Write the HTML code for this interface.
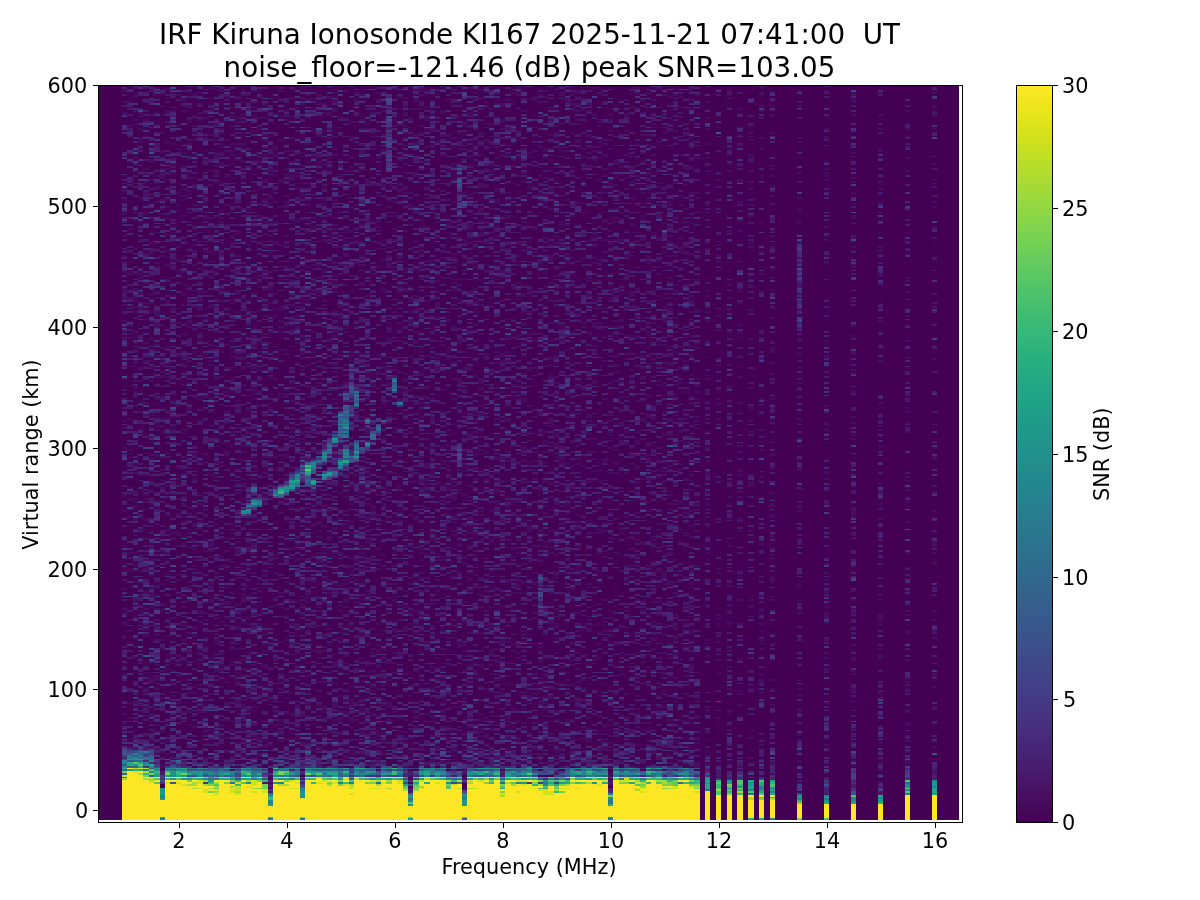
<!DOCTYPE html>
<html lang="en"><head><meta charset="utf-8"><title>IRF Kiruna Ionosonde KI167</title>
<style>
html,body{margin:0;padding:0;background:#fff}
svg{display:block}
text{font-family:"DejaVu Sans","Liberation Sans",sans-serif;fill:#000}
.t{font-size:20.8333px}
.T{font-size:27.7778px;text-anchor:middle;white-space:pre}
#hm{fill:none;shape-rendering:crispEdges}
</style></head><body>
<svg width="1200" height="900" viewBox="0 0 1200 900">
<defs><linearGradient id="vg" x1="0" y1="0" x2="0" y2="1"><stop offset="0.0000" stop-color="#fde725"/><stop offset="0.0312" stop-color="#ece51b"/><stop offset="0.0625" stop-color="#d8e219"/><stop offset="0.0938" stop-color="#c2df23"/><stop offset="0.1250" stop-color="#addc30"/><stop offset="0.1562" stop-color="#98d83e"/><stop offset="0.1875" stop-color="#84d44b"/><stop offset="0.2188" stop-color="#70cf57"/><stop offset="0.2500" stop-color="#5ec962"/><stop offset="0.2812" stop-color="#4ec36b"/><stop offset="0.3125" stop-color="#3fbc73"/><stop offset="0.3438" stop-color="#32b67a"/><stop offset="0.3750" stop-color="#28ae80"/><stop offset="0.4062" stop-color="#22a785"/><stop offset="0.4375" stop-color="#1fa088"/><stop offset="0.4688" stop-color="#1f988b"/><stop offset="0.5000" stop-color="#21918c"/><stop offset="0.5312" stop-color="#23898e"/><stop offset="0.5625" stop-color="#26828e"/><stop offset="0.5938" stop-color="#297a8e"/><stop offset="0.6250" stop-color="#2c728e"/><stop offset="0.6562" stop-color="#2f6b8e"/><stop offset="0.6875" stop-color="#33638d"/><stop offset="0.7188" stop-color="#375b8d"/><stop offset="0.7500" stop-color="#3b528b"/><stop offset="0.7812" stop-color="#3e4989"/><stop offset="0.8125" stop-color="#424086"/><stop offset="0.8438" stop-color="#453781"/><stop offset="0.8750" stop-color="#472d7b"/><stop offset="0.9062" stop-color="#482374"/><stop offset="0.9375" stop-color="#48186a"/><stop offset="0.9688" stop-color="#470d60"/><stop offset="1.0000" stop-color="#440154"/></linearGradient></defs>
<rect width="1200" height="900" fill="#fff"/>
<rect x="99" y="86" width="860" height="734" fill="#440154"/>
<g id="hm">
<g transform="translate(124.5)" stroke-width="5"><path d="M0 820V86" stroke="#470d60" stroke-dasharray="0 81 2 2 2 9 2 7 2 20 1 8 1 19 1 19 1 4 4 10 4 7 2 2 2 18 2 20 1 20 2 15 1 17 2 14 2 45 2 18 2 5 2 15 1 17 1 6 2 31 1 6 2 5 2 3 2 4 2 5 2 7 2 4 3 4 5 15 2 14 2 18 2 20 2 21 4 74 2 9 2 9 2 900"/><path d="M0 820V86" stroke="#481a6c" stroke-dasharray="0 78 2 18 1 13 2 25 2 11 2 11 3 4 2 45 2 18 2 25 2 11 2 1 2 9 2 20 2 9 2 5 2 5 4 4 1 62 2 7 2 3 2 2 2 54 2 20 2 14 4 11 2 16 2 9 2 1 2 7 2 16 2 2 2 9 2 2 1 4 2 13 1 2 2 63 2 7 2 9 2 900"/><path d="M0 820V86" stroke="#482475" stroke-dasharray="0 61 2 24 2 1 4 22 3 11 4 9 2 5 2 5 2 9 2 34 2 38 2 7 2 6 1 2 2 51 2 27 2 16 2 29 1 8 2 1 2 69 2 2 1 6 2 41 2 9 2 4 7 5 2 25 2 4 2 12 2 56 2 18 2 43 2 900"/><path d="M0 820V86" stroke="#472f7d" stroke-dasharray="0 72 2 2 2 2 1 60 2 20 2 61 2 34 2 36 2 60 2 23 2 27 2 33 2 1 2 7 2 9 2 42 2 94 2 29 1 15 2 1 2 24 5 900"/><path d="M0 820V86" stroke="#443983" stroke-dasharray="0 128 2 73 1 19 1 22 2 22 2 9 1 85 2 17 1 69 2 2 2 3 2 9 2 16 2 103 2 9 2 900"/><path d="M0 820V86" stroke="#414487" stroke-dasharray="0 63 2 4 3 288 2 44 1 11 2 71 1 140 2 69 1 900"/><path d="M0 820V86" stroke="#39568c" stroke-dasharray="0 54 2 4 1 4 4 14 2 357 2 900"/><path d="M0 820V86" stroke="#31688e" stroke-dasharray="0 45 2 2 2 900"/><path d="M0 820V86" stroke="#2a788e" stroke-dasharray="0 42 1 900"/><path d="M0 820V86" stroke="#23888e" stroke-dasharray="0 52 2 2 4 900"/><path d="M0 820V86" stroke="#22a884" stroke-dasharray="0 51 1 900"/><path d="M0 820V86" stroke="#7ad151" stroke-dasharray="0 47 2 900"/><path d="M0 820V86" stroke="#a5db36" stroke-dasharray="0 40 2 900"/><path d="M0 820V86" stroke="#d2e21b" stroke-dasharray="0 43 2 900"/><path d="M0 820V86" stroke="#fde725" stroke-dasharray="40 900"/></g>
<g transform="translate(130)" stroke-width="6"><path d="M0 820V86" stroke="#470d60" stroke-dasharray="0 72 2 6 1 17 1 2 2 13 2 70 2 9 2 31 1 15 2 16 2 34 2 15 3 9 2 33 1 2 2 29 2 13 1 17 1 19 1 9 2 17 1 2 2 34 2 22 4 18 2 21 2 65 2 34 2 17 1 4 2 900"/><path d="M0 820V86" stroke="#481a6c" stroke-dasharray="0 87 2 39 4 29 2 5 2 38 2 45 2 4 1 35 2 11 1 15 2 18 2 5 4 36 2 16 2 47 2 27 2 3 2 11 2 9 3 6 3 4 2 36 2 27 2 22 1 8 2 1 4 25 2 15 1 4 4 12 2 4 2 1 2 900"/><path d="M0 820V86" stroke="#482475" stroke-dasharray="0 70 2 20 2 100 1 42 2 31 2 5 2 70 2 24 2 1 2 7 2 2 2 20 2 3 2 47 2 42 1 2 2 53 1 15 2 7 2 30 4 11 2 9 2 14 2 14 2 29 2 11 3 900"/><path d="M0 820V86" stroke="#472f7d" stroke-dasharray="0 76 2 67 2 27 2 181 1 138 2 52 2 107 2 25 2 900"/><path d="M0 820V86" stroke="#443983" stroke-dasharray="0 69 1 153 1 87 2 16 2 11 2 900"/><path d="M0 820V86" stroke="#414487" stroke-dasharray="0 67 2 900"/><path d="M0 820V86" stroke="#39568c" stroke-dasharray="0 58 2 5 2 900"/><path d="M0 820V86" stroke="#31688e" stroke-dasharray="0 52 2 900"/><path d="M0 820V86" stroke="#2a788e" stroke-dasharray="0 61 4 900"/><path d="M0 820V86" stroke="#1f988b" stroke-dasharray="0 49 2 9 1 900"/><path d="M0 820V86" stroke="#22a884" stroke-dasharray="0 54 4 900"/><path d="M0 820V86" stroke="#fde725" stroke-dasharray="49 2 1 900"/></g>
<g transform="translate(135.5)" stroke-width="5"><path d="M0 820V86" stroke="#470d60" stroke-dasharray="0 70 2 8 1 8 1 9 2 15 2 9 1 19 1 24 2 43 4 16 2 14 2 29 2 13 3 8 1 2 2 2 2 1 2 4 2 18 2 5 2 58 2 7 2 3 2 2 2 5 2 13 1 2 4 9 2 5 2 4 1 4 2 18 2 3 2 4 2 1 2 7 2 13 2 23 2 27 2 60 3 4 2 25 2 2 2 7 2 12 4 5 2 900"/><path d="M0 820V86" stroke="#481a6c" stroke-dasharray="0 76 2 3 4 16 2 11 2 2 1 6 2 7 5 42 2 18 2 18 2 38 1 28 1 33 2 2 1 20 2 11 2 13 3 7 2 18 2 16 2 40 2 32 2 20 2 9 2 11 2 3 2 11 2 40 1 15 2 7 2 2 1 6 2 3 2 5 2 900"/><path d="M0 820V86" stroke="#482475" stroke-dasharray="0 72 2 31 2 2 3 40 2 9 2 45 4 18 1 26 2 14 6 16 2 52 2 22 2 9 1 9 4 24 1 9 2 8 3 26 1 62 2 2 1 71 2 63 2 2 2 27 2 21 1 900"/><path d="M0 820V86" stroke="#472f7d" stroke-dasharray="0 78 2 18 1 51 2 31 2 14 2 14 2 16 2 8 1 6 2 36 2 16 2 49 1 84 2 16 2 1 2 13 2 45 4 81 2 38 2 63 2 900"/><path d="M0 820V86" stroke="#443983" stroke-dasharray="0 121 2 5 2 93 3 132 2 22 4 175 2 38 2 54 2 11 2 900"/><path d="M0 820V86" stroke="#414487" stroke-dasharray="0 67 2 193 2 38 2 900"/><path d="M0 820V86" stroke="#3d4d8a" stroke-dasharray="0 69 1 4 2 590 2 900"/><path d="M0 820V86" stroke="#39568c" stroke-dasharray="0 63 2 900"/><path d="M0 820V86" stroke="#355f8d" stroke-dasharray="0 58 2 900"/><path d="M0 820V86" stroke="#31688e" stroke-dasharray="0 52 2 900"/><path d="M0 820V86" stroke="#23888e" stroke-dasharray="0 61 2 2 2 900"/><path d="M0 820V86" stroke="#1f988b" stroke-dasharray="0 54 2 4 1 900"/><path d="M0 820V86" stroke="#35b779" stroke-dasharray="0 49 2 900"/><path d="M0 820V86" stroke="#54c568" stroke-dasharray="0 56 2 900"/><path d="M0 820V86" stroke="#a5db36" stroke-dasharray="0 51 1 900"/><path d="M0 820V86" stroke="#d2e21b" stroke-dasharray="0 47 2 900"/><path d="M0 820V86" stroke="#fde725" stroke-dasharray="47 900"/></g>
<g transform="translate(140.5)" stroke-width="5"><path d="M0 820V86" stroke="#470d60" stroke-dasharray="0 85 2 27 2 11 1 22 2 5 2 2 2 34 2 9 2 4 1 15 2 16 2 2 1 11 2 78 2 61 2 7 2 20 2 9 4 20 1 51 4 5 2 5 2 2 2 32 2 9 2 5 2 22 2 47 2 5 6 7 2 14 2 900"/><path d="M0 820V86" stroke="#481a6c" stroke-dasharray="0 78 3 35 2 14 2 11 2 1 2 6 1 11 2 20 2 20 2 5 4 1 2 11 2 18 2 3 2 24 2 12 4 33 1 8 1 6 2 32 2 5 4 60 2 9 2 7 5 18 2 4 2 1 2 2 2 85 5 24 4 32 2 33 1 6 2 12 2 900"/><path d="M0 820V86" stroke="#482475" stroke-dasharray="0 76 2 18 2 11 1 49 2 33 1 6 2 1 2 22 2 13 1 9 4 2 2 7 2 21 2 38 2 13 2 3 2 11 2 7 2 9 2 1 2 102 1 8 1 6 2 29 2 10 2 13 4 9 1 4 2 3 2 2 2 36 2 4 1 9 2 6 1 17 2 21 2 29 2 900"/><path d="M0 820V86" stroke="#472f7d" stroke-dasharray="0 83 2 18 2 14 2 18 4 118 1 19 1 143 2 18 2 67 2 7 2 24 1 89 2 18 2 70 2 900"/><path d="M0 820V86" stroke="#443983" stroke-dasharray="0 69 3 20 2 71 1 13 2 5 2 91 2 27 2 7 2 159 2 83 2 34 2 900"/><path d="M0 820V86" stroke="#414487" stroke-dasharray="0 72 2 165 2 174 1 900"/><path d="M0 820V86" stroke="#3d4d8a" stroke-dasharray="0 172 2 355 1 178 2 900"/><path d="M0 820V86" stroke="#39568c" stroke-dasharray="0 65 2 900"/><path d="M0 820V86" stroke="#31688e" stroke-dasharray="0 58 2 1 2 4 2 900"/><path d="M0 820V86" stroke="#2a788e" stroke-dasharray="0 63 2 900"/><path d="M0 820V86" stroke="#22a884" stroke-dasharray="0 49 2 1 2 2 2 2 1 900"/><path d="M0 820V86" stroke="#54c568" stroke-dasharray="0 54 2 900"/><path d="M0 820V86" stroke="#a5db36" stroke-dasharray="0 45 2 900"/><path d="M0 820V86" stroke="#d2e21b" stroke-dasharray="0 51 1 900"/><path d="M0 820V86" stroke="#fde725" stroke-dasharray="45 2 2 900"/></g>
<g transform="translate(146)" stroke-width="6"><path d="M0 820V86" stroke="#470d60" stroke-dasharray="0 80 1 2 2 18 2 4 1 2 2 16 2 5 2 8 1 35 2 5 2 12 2 4 2 14 4 20 2 7 2 3 2 24 1 8 3 8 1 6 2 1 2 2 2 18 2 20 1 37 2 10 2 6 1 28 1 4 2 2 1 13 2 22 1 4 2 2 2 5 2 18 2 27 2 11 1 26 2 16 2 1 2 9 2 11 2 31 1 15 2 30 2 900"/><path d="M0 820V86" stroke="#481a6c" stroke-dasharray="0 70 4 11 2 12 2 6 2 1 2 13 2 1 2 22 2 41 2 26 1 13 4 7 2 3 2 13 2 3 2 6 1 11 2 31 2 1 2 20 2 9 2 18 2 18 2 16 2 11 1 6 2 9 2 3 2 5 2 26 1 29 2 17 1 2 2 18 2 14 2 15 1 28 1 2 2 16 2 11 2 36 2 5 2 2 2 7 2 7 2 900"/><path d="M0 820V86" stroke="#482475" stroke-dasharray="0 76 4 34 2 3 2 20 2 7 2 34 2 4 2 5 2 23 2 9 2 18 2 76 4 9 2 48 2 44 2 21 2 4 2 12 2 5 2 13 2 3 2 33 2 21 2 2 2 43 4 9 2 47 2 10 2 24 2 3 2 900"/><path d="M0 820V86" stroke="#472f7d" stroke-dasharray="0 58 2 9 1 48 1 82 2 3 2 13 2 38 1 98 2 45 2 123 2 22 2 3 2 29 4 16 2 25 2 2 2 43 2 5 2 36 1 900"/><path d="M0 820V86" stroke="#443983" stroke-dasharray="0 52 2 9 2 9 2 121 2 34 2 22 2 78 2 32 2 33 1 6 2 123 2 900"/><path d="M0 820V86" stroke="#414487" stroke-dasharray="0 65 2 69 1 78 2 217 2 165 2 900"/><path d="M0 820V86" stroke="#39568c" stroke-dasharray="0 163 2 900"/><path d="M0 820V86" stroke="#31688e" stroke-dasharray="0 60 1 900"/><path d="M0 820V86" stroke="#2a788e" stroke-dasharray="0 49 2 10 2 4 2 900"/><path d="M0 820V86" stroke="#23888e" stroke-dasharray="0 54 4 900"/><path d="M0 820V86" stroke="#35b779" stroke-dasharray="0 45 2 900"/><path d="M0 820V86" stroke="#7ad151" stroke-dasharray="0 43 2 900"/><path d="M0 820V86" stroke="#a5db36" stroke-dasharray="0 40 2 5 2 2 1 900"/><path d="M0 820V86" stroke="#fde725" stroke-dasharray="40 2 1 900"/></g>
<g transform="translate(151.5)" stroke-width="5"><path d="M0 820V86" stroke="#470d60" stroke-dasharray="0 72 2 2 2 12 2 6 1 4 4 2 1 17 1 9 4 2 2 2 1 64 2 10 4 15 3 2 2 9 2 32 2 20 2 2 1 28 1 4 2 5 2 2 2 11 1 4 2 20 2 32 2 11 2 5 2 20 3 24 2 7 2 7 2 16 2 20 4 7 2 58 1 2 2 4 1 11 4 13 1 29 2 900"/><path d="M0 820V86" stroke="#481a6c" stroke-dasharray="0 80 3 2 2 2 1 4 2 16 2 9 2 32 2 6 1 28 1 8 1 26 2 41 2 11 2 12 2 18 2 13 4 5 2 11 1 33 2 7 2 67 2 27 2 20 1 24 4 20 3 29 2 18 2 2 1 4 2 36 2 9 2 11 1 4 2 18 4 7 2 900"/><path d="M0 820V86" stroke="#482475" stroke-dasharray="0 56 2 12 2 11 2 81 2 29 2 22 2 5 2 3 2 17 1 17 2 5 2 20 1 11 2 4 2 9 1 20 2 29 2 7 2 16 2 45 2 7 2 2 2 4 1 20 2 34 2 2 2 2 2 10 2 33 2 25 2 32 2 33 2 32 2 4 1 9 2 900"/><path d="M0 820V86" stroke="#472f7d" stroke-dasharray="0 74 2 49 2 77 2 13 2 29 2 5 2 5 2 31 2 56 2 38 3 11 2 31 2 56 3 15 2 12 2 18 2 60 2 47 1 6 2 900"/><path d="M0 820V86" stroke="#443983" stroke-dasharray="0 101 2 29 2 29 2 5 2 74 2 7 2 9 2 11 2 70 2 5 2 11 2 11 2 38 1 40 2 228 2 900"/><path d="M0 820V86" stroke="#414487" stroke-dasharray="0 65 4 146 2 344 2 44 1 900"/><path d="M0 820V86" stroke="#3d4d8a" stroke-dasharray="0 159 2 107 2 396 2 7 2 900"/><path d="M0 820V86" stroke="#39568c" stroke-dasharray="0 51 1 17 1 900"/><path d="M0 820V86" stroke="#355f8d" stroke-dasharray="0 43 2 18 2 900"/><path d="M0 820V86" stroke="#31688e" stroke-dasharray="0 60 3 900"/><path d="M0 820V86" stroke="#23888e" stroke-dasharray="0 47 2 3 2 4 2 900"/><path d="M0 820V86" stroke="#22a884" stroke-dasharray="0 54 2 900"/><path d="M0 820V86" stroke="#54c568" stroke-dasharray="0 49 2 900"/><path d="M0 820V86" stroke="#7ad151" stroke-dasharray="0 45 2 900"/><path d="M0 820V86" stroke="#a5db36" stroke-dasharray="0 38 4 900"/><path d="M0 820V86" stroke="#fde725" stroke-dasharray="38 4 1 900"/></g>
<g transform="translate(157)" stroke-width="6"><path d="M0 820V86" stroke="#470d60" stroke-dasharray="0 65 2 3 2 22 2 5 2 13 2 12 2 7 6 9 2 23 2 18 2 9 2 21 2 2 2 56 2 65 4 23 2 2 2 1 2 17 1 4 2 20 2 1 2 16 2 9 2 16 6 5 6 12 2 2 4 23 2 2 2 12 2 4 2 9 1 29 2 11 4 2 1 6 2 29 1 31 2 23 2 900"/><path d="M0 820V86" stroke="#481a6c" stroke-dasharray="0 67 2 9 3 6 2 21 2 6 1 4 2 11 1 10 1 2 2 7 2 4 1 11 2 6 1 4 4 21 2 15 1 6 4 10 2 4 2 3 2 2 2 29 1 8 3 6 2 7 2 5 4 63 2 5 2 13 2 1 2 6 3 73 2 1 2 20 2 9 4 12 2 62 1 11 2 9 2 11 2 7 4 1 2 9 2 40 2 900"/><path d="M0 820V86" stroke="#482475" stroke-dasharray="0 56 2 11 1 2 2 24 1 22 2 2 3 35 2 1 2 2 2 76 2 54 2 7 2 9 2 18 2 2 1 49 2 49 2 16 2 9 2 11 1 6 2 49 3 17 1 22 2 2 1 26 2 1 2 31 2 7 2 23 2 24 2 900"/><path d="M0 820V86" stroke="#472f7d" stroke-dasharray="0 63 2 20 2 12 2 2 2 14 2 36 2 2 2 32 2 17 1 2 2 62 1 18 4 2 2 45 2 20 2 5 2 25 2 33 1 8 1 19 1 11 4 11 1 10 1 20 2 2 2 61 4 36 2 22 1 15 2 3 2 6 1 11 2 20 2 900"/><path d="M0 820V86" stroke="#443983" stroke-dasharray="0 54 2 2 2 54 2 52 2 18 2 16 4 13 1 53 2 36 2 50 2 8 1 82 2 27 2 87 1 151 1 900"/><path d="M0 820V86" stroke="#414487" stroke-dasharray="0 52 2 6 1 223 2 72 2 20 2 226 2 105 2 900"/><path d="M0 820V86" stroke="#23888e" stroke-dasharray="0 49 2 900"/><path d="M0 820V86" stroke="#1f988b" stroke-dasharray="0 43 2 6 1 900"/><path d="M0 820V86" stroke="#22a884" stroke-dasharray="0 45 2 900"/><path d="M0 820V86" stroke="#35b779" stroke-dasharray="0 47 2 900"/><path d="M0 820V86" stroke="#54c568" stroke-dasharray="0 36 2 2 2 900"/><path d="M0 820V86" stroke="#fde725" stroke-dasharray="36 2 2 2 1 900"/></g>
<g transform="translate(162.5)" stroke-width="5"><path d="M0 820V86" stroke="#470d60" stroke-dasharray="0 52 4 11 2 18 2 32 2 20 2 3 2 20 2 4 1 2 2 27 2 5 2 18 2 31 2 2 1 4 2 47 2 3 2 6 1 6 2 1 2 6 1 29 2 4 2 5 2 20 2 18 3 2 2 5 2 15 2 21 2 62 1 4 2 40 2 3 2 7 2 20 4 1 2 2 2 3 2 9 4 16 2 16 2 7 2 900"/><path d="M0 820V86" stroke="#481a6c" stroke-dasharray="0 45 4 12 2 7 2 4 2 2 1 28 5 11 2 12 2 31 4 38 1 40 2 27 6 3 2 13 2 7 2 10 2 13 2 16 2 56 2 11 1 22 2 2 2 1 2 15 2 19 2 11 2 5 2 17 1 26 2 3 2 4 1 17 1 28 1 19 1 15 2 63 2 900"/><path d="M0 820V86" stroke="#482475" stroke-dasharray="0 60 1 29 4 4 1 17 2 16 2 52 2 38 2 40 2 7 2 54 2 61 2 9 2 54 2 53 1 11 2 54 2 22 2 23 2 89 2 900"/><path d="M0 820V86" stroke="#472f7d" stroke-dasharray="0 36 2 2 2 27 1 44 2 25 2 2 2 117 2 56 2 4 1 89 2 80 1 82 2 2 1 29 2 29 2 9 2 900"/><path d="M0 820V86" stroke="#443983" stroke-dasharray="0 42 3 36 2 447 2 6 2 59 2 53 1 900"/><path d="M0 820V86" stroke="#414487" stroke-dasharray="0 252 1 250 2 900"/><path d="M0 820V86" stroke="#3d4d8a" stroke-dasharray="0 38 2 112 2 210 2 900"/><path d="M0 820V86" stroke="#2a788e" stroke-dasharray="2 20 1 900"/><path d="M0 820V86" stroke="#23888e" stroke-dasharray="0 23 2 6 1 900"/><path d="M0 820V86" stroke="#1f988b" stroke-dasharray="0 20 2 3 6 900"/><path d="M0 820V86" stroke="#22a884" stroke-dasharray="0 2 1 900"/><path d="M0 820V86" stroke="#fde725" stroke-dasharray="0 3 17 900"/></g>
<g transform="translate(167.5)" stroke-width="5"><path d="M0 820V86" stroke="#470d60" stroke-dasharray="0 54 2 2 2 5 2 11 2 29 1 40 2 2 2 27 2 54 2 3 2 9 2 9 2 20 3 13 2 9 2 16 2 40 2 23 2 32 2 6 2 27 2 43 4 9 1 10 1 13 2 5 2 22 2 14 2 9 2 25 2 4 1 4 2 11 1 13 2 27 4 11 1 900"/><path d="M0 820V86" stroke="#481a6c" stroke-dasharray="0 69 1 28 1 58 2 6 1 31 4 5 2 16 2 31 2 5 2 18 2 20 2 14 2 2 2 21 6 7 2 2 1 10 1 4 2 2 1 20 2 29 2 5 2 9 2 11 2 18 2 32 2 13 2 29 1 9 2 24 2 39 2 20 2 23 2 2 2 18 2 5 2 4 1 900"/><path d="M0 820V86" stroke="#482475" stroke-dasharray="0 74 2 5 2 11 2 3 2 58 2 31 2 74 2 5 2 69 2 39 4 5 2 22 2 3 2 6 1 51 2 14 2 11 2 62 1 9 2 4 2 25 2 2 1 4 2 27 2 3 2 38 2 900"/><path d="M0 820V86" stroke="#472f7d" stroke-dasharray="0 70 4 33 2 9 1 2 2 22 2 23 2 71 1 69 2 22 2 59 2 22 2 29 1 4 2 194 1 2 2 33 1 900"/><path d="M0 820V86" stroke="#443983" stroke-dasharray="0 52 2 2 2 76 2 94 2 38 2 7 2 168 2 9 2 900"/><path d="M0 820V86" stroke="#3d4d8a" stroke-dasharray="0 116 2 92 2 900"/><path d="M0 820V86" stroke="#39568c" stroke-dasharray="0 60 1 900"/><path d="M0 820V86" stroke="#2a788e" stroke-dasharray="0 49 2 900"/><path d="M0 820V86" stroke="#23888e" stroke-dasharray="0 51 1 900"/><path d="M0 820V86" stroke="#1f988b" stroke-dasharray="0 43 2 900"/><path d="M0 820V86" stroke="#35b779" stroke-dasharray="0 40 2 900"/><path d="M0 820V86" stroke="#54c568" stroke-dasharray="0 47 2 900"/><path d="M0 820V86" stroke="#7ad151" stroke-dasharray="0 45 2 900"/><path d="M0 820V86" stroke="#d2e21b" stroke-dasharray="0 36 2 900"/><path d="M0 820V86" stroke="#fde725" stroke-dasharray="36 2 2 2 1 900"/></g>
<g transform="translate(173)" stroke-width="6"><path d="M0 820V86" stroke="#470d60" stroke-dasharray="0 60 1 8 1 6 2 45 2 9 2 12 2 6 1 2 2 27 4 9 2 76 2 5 2 31 1 57 1 8 1 2 2 2 2 7 2 3 2 9 2 5 2 13 2 9 2 43 2 5 2 4 2 12 2 7 2 2 2 3 2 7 2 2 2 3 2 26 1 4 2 3 2 17 1 13 2 4 1 9 2 7 2 4 2 12 2 31 2 16 2 900"/><path d="M0 820V86" stroke="#481a6c" stroke-dasharray="0 56 2 3 2 36 2 4 2 7 2 3 2 15 1 31 2 7 2 33 2 16 2 5 2 2 3 37 1 18 2 11 2 11 2 7 4 48 2 6 1 20 2 9 2 13 3 20 6 9 2 25 2 2 1 40 2 7 6 14 2 16 2 16 2 6 1 26 2 5 2 5 2 13 2 5 2 13 1 8 1 9 4 900"/><path d="M0 820V86" stroke="#482475" stroke-dasharray="0 80 5 5 2 35 1 33 2 3 2 4 2 21 2 17 1 2 4 90 2 15 1 4 2 34 2 4 2 5 2 20 2 30 2 15 1 4 2 3 2 8 1 13 2 2 5 18 2 40 2 11 1 9 2 15 1 11 2 16 2 4 2 3 4 52 2 4 2 3 4 900"/><path d="M0 820V86" stroke="#472f7d" stroke-dasharray="0 67 2 9 2 9 1 11 2 36 2 45 2 60 2 20 2 48 2 9 2 7 2 67 2 36 2 36 2 11 2 34 2 71 1 20 2 18 2 14 2 24 2 36 2 900"/><path d="M0 820V86" stroke="#443983" stroke-dasharray="0 54 2 16 4 20 2 9 2 7 2 29 1 22 2 13 1 8 1 13 2 81 2 65 2 13 2 31 1 114 2 60 2 5 2 27 2 76 2 2 2 900"/><path d="M0 820V86" stroke="#414487" stroke-dasharray="0 58 2 52 2 139 2 6 1 31 2 27 2 20 2 11 1 120 2 20 1 69 2 85 2 900"/><path d="M0 820V86" stroke="#3d4d8a" stroke-dasharray="0 94 2 96 2 217 2 116 1 201 2 900"/><path d="M0 820V86" stroke="#39568c" stroke-dasharray="0 36 2 14 2 326 2 900"/><path d="M0 820V86" stroke="#31688e" stroke-dasharray="0 49 2 900"/><path d="M0 820V86" stroke="#23888e" stroke-dasharray="0 43 2 6 1 900"/><path d="M0 820V86" stroke="#1f988b" stroke-dasharray="0 40 2 3 4 900"/><path d="M0 820V86" stroke="#fde725" stroke-dasharray="36 2 2 2 1 900"/></g>
<g transform="translate(178.5)" stroke-width="5"><path d="M0 820V86" stroke="#470d60" stroke-dasharray="0 60 1 8 1 31 2 13 2 9 1 15 4 10 2 4 3 19 1 53 2 3 2 27 2 9 4 16 2 4 1 9 2 18 2 9 2 13 1 28 1 6 2 9 2 48 2 31 2 13 1 33 2 12 2 8 1 2 2 7 2 25 2 4 2 10 2 42 2 21 2 29 2 900"/><path d="M0 820V86" stroke="#481a6c" stroke-dasharray="0 70 2 13 2 9 2 9 2 3 2 23 2 15 2 3 2 34 2 7 4 18 2 74 2 29 2 18 2 20 2 19 2 6 2 9 1 24 2 23 2 16 2 7 2 11 2 29 2 11 1 37 1 78 2 51 2 900"/><path d="M0 820V86" stroke="#482475" stroke-dasharray="0 54 2 5 2 9 2 7 2 6 1 19 3 7 2 53 2 7 2 5 2 70 2 62 2 36 2 21 2 29 2 34 2 71 2 59 2 74 2 13 4 900"/><path d="M0 820V86" stroke="#472f7d" stroke-dasharray="0 65 2 20 2 14 2 42 1 73 2 175 2 16 2 53 2 70 2 145 2 36 2 900"/><path d="M0 820V86" stroke="#443983" stroke-dasharray="0 52 2 9 2 514 2 900"/><path d="M0 820V86" stroke="#3d4d8a" stroke-dasharray="0 56 2 900"/><path d="M0 820V86" stroke="#31688e" stroke-dasharray="0 58 2 900"/><path d="M0 820V86" stroke="#23888e" stroke-dasharray="0 49 2 900"/><path d="M0 820V86" stroke="#1f988b" stroke-dasharray="0 51 1 900"/><path d="M0 820V86" stroke="#22a884" stroke-dasharray="0 43 2 900"/><path d="M0 820V86" stroke="#35b779" stroke-dasharray="0 45 4 900"/><path d="M0 820V86" stroke="#54c568" stroke-dasharray="0 40 2 900"/><path d="M0 820V86" stroke="#d2e21b" stroke-dasharray="0 36 2 900"/><path d="M0 820V86" stroke="#fde725" stroke-dasharray="36 2 2 2 1 900"/></g>
<g transform="translate(184)" stroke-width="6"><path d="M0 820V86" stroke="#470d60" stroke-dasharray="0 99 2 6 2 50 2 18 2 31 2 10 2 15 2 32 2 20 2 3 2 9 4 5 2 9 2 27 2 22 1 2 2 15 1 27 2 8 1 9 2 18 2 9 2 27 2 9 2 7 2 11 2 5 2 22 1 24 2 14 2 2 2 5 2 20 2 12 2 40 2 3 2 4 2 900"/><path d="M0 820V86" stroke="#481a6c" stroke-dasharray="0 54 2 2 2 21 2 15 1 6 2 16 4 3 2 29 2 5 2 20 2 2 1 22 2 11 2 12 2 27 2 33 2 10 2 4 2 9 2 5 2 5 4 23 2 24 2 14 2 31 1 6 2 1 2 2 2 9 2 14 2 85 2 58 2 2 1 69 2 11 2 900"/><path d="M0 820V86" stroke="#482475" stroke-dasharray="0 52 2 2 2 5 2 2 2 14 2 16 2 9 2 7 2 74 2 4 1 2 2 24 1 15 2 3 2 40 2 9 2 27 2 79 2 9 2 13 2 1 2 18 2 9 2 29 2 40 3 24 2 19 2 35 2 7 2 5 2 29 3 900"/><path d="M0 820V86" stroke="#472f7d" stroke-dasharray="0 69 1 64 2 34 2 4 1 66 1 20 2 25 2 46 1 18 2 55 1 85 2 145 2 24 1 20 2 25 2 900"/><path d="M0 820V86" stroke="#443983" stroke-dasharray="0 145 2 81 2 89 1 102 2 900"/><path d="M0 820V86" stroke="#414487" stroke-dasharray="0 60 1 4 2 275 2 214 1 104 1 900"/><path d="M0 820V86" stroke="#3d4d8a" stroke-dasharray="0 281 1 900"/><path d="M0 820V86" stroke="#23888e" stroke-dasharray="0 49 2 900"/><path d="M0 820V86" stroke="#1f988b" stroke-dasharray="0 40 2 1 2 900"/><path d="M0 820V86" stroke="#22a884" stroke-dasharray="0 47 2 2 1 900"/><path d="M0 820V86" stroke="#7ad151" stroke-dasharray="0 45 2 900"/><path d="M0 820V86" stroke="#d2e21b" stroke-dasharray="0 34 2 900"/><path d="M0 820V86" stroke="#fde725" stroke-dasharray="34 2 4 2 1 900"/></g>
<g transform="translate(189.5)" stroke-width="5"><path d="M0 820V86" stroke="#470d60" stroke-dasharray="0 67 2 14 2 9 2 11 2 47 1 9 2 2 2 14 2 18 2 25 2 2 2 47 2 2 1 8 1 4 4 3 2 20 2 16 2 5 2 22 2 7 2 16 4 2 1 15 2 3 2 15 1 4 2 32 2 2 4 16 2 2 1 11 2 7 2 27 2 25 2 26 1 2 2 11 2 3 2 27 2 2 2 16 4 12 2 900"/><path d="M0 820V86" stroke="#481a6c" stroke-dasharray="0 72 4 51 1 4 2 2 1 2 2 16 2 6 1 2 2 49 2 9 2 18 2 20 1 9 2 45 2 15 2 76 1 15 2 32 8 19 2 11 2 14 2 62 2 11 1 2 2 49 3 10 1 26 2 9 1 9 2 4 2 3 1 900"/><path d="M0 820V86" stroke="#482475" stroke-dasharray="0 61 2 6 1 10 1 29 2 9 2 7 2 13 2 7 2 36 2 83 2 18 2 3 2 44 1 6 2 3 2 5 2 24 2 1 2 9 2 4 2 30 2 18 2 40 4 7 2 1 2 17 1 15 2 5 2 4 1 18 2 31 2 25 2 2 2 16 2 43 2 13 1 900"/><path d="M0 820V86" stroke="#472f7d" stroke-dasharray="0 52 2 6 1 102 2 16 2 18 2 25 2 127 1 89 2 13 1 40 2 40 2 11 1 24 2 47 2 900"/><path d="M0 820V86" stroke="#443983" stroke-dasharray="0 65 2 18 2 170 2 72 2 31 2 5 2 2 2 134 1 35 2 10 2 111 2 900"/><path d="M0 820V86" stroke="#414487" stroke-dasharray="0 56 2 5 2 11 2 94 2 88 2 113 1 56 2 900"/><path d="M0 820V86" stroke="#3d4d8a" stroke-dasharray="0 49 2 170 2 900"/><path d="M0 820V86" stroke="#39568c" stroke-dasharray="0 43 2 900"/><path d="M0 820V86" stroke="#31688e" stroke-dasharray="0 51 1 900"/><path d="M0 820V86" stroke="#23888e" stroke-dasharray="0 47 2 900"/><path d="M0 820V86" stroke="#1f988b" stroke-dasharray="0 40 2 900"/><path d="M0 820V86" stroke="#22a884" stroke-dasharray="0 45 2 900"/><path d="M0 820V86" stroke="#7ad151" stroke-dasharray="0 38 2 2 1 900"/><path d="M0 820V86" stroke="#a5db36" stroke-dasharray="0 34 2 900"/><path d="M0 820V86" stroke="#fde725" stroke-dasharray="34 2 2 900"/></g>
<g transform="translate(194.5)" stroke-width="5"><path d="M0 820V86" stroke="#470d60" stroke-dasharray="0 92 2 9 2 22 1 4 2 5 2 16 2 15 2 7 2 5 4 29 1 2 2 7 2 13 2 1 2 4 2 9 2 7 2 12 4 14 2 15 1 10 3 22 2 7 2 47 2 43 2 20 2 12 2 7 2 26 1 13 2 5 2 4 2 5 2 7 2 5 2 22 2 18 2 5 2 20 1 15 2 12 2 6 2 21 2 7 1 900"/><path d="M0 820V86" stroke="#481a6c" stroke-dasharray="0 63 2 7 2 9 2 14 2 49 2 56 2 23 2 8 1 2 2 14 2 13 2 45 2 3 2 6 2 5 2 16 2 3 2 2 2 9 2 11 1 28 1 4 2 7 4 49 1 22 2 13 1 4 2 11 2 14 2 4 1 9 2 4 2 5 2 7 2 5 2 22 2 12 2 4 3 2 2 25 2 2 2 13 1 18 2 900"/><path d="M0 820V86" stroke="#482475" stroke-dasharray="0 56 4 9 1 35 2 2 1 89 2 5 2 16 2 15 2 30 2 27 2 22 2 20 1 9 2 20 2 22 2 30 2 127 2 43 2 54 2 22 2 900"/><path d="M0 820V86" stroke="#472f7d" stroke-dasharray="0 74 2 36 2 4 1 2 2 63 2 33 2 16 2 72 2 2 2 87 1 64 2 21 2 22 2 1 2 18 2 900"/><path d="M0 820V86" stroke="#443983" stroke-dasharray="0 54 2 4 1 17 2 96 1 42 2 65 2 172 2 199 2 900"/><path d="M0 820V86" stroke="#414487" stroke-dasharray="0 141 2 310 1 900"/><path d="M0 820V86" stroke="#39568c" stroke-dasharray="0 43 2 4 2 900"/><path d="M0 820V86" stroke="#31688e" stroke-dasharray="0 51 1 900"/><path d="M0 820V86" stroke="#23888e" stroke-dasharray="0 45 2 900"/><path d="M0 820V86" stroke="#1f988b" stroke-dasharray="0 47 2 900"/><path d="M0 820V86" stroke="#35b779" stroke-dasharray="0 40 2 900"/><path d="M0 820V86" stroke="#a5db36" stroke-dasharray="0 31 1 2 4 4 1 900"/><path d="M0 820V86" stroke="#fde725" stroke-dasharray="31 1 2 4 2 900"/></g>
<g transform="translate(200)" stroke-width="6"><path d="M0 820V86" stroke="#470d60" stroke-dasharray="0 78 2 27 2 1 2 4 2 16 2 3 2 15 1 9 2 29 2 7 4 4 1 17 1 40 2 9 2 4 3 4 2 16 2 7 2 32 2 38 2 20 2 22 1 33 2 5 2 4 3 15 5 4 2 1 2 4 2 11 1 9 2 62 2 83 2 5 2 7 2 9 2 900"/><path d="M0 820V86" stroke="#481a6c" stroke-dasharray="0 52 2 2 2 7 2 2 1 39 1 8 1 2 2 7 2 27 2 4 1 4 2 4 1 26 1 11 2 11 2 9 2 5 2 11 2 39 2 4 2 47 2 38 3 11 2 34 2 7 4 5 2 17 3 18 2 15 1 13 4 5 4 9 2 20 1 8 1 20 2 29 2 40 2 3 2 4 3 6 2 10 2 18 1 900"/><path d="M0 820V86" stroke="#482475" stroke-dasharray="0 60 1 35 3 15 2 56 4 36 2 3 2 14 2 27 2 31 2 127 1 15 2 5 2 27 2 16 4 25 2 16 2 31 2 27 2 74 2 3 2 4 2 30 2 7 2 900"/><path d="M0 820V86" stroke="#472f7d" stroke-dasharray="0 61 2 4 2 23 2 54 2 91 2 34 2 81 2 63 2 24 2 7 2 52 2 14 2 78 2 11 2 5 2 2 2 85 1 900"/><path d="M0 820V86" stroke="#443983" stroke-dasharray="0 179 2 112 2 297 2 23 2 13 2 30 2 900"/><path d="M0 820V86" stroke="#414487" stroke-dasharray="0 54 2 63 2 102 1 95 1 900"/><path d="M0 820V86" stroke="#39568c" stroke-dasharray="0 49 2 900"/><path d="M0 820V86" stroke="#23888e" stroke-dasharray="0 43 2 6 1 900"/><path d="M0 820V86" stroke="#1f988b" stroke-dasharray="0 45 4 900"/><path d="M0 820V86" stroke="#22a884" stroke-dasharray="0 40 2 900"/><path d="M0 820V86" stroke="#d2e21b" stroke-dasharray="0 31 1 4 4 2 1 900"/><path d="M0 820V86" stroke="#fde725" stroke-dasharray="31 1 4 900"/></g>
<g transform="translate(205.5)" stroke-width="5"><path d="M0 820V86" stroke="#470d60" stroke-dasharray="0 61 2 24 2 12 2 4 2 10 2 6 1 6 2 5 2 22 1 6 2 3 2 2 2 16 2 5 2 29 2 29 2 9 2 12 2 7 2 29 2 29 2 9 2 21 2 15 1 6 3 9 2 29 2 33 1 4 2 4 1 15 2 14 2 11 2 9 2 5 2 25 4 12 2 4 2 34 2 13 1 6 2 18 2 3 2 900"/><path d="M0 820V86" stroke="#481a6c" stroke-dasharray="0 58 3 13 2 7 2 4 1 40 2 11 2 18 2 3 4 16 2 27 2 7 2 16 2 7 2 4 2 11 1 15 2 14 2 11 5 4 2 16 2 11 1 8 1 11 6 16 2 60 1 13 2 13 1 2 2 27 2 22 3 20 2 6 1 18 2 8 1 11 4 9 2 12 2 7 4 20 2 3 2 6 1 15 2 20 1 900"/><path d="M0 820V86" stroke="#482475" stroke-dasharray="0 54 4 11 3 20 2 15 5 9 2 14 2 4 2 14 2 16 2 9 2 3 2 31 4 29 1 15 2 16 2 13 1 11 2 11 2 3 2 35 1 11 2 20 2 31 1 22 2 4 1 24 2 3 2 40 2 14 2 18 4 7 2 32 2 13 4 16 2 30 2 31 2 900"/><path d="M0 820V86" stroke="#472f7d" stroke-dasharray="0 96 2 30 2 6 1 98 2 18 2 16 4 36 2 71 3 36 2 13 2 7 2 103 2 72 2 45 4 42 1 900"/><path d="M0 820V86" stroke="#443983" stroke-dasharray="0 36 2 61 2 36 2 210 2 67 2 25 2 116 2 900"/><path d="M0 820V86" stroke="#414487" stroke-dasharray="0 80 1 13 2 58 3 455 2 16 2 900"/><path d="M0 820V86" stroke="#3d4d8a" stroke-dasharray="0 43 2 4 2 168 2 900"/><path d="M0 820V86" stroke="#31688e" stroke-dasharray="0 45 2 900"/><path d="M0 820V86" stroke="#2a788e" stroke-dasharray="0 51 1 900"/><path d="M0 820V86" stroke="#23888e" stroke-dasharray="0 40 2 5 2 900"/><path d="M0 820V86" stroke="#a5db36" stroke-dasharray="0 34 2 2 2 2 1 900"/><path d="M0 820V86" stroke="#d2e21b" stroke-dasharray="0 27 4 900"/><path d="M0 820V86" stroke="#fde725" stroke-dasharray="27 4 3 900"/></g>
<g transform="translate(211)" stroke-width="6"><path d="M0 820V86" stroke="#470d60" stroke-dasharray="0 54 2 24 1 4 2 2 1 35 2 5 2 13 1 6 2 3 4 54 4 2 1 6 2 1 6 23 2 4 2 3 6 65 2 25 2 20 2 12 2 7 2 2 2 32 2 2 2 9 2 3 2 36 4 25 4 4 1 17 2 9 1 22 2 31 2 12 2 34 2 35 1 8 3 900"/><path d="M0 820V86" stroke="#481a6c" stroke-dasharray="0 56 2 3 2 11 2 5 2 27 2 7 2 13 2 5 2 45 2 14 2 4 2 20 1 37 2 21 2 2 2 25 4 21 2 27 4 27 2 20 3 55 2 32 2 5 2 15 2 9 1 20 6 7 2 2 1 42 2 16 4 18 2 12 2 13 2 3 2 900"/><path d="M0 820V86" stroke="#482475" stroke-dasharray="0 114 2 27 2 7 2 49 1 24 2 18 2 7 2 20 2 52 2 20 2 32 2 36 2 63 2 11 2 87 2 70 2 29 2 4 1 8 1 900"/><path d="M0 820V86" stroke="#472f7d" stroke-dasharray="0 52 2 58 2 25 2 71 2 25 2 112 2 18 2 92 2 25 2 22 2 34 2 136 1 900"/><path d="M0 820V86" stroke="#443983" stroke-dasharray="0 83 2 72 2 303 1 144 1 98 2 900"/><path d="M0 820V86" stroke="#414487" stroke-dasharray="0 92 2 15 1 265 2 36 2 900"/><path d="M0 820V86" stroke="#3d4d8a" stroke-dasharray="0 49 2 14 2 351 2 900"/><path d="M0 820V86" stroke="#39568c" stroke-dasharray="0 51 1 900"/><path d="M0 820V86" stroke="#355f8d" stroke-dasharray="0 43 2 900"/><path d="M0 820V86" stroke="#2a788e" stroke-dasharray="0 40 2 900"/><path d="M0 820V86" stroke="#23888e" stroke-dasharray="0 45 4 900"/><path d="M0 820V86" stroke="#1f988b" stroke-dasharray="0 38 2 900"/><path d="M0 820V86" stroke="#22a884" stroke-dasharray="0 42 1 900"/><path d="M0 820V86" stroke="#35b779" stroke-dasharray="0 36 2 900"/><path d="M0 820V86" stroke="#7ad151" stroke-dasharray="0 27 2 5 2 900"/><path d="M0 820V86" stroke="#a5db36" stroke-dasharray="0 31 1 900"/><path d="M0 820V86" stroke="#fde725" stroke-dasharray="27 2 2 1 2 900"/></g>
<g transform="translate(216.5)" stroke-width="5"><path d="M0 820V86" stroke="#470d60" stroke-dasharray="0 67 2 23 2 54 4 4 1 22 2 9 2 9 2 40 1 2 2 4 1 9 2 6 2 23 2 3 2 4 2 5 2 13 1 4 2 7 2 18 2 9 2 31 1 20 2 11 4 3 2 11 2 18 2 5 2 23 2 15 1 17 2 16 2 12 2 6 1 6 2 41 2 7 2 13 7 11 2 14 2 25 2 6 1 900"/><path d="M0 820V86" stroke="#481a6c" stroke-dasharray="0 74 4 2 1 2 4 52 2 2 2 9 2 20 1 4 2 5 2 14 2 35 2 16 2 21 2 26 3 9 4 3 2 24 2 1 2 17 1 2 2 7 2 7 2 18 2 11 2 16 5 15 2 2 1 15 2 18 2 7 3 9 2 2 2 33 1 18 2 13 2 34 2 2 2 3 2 4 1 28 5 2 2 1 2 4 2 900"/><path d="M0 820V86" stroke="#482475" stroke-dasharray="0 52 2 7 2 2 2 23 2 2 4 12 4 11 2 34 2 2 1 19 1 8 1 13 2 11 2 1 2 35 1 2 2 6 1 11 2 45 2 6 1 6 2 3 2 11 2 12 2 15 3 24 2 9 1 29 4 24 1 2 2 5 2 4 2 2 1 2 2 20 2 7 2 45 2 18 2 9 2 34 2 14 2 20 2 14 2 900"/><path d="M0 820V86" stroke="#472f7d" stroke-dasharray="0 81 2 18 4 52 2 55 1 75 1 13 2 43 2 9 2 4 1 58 2 40 2 69 2 12 4 101 2 29 2 16 2 2 2 3 2 900"/><path d="M0 820V86" stroke="#443983" stroke-dasharray="0 60 1 2 2 4 1 17 2 20 1 18 2 2 2 81 2 64 1 6 2 18 2 119 2 27 2 36 2 5 2 65 2 6 1 142 1 11 1 900"/><path d="M0 820V86" stroke="#414487" stroke-dasharray="0 54 2 96 2 233 2 56 2 31 2 92 2 9 2 900"/><path d="M0 820V86" stroke="#3d4d8a" stroke-dasharray="0 532 2 900"/><path d="M0 820V86" stroke="#39568c" stroke-dasharray="0 43 2 4 3 900"/><path d="M0 820V86" stroke="#31688e" stroke-dasharray="0 47 2 900"/><path d="M0 820V86" stroke="#2a788e" stroke-dasharray="0 40 2 3 2 900"/><path d="M0 820V86" stroke="#54c568" stroke-dasharray="0 34 2 6 1 900"/><path d="M0 820V86" stroke="#7ad151" stroke-dasharray="0 31 1 900"/><path d="M0 820V86" stroke="#a5db36" stroke-dasharray="0 27 2 3 2 2 2 900"/><path d="M0 820V86" stroke="#d2e21b" stroke-dasharray="0 25 2 2 2 900"/><path d="M0 820V86" stroke="#fde725" stroke-dasharray="25 13 2 900"/></g>
<g transform="translate(221.5)" stroke-width="5"><path d="M0 820V86" stroke="#470d60" stroke-dasharray="0 56 2 2 1 2 2 16 4 9 2 3 2 31 2 14 4 2 2 9 3 29 2 13 2 10 2 27 2 7 2 17 1 44 2 25 2 22 1 6 2 45 2 9 2 23 2 34 2 13 2 5 2 3 2 2 2 29 2 9 2 5 2 11 3 2 2 5 2 6 1 19 1 18 2 9 2 4 2 1 2 9 2 2 2 5 2 29 2 3 1 900"/><path d="M0 820V86" stroke="#481a6c" stroke-dasharray="0 52 2 22 5 4 2 16 2 36 2 13 5 7 2 4 2 39 2 65 2 2 2 16 4 14 2 18 2 47 4 20 1 9 2 49 2 9 2 18 2 18 2 21 2 11 2 2 3 9 2 45 2 6 2 28 2 15 2 38 1 2 2 5 2 900"/><path d="M0 820V86" stroke="#482475" stroke-dasharray="0 69 1 20 2 55 1 13 2 14 2 11 2 16 2 9 2 7 2 2 1 6 2 9 2 7 2 30 2 9 2 6 1 46 1 6 2 32 2 80 2 10 2 38 2 6 1 15 2 1 2 33 2 23 2 40 2 16 2 7 2 3 2 27 2 900"/><path d="M0 820V86" stroke="#472f7d" stroke-dasharray="0 121 2 60 2 58 1 71 2 2 3 9 2 53 1 46 1 20 2 17 3 85 2 29 2 11 2 10 2 33 2 50 2 900"/><path d="M0 820V86" stroke="#443983" stroke-dasharray="0 67 2 41 2 123 2 183 2 83 2 78 2 41 2 65 2 900"/><path d="M0 820V86" stroke="#414487" stroke-dasharray="0 434 2 118 2 900"/><path d="M0 820V86" stroke="#355f8d" stroke-dasharray="0 49 3 900"/><path d="M0 820V86" stroke="#2a788e" stroke-dasharray="0 43 2 900"/><path d="M0 820V86" stroke="#23888e" stroke-dasharray="0 47 2 900"/><path d="M0 820V86" stroke="#1f988b" stroke-dasharray="0 45 2 900"/><path d="M0 820V86" stroke="#22a884" stroke-dasharray="0 40 2 900"/><path d="M0 820V86" stroke="#a5db36" stroke-dasharray="0 42 1 900"/><path d="M0 820V86" stroke="#fde725" stroke-dasharray="40 900"/></g>
<g transform="translate(227)" stroke-width="6"><path d="M0 820V86" stroke="#470d60" stroke-dasharray="0 60 1 6 2 12 2 16 2 13 4 19 2 62 2 12 4 2 2 9 1 20 2 13 2 11 1 8 1 73 5 27 2 4 2 2 3 4 2 7 2 3 2 2 2 18 2 21 2 6 1 11 2 13 2 41 2 40 2 18 2 18 2 7 2 23 2 9 2 41 2 4 2 900"/><path d="M0 820V86" stroke="#481a6c" stroke-dasharray="0 56 2 11 1 31 2 6 1 15 3 24 2 27 2 20 1 48 1 6 2 16 2 16 2 27 2 23 2 47 2 38 2 51 3 11 2 4 1 6 2 7 2 14 2 45 2 13 2 25 2 11 1 66 1 6 2 3 2 900"/><path d="M0 820V86" stroke="#482475" stroke-dasharray="0 58 2 27 2 39 2 17 1 2 2 42 1 17 2 21 2 67 2 72 2 20 2 47 2 47 2 23 2 45 2 15 1 4 2 27 2 13 1 17 1 6 2 9 2 25 2 9 2 900"/><path d="M0 820V86" stroke="#472f7d" stroke-dasharray="0 54 2 56 2 109 1 107 2 54 2 15 2 18 1 129 2 74 2 69 2 12 2 9 2 900"/><path d="M0 820V86" stroke="#443983" stroke-dasharray="0 52 2 257 2 105 2 105 2 7 2 90 2 102 1 900"/><path d="M0 820V86" stroke="#3d4d8a" stroke-dasharray="0 49 2 900"/><path d="M0 820V86" stroke="#39568c" stroke-dasharray="0 43 2 900"/><path d="M0 820V86" stroke="#23888e" stroke-dasharray="0 47 2 2 1 900"/><path d="M0 820V86" stroke="#22a884" stroke-dasharray="0 40 2 3 2 900"/><path d="M0 820V86" stroke="#7ad151" stroke-dasharray="0 36 2 900"/><path d="M0 820V86" stroke="#a5db36" stroke-dasharray="0 42 1 900"/><path d="M0 820V86" stroke="#fde725" stroke-dasharray="36 2 2 900"/></g>
<g transform="translate(232.5)" stroke-width="5"><path d="M0 820V86" stroke="#470d60" stroke-dasharray="0 49 2 5 2 11 1 10 1 28 1 2 2 40 2 1 2 11 4 3 2 47 2 29 2 2 1 10 1 13 2 7 2 42 1 6 2 25 2 12 2 15 2 32 4 9 2 10 2 2 2 2 2 28 2 13 2 2 1 26 2 10 2 13 4 3 4 31 1 13 2 13 1 9 2 7 2 2 2 5 2 16 2 17 1 900"/><path d="M0 820V86" stroke="#481a6c" stroke-dasharray="0 60 3 35 1 17 2 3 2 4 1 48 1 13 4 3 4 11 2 88 2 16 2 91 2 14 2 47 2 14 2 2 2 41 2 6 1 8 1 6 2 5 2 14 2 4 2 5 2 4 1 2 4 7 2 5 2 6 1 11 2 34 2 17 1 2 2 900"/><path d="M0 820V86" stroke="#482475" stroke-dasharray="0 58 2 16 2 3 2 6 1 17 2 34 2 36 2 20 3 33 2 40 1 8 1 17 2 14 2 58 2 5 2 9 2 32 2 35 1 13 2 36 2 9 2 25 2 157 2 7 2 900"/><path d="M0 820V86" stroke="#472f7d" stroke-dasharray="0 85 2 41 2 78 2 11 2 12 2 38 2 33 1 33 2 11 1 2 2 36 2 31 2 70 2 38 2 11 2 74 2 900"/><path d="M0 820V86" stroke="#443983" stroke-dasharray="0 54 2 11 2 137 2 38 2 65 2 40 2 900"/><path d="M0 820V86" stroke="#414487" stroke-dasharray="0 422 2 275 2 900"/><path d="M0 820V86" stroke="#31688e" stroke-dasharray="0 36 2 5 2 6 1 900"/><path d="M0 820V86" stroke="#2a788e" stroke-dasharray="0 45 2 900"/><path d="M0 820V86" stroke="#23888e" stroke-dasharray="0 47 2 900"/><path d="M0 820V86" stroke="#1f988b" stroke-dasharray="0 40 2 900"/><path d="M0 820V86" stroke="#35b779" stroke-dasharray="0 42 1 900"/><path d="M0 820V86" stroke="#7ad151" stroke-dasharray="0 38 2 900"/><path d="M0 820V86" stroke="#a5db36" stroke-dasharray="0 32 2 900"/><path d="M0 820V86" stroke="#d2e21b" stroke-dasharray="0 27 4 900"/><path d="M0 820V86" stroke="#fde725" stroke-dasharray="27 4 1 2 2 900"/></g>
<g transform="translate(238)" stroke-width="6"><path d="M0 820V86" stroke="#470d60" stroke-dasharray="0 76 2 27 2 2 1 6 5 4 2 7 2 1 2 8 1 22 2 4 1 8 1 4 4 14 2 4 3 24 2 23 6 5 2 2 1 6 2 10 2 2 2 20 2 7 2 23 2 7 2 7 2 11 2 18 2 5 2 40 2 3 2 40 2 16 4 34 2 20 2 1 2 69 2 11 2 1 2 6 1 13 2 2 2 19 2 9 1 900"/><path d="M0 820V86" stroke="#481a6c" stroke-dasharray="0 65 2 2 3 11 2 11 5 11 4 20 1 19 1 44 2 3 2 36 2 18 2 18 2 7 2 13 2 19 2 8 1 2 2 5 2 36 2 18 4 2 3 11 4 11 2 23 2 9 2 7 2 40 1 10 1 4 4 3 2 22 2 16 2 16 2 3 4 65 2 2 2 1 2 26 1 900"/><path d="M0 820V86" stroke="#482475" stroke-dasharray="0 54 2 4 1 13 2 5 2 4 2 32 2 18 2 9 2 3 2 93 1 19 1 13 2 11 1 6 2 25 2 13 1 18 2 8 1 17 1 35 3 20 2 6 1 17 2 36 2 14 4 12 2 4 2 14 2 47 4 23 2 11 2 50 2 900"/><path d="M0 820V86" stroke="#472f7d" stroke-dasharray="0 63 2 7 2 18 4 54 2 27 4 27 2 34 2 49 2 3 2 13 2 36 2 77 2 20 2 11 2 30 2 17 1 17 2 85 3 17 3 4 2 16 2 43 2 900"/><path d="M0 820V86" stroke="#443983" stroke-dasharray="0 49 2 50 2 272 2 3 2 54 2 35 1 67 2 16 2 120 2 29 1 900"/><path d="M0 820V86" stroke="#414487" stroke-dasharray="0 43 4 456 2 74 2 26 1 900"/><path d="M0 820V86" stroke="#3d4d8a" stroke-dasharray="0 40 2 9 1 900"/><path d="M0 820V86" stroke="#31688e" stroke-dasharray="0 47 2 900"/><path d="M0 820V86" stroke="#1f988b" stroke-dasharray="0 42 1 900"/><path d="M0 820V86" stroke="#35b779" stroke-dasharray="0 34 2 2 2 900"/><path d="M0 820V86" stroke="#a5db36" stroke-dasharray="0 27 2 2 1 900"/><path d="M0 820V86" stroke="#d2e21b" stroke-dasharray="0 25 2 2 2 1 2 2 2 900"/><path d="M0 820V86" stroke="#fde725" stroke-dasharray="25 900"/></g>
<g transform="translate(243.5)" stroke-width="5"><path d="M0 820V86" stroke="#470d60" stroke-dasharray="0 56 2 23 2 7 2 7 2 2 2 7 4 3 2 11 2 16 2 4 1 2 2 9 2 25 2 4 1 4 2 7 6 1 2 7 2 6 2 9 1 28 1 38 2 7 2 4 2 3 2 6 1 9 2 7 2 4 2 9 2 47 3 15 3 6 2 20 1 20 2 6 1 9 2 13 2 40 1 51 2 5 2 18 2 7 2 2 2 3 2 9 2 16 2 11 2 5 2 2 2 3 1 900"/><path d="M0 820V86" stroke="#481a6c" stroke-dasharray="0 52 2 15 1 6 2 9 2 5 2 5 2 4 2 1 2 31 2 85 2 3 2 35 1 18 2 9 2 29 2 16 2 29 2 7 2 7 2 60 1 4 4 3 2 33 2 3 4 5 2 20 2 5 2 2 2 45 2 5 2 29 4 5 2 45 2 2 2 900"/><path d="M0 820V86" stroke="#482475" stroke-dasharray="0 60 3 4 2 36 2 56 2 34 2 9 2 32 2 2 2 5 2 9 2 22 1 24 2 61 4 16 2 15 1 28 1 55 1 11 2 80 2 30 2 8 1 9 2 78 2 900"/><path d="M0 820V86" stroke="#472f7d" stroke-dasharray="0 54 2 14 2 62 2 5 2 45 4 197 2 33 1 60 2 42 1 46 2 30 2 100 2 900"/><path d="M0 820V86" stroke="#443983" stroke-dasharray="0 80 1 28 1 13 2 143 4 39 2 227 1 91 2 34 2 42 1 900"/><path d="M0 820V86" stroke="#414487" stroke-dasharray="0 304 2 235 2 147 2 900"/><path d="M0 820V86" stroke="#2a788e" stroke-dasharray="0 49 2 900"/><path d="M0 820V86" stroke="#23888e" stroke-dasharray="0 43 2 261 4 900"/><path d="M0 820V86" stroke="#1f988b" stroke-dasharray="0 40 2 9 1 900"/><path d="M0 820V86" stroke="#22a884" stroke-dasharray="0 45 2 900"/><path d="M0 820V86" stroke="#35b779" stroke-dasharray="0 47 2 900"/><path d="M0 820V86" stroke="#54c568" stroke-dasharray="0 36 2 900"/><path d="M0 820V86" stroke="#fde725" stroke-dasharray="36 2 2 2 1 900"/></g>
<g transform="translate(248.5)" stroke-width="5"><path d="M0 820V86" stroke="#470d60" stroke-dasharray="0 63 2 4 1 6 2 7 2 20 2 12 4 5 2 27 2 5 2 18 4 5 2 4 2 7 2 2 1 18 2 11 2 5 2 15 2 18 1 26 2 7 2 45 2 12 2 9 2 9 4 11 1 40 2 27 2 15 1 29 2 15 1 15 2 12 2 20 2 4 1 86 1 6 2 12 2 900"/><path d="M0 820V86" stroke="#481a6c" stroke-dasharray="0 87 2 16 2 3 4 13 3 13 2 18 2 14 2 38 2 2 1 15 2 9 2 16 2 2 1 4 4 5 2 9 2 3 2 40 2 2 1 4 2 23 2 6 1 4 2 7 2 14 2 11 2 9 2 14 2 4 1 17 3 13 2 9 2 9 2 12 2 4 2 7 3 53 2 23 2 22 2 9 1 6 2 14 2 25 4 9 2 900"/><path d="M0 820V86" stroke="#482475" stroke-dasharray="0 72 4 7 2 7 2 43 2 37 3 33 2 7 2 32 2 24 1 13 2 34 2 111 1 8 1 9 2 9 2 22 2 1 2 2 2 9 2 22 1 9 2 17 3 35 1 4 2 107 1 900"/><path d="M0 820V86" stroke="#472f7d" stroke-dasharray="0 60 1 19 1 8 1 8 1 33 2 5 2 7 2 11 2 27 2 67 2 23 2 18 2 16 4 2 3 18 4 5 2 22 2 12 2 44 2 56 1 29 2 4 2 7 2 36 2 2 1 2 2 2 2 5 2 47 2 5 2 45 2 2 2 2 1 900"/><path d="M0 820V86" stroke="#443983" stroke-dasharray="0 52 2 11 2 27 4 36 2 36 2 137 2 62 2 94 2 79 2 112 2 15 1 15 2 900"/><path d="M0 820V86" stroke="#414487" stroke-dasharray="0 56 2 257 2 2 1 35 2 20 1 95 1 87 2 33 1 35 2 30 2 40 2 900"/><path d="M0 820V86" stroke="#3d4d8a" stroke-dasharray="0 78 2 77 2 332 1 107 2 900"/><path d="M0 820V86" stroke="#39568c" stroke-dasharray="0 99 2 900"/><path d="M0 820V86" stroke="#31688e" stroke-dasharray="0 49 2 900"/><path d="M0 820V86" stroke="#2a788e" stroke-dasharray="0 306 2 5 2 900"/><path d="M0 820V86" stroke="#23888e" stroke-dasharray="0 36 2 13 1 256 3 900"/><path d="M0 820V86" stroke="#1f988b" stroke-dasharray="0 43 2 900"/><path d="M0 820V86" stroke="#22a884" stroke-dasharray="0 40 2 5 2 900"/><path d="M0 820V86" stroke="#54c568" stroke-dasharray="0 45 2 900"/><path d="M0 820V86" stroke="#a5db36" stroke-dasharray="0 38 2 900"/><path d="M0 820V86" stroke="#d2e21b" stroke-dasharray="0 32 2 900"/><path d="M0 820V86" stroke="#fde725" stroke-dasharray="32 2 2 6 1 900"/></g>
<g transform="translate(254)" stroke-width="6"><path d="M0 820V86" stroke="#470d60" stroke-dasharray="0 56 2 3 2 20 2 9 2 13 1 2 2 5 2 7 2 2 2 14 2 4 2 36 3 9 2 9 2 9 2 18 2 18 2 7 2 7 2 22 2 30 2 9 2 5 2 2 2 2 1 4 2 27 2 18 2 3 2 2 2 7 2 11 2 7 2 12 2 7 2 22 2 16 2 14 2 6 1 19 1 13 2 31 1 11 2 58 2 11 2 1 2 22 2 900"/><path d="M0 820V86" stroke="#481a6c" stroke-dasharray="0 76 2 9 2 7 2 32 2 15 1 26 2 14 2 3 2 9 2 2 2 18 2 41 2 22 2 3 4 18 2 9 2 11 1 4 2 29 2 5 4 38 3 26 1 8 2 3 4 21 2 44 2 36 2 9 1 6 2 2 1 17 1 11 2 6 1 11 2 49 2 2 1 4 2 14 1 900"/><path d="M0 820V86" stroke="#482475" stroke-dasharray="0 54 2 16 2 11 2 34 2 11 2 9 2 10 2 7 2 18 2 15 1 51 2 5 2 6 2 18 1 42 2 34 2 4 2 9 1 8 1 8 2 1 2 2 4 32 2 5 2 24 2 7 2 90 2 11 2 3 2 16 2 4 2 30 2 27 2 11 2 32 2 900"/><path d="M0 820V86" stroke="#472f7d" stroke-dasharray="0 60 1 4 5 10 1 17 1 26 3 22 2 65 2 2 2 20 1 66 1 15 2 36 2 7 2 27 2 174 1 42 2 41 2 11 2 20 2 18 2 9 1 900"/><path d="M0 820V86" stroke="#443983" stroke-dasharray="0 52 2 85 2 47 2 18 2 69 2 30 2 31 2 90 2 25 4 20 2 14 2 18 2 11 2 16 2 58 2 76 1 900"/><path d="M0 820V86" stroke="#414487" stroke-dasharray="0 58 2 260 2 900"/><path d="M0 820V86" stroke="#3d4d8a" stroke-dasharray="0 268 2 900"/><path d="M0 820V86" stroke="#39568c" stroke-dasharray="0 49 2 277 1 900"/><path d="M0 820V86" stroke="#355f8d" stroke-dasharray="0 51 1 261 2 900"/><path d="M0 820V86" stroke="#31688e" stroke-dasharray="0 329 4 900"/><path d="M0 820V86" stroke="#2a788e" stroke-dasharray="0 43 6 270 1 900"/><path d="M0 820V86" stroke="#23888e" stroke-dasharray="0 40 2 275 2 900"/><path d="M0 820V86" stroke="#1f988b" stroke-dasharray="0 315 2 900"/><path d="M0 820V86" stroke="#35b779" stroke-dasharray="0 42 1 900"/><path d="M0 820V86" stroke="#a5db36" stroke-dasharray="0 31 1 900"/><path d="M0 820V86" stroke="#d2e21b" stroke-dasharray="0 27 2 5 6 900"/><path d="M0 820V86" stroke="#fde725" stroke-dasharray="27 2 2 1 2 900"/></g>
<g transform="translate(259.5)" stroke-width="5"><path d="M0 820V86" stroke="#470d60" stroke-dasharray="0 52 2 6 1 2 4 5 2 2 2 3 2 53 1 28 1 29 2 4 2 11 1 2 2 2 2 5 2 2 1 2 2 2 2 31 1 27 2 27 2 13 2 27 2 16 2 20 3 11 2 20 2 16 2 40 2 10 2 9 2 9 2 56 4 9 2 14 2 18 2 2 1 2 2 31 2 9 2 27 1 900"/><path d="M0 820V86" stroke="#481a6c" stroke-dasharray="0 78 2 5 2 31 1 2 4 18 2 2 1 51 2 3 2 35 2 39 2 6 1 40 2 9 2 38 2 41 2 13 4 34 4 7 2 7 2 38 2 12 2 11 2 9 2 5 2 2 1 28 1 46 1 29 2 27 2 7 2 900"/><path d="M0 820V86" stroke="#482475" stroke-dasharray="0 116 2 14 2 54 2 2 2 105 1 22 4 51 3 4 2 48 2 27 2 75 1 8 1 20 2 22 2 38 2 1 2 2 2 9 2 54 4 12 2 900"/><path d="M0 820V86" stroke="#472f7d" stroke-dasharray="0 54 2 13 1 4 2 72 2 6 1 24 4 72 2 18 2 2 1 138 2 31 1 33 2 29 2 36 2 30 2 46 1 29 2 900"/><path d="M0 820V86" stroke="#443983" stroke-dasharray="0 306 2 12 2 71 2 63 2 90 2 47 2 900"/><path d="M0 820V86" stroke="#414487" stroke-dasharray="0 89 1 100 2 197 2 205 1 87 2 900"/><path d="M0 820V86" stroke="#3d4d8a" stroke-dasharray="0 313 2 900"/><path d="M0 820V86" stroke="#39568c" stroke-dasharray="0 49 2 112 2 900"/><path d="M0 820V86" stroke="#2a788e" stroke-dasharray="0 43 2 2 2 2 1 263 5 900"/><path d="M0 820V86" stroke="#22a884" stroke-dasharray="0 40 2 3 2 900"/><path d="M0 820V86" stroke="#7ad151" stroke-dasharray="0 31 1 6 2 900"/><path d="M0 820V86" stroke="#a5db36" stroke-dasharray="0 42 1 900"/><path d="M0 820V86" stroke="#fde725" stroke-dasharray="31 1 6 900"/></g>
<g transform="translate(265)" stroke-width="6"><path d="M0 820V86" stroke="#470d60" stroke-dasharray="0 72 4 2 2 9 1 28 1 9 2 2 2 18 4 12 2 4 2 56 1 4 2 4 3 33 2 9 1 26 2 3 2 18 2 2 2 14 2 42 1 42 2 14 2 18 2 16 2 7 2 15 3 11 2 2 2 23 2 4 1 6 2 3 2 5 2 20 2 16 4 4 1 18 2 13 2 3 2 15 2 12 2 900"/><path d="M0 820V86" stroke="#481a6c" stroke-dasharray="0 36 2 45 2 7 2 4 1 6 4 10 2 24 2 38 1 53 2 7 2 5 4 18 2 36 2 2 1 6 2 25 4 1 2 13 2 12 2 15 2 7 3 4 2 2 1 29 2 15 2 3 2 14 2 20 2 2 2 21 2 6 1 2 2 20 2 41 2 40 2 11 2 34 2 21 2 900"/><path d="M0 820V86" stroke="#482475" stroke-dasharray="0 81 2 2 4 34 2 16 2 47 2 14 2 27 2 60 2 21 2 35 1 6 2 32 2 7 2 22 2 67 1 19 1 11 2 11 2 47 2 5 2 11 2 16 2 27 2 23 2 29 2 900"/><path d="M0 820V86" stroke="#472f7d" stroke-dasharray="0 45 2 18 2 58 2 12 2 24 1 96 2 4 2 11 1 2 2 14 4 27 2 33 1 8 2 45 2 38 1 4 2 13 1 28 1 51 2 27 2 56 2 16 2 20 2 3 2 900"/><path d="M0 820V86" stroke="#443983" stroke-dasharray="0 49 2 5 4 70 2 45 2 31 2 157 2 7 2 49 2 16 2 25 2 33 2 114 1 20 2 9 2 22 2 38 1 900"/><path d="M0 820V86" stroke="#414487" stroke-dasharray="0 43 2 49 2 473 1 140 2 900"/><path d="M0 820V86" stroke="#3d4d8a" stroke-dasharray="0 40 2 21 2 4 1 604 1 900"/><path d="M0 820V86" stroke="#39568c" stroke-dasharray="0 51 1 900"/><path d="M0 820V86" stroke="#31688e" stroke-dasharray="0 47 2 900"/><path d="M0 820V86" stroke="#22a884" stroke-dasharray="0 42 1 900"/><path d="M0 820V86" stroke="#35b779" stroke-dasharray="0 38 2 900"/><path d="M0 820V86" stroke="#7ad151" stroke-dasharray="0 31 5 900"/><path d="M0 820V86" stroke="#d2e21b" stroke-dasharray="0 27 4 900"/><path d="M0 820V86" stroke="#fde725" stroke-dasharray="27 900"/></g>
<g transform="translate(270.5)" stroke-width="5"><path d="M0 820V86" stroke="#470d60" stroke-dasharray="0 36 2 5 2 13 2 14 2 13 1 24 2 20 1 31 2 42 2 25 2 20 3 13 2 2 1 60 2 18 2 43 2 2 2 3 2 7 2 15 2 3 2 27 2 4 1 4 2 27 2 12 4 33 2 14 2 16 2 18 4 23 4 18 2 11 1 13 2 900"/><path d="M0 820V86" stroke="#481a6c" stroke-dasharray="0 27 2 3 4 33 1 6 2 18 2 23 2 5 2 20 2 38 2 14 2 44 1 2 2 2 2 3 2 16 2 36 2 4 3 4 2 16 2 56 2 9 2 22 1 15 3 46 2 14 2 7 4 9 2 29 1 9 2 4 3 19 1 15 2 18 2 7 2 3 4 7 2 25 4 4 3 900"/><path d="M0 820V86" stroke="#482475" stroke-dasharray="0 38 2 21 2 22 2 11 1 31 2 2 2 1 2 47 2 40 4 3 2 29 2 5 2 15 1 33 2 14 2 2 2 20 3 9 2 13 2 54 2 14 2 22 2 1 2 4 2 1 2 20 2 16 2 26 1 75 1 40 2 11 2 20 1 900"/><path d="M0 820V86" stroke="#472f7d" stroke-dasharray="0 45 2 5 2 116 4 2 1 172 2 13 2 38 2 152 1 15 2 36 2 20 2 19 2 18 2 33 2 900"/><path d="M0 820V86" stroke="#443983" stroke-dasharray="0 29 2 68 2 80 2 25 2 85 2 32 2 64 1 55 2 146 2 35 1 900"/><path d="M0 820V86" stroke="#414487" stroke-dasharray="0 355 2 16 2 21 2 259 2 900"/><path d="M0 820V86" stroke="#3d4d8a" stroke-dasharray="0 60 1 900"/><path d="M0 820V86" stroke="#31688e" stroke-dasharray="0 25 2 900"/><path d="M0 820V86" stroke="#2a788e" stroke-dasharray="2 900"/><path d="M0 820V86" stroke="#23888e" stroke-dasharray="0 16 4 900"/><path d="M0 820V86" stroke="#1f988b" stroke-dasharray="0 14 2 7 2 900"/><path d="M0 820V86" stroke="#35b779" stroke-dasharray="0 2 1 17 3 900"/><path d="M0 820V86" stroke="#fde725" stroke-dasharray="0 3 11 900"/></g>
<g transform="translate(275.5)" stroke-width="5"><path d="M0 820V86" stroke="#470d60" stroke-dasharray="0 87 2 5 2 11 2 10 2 38 4 58 2 23 2 16 2 24 1 6 2 34 2 4 1 9 2 11 2 40 3 33 2 61 2 6 1 13 2 9 2 38 3 11 2 4 3 18 2 35 1 8 3 4 5 900"/><path d="M0 820V86" stroke="#481a6c" stroke-dasharray="0 60 1 22 2 14 2 8 1 8 1 33 2 41 2 17 1 4 2 18 2 70 2 58 2 18 2 58 2 20 1 42 4 29 1 11 4 23 2 13 2 21 2 2 4 14 2 7 2 25 4 16 2 900"/><path d="M0 820V86" stroke="#482475" stroke-dasharray="0 61 2 49 2 7 4 11 1 26 2 3 2 4 2 3 2 80 1 51 2 16 2 49 2 9 2 23 4 9 2 54 2 63 2 15 1 15 2 7 2 40 1 18 2 60 2 900"/><path d="M0 820V86" stroke="#472f7d" stroke-dasharray="0 69 3 84 1 19 1 26 1 24 2 237 2 255 2 900"/><path d="M0 820V86" stroke="#443983" stroke-dasharray="0 52 4 29 2 16 2 232 2 34 2 32 2 51 2 900"/><path d="M0 820V86" stroke="#414487" stroke-dasharray="0 58 2 231 2 29 2 379 1 900"/><path d="M0 820V86" stroke="#39568c" stroke-dasharray="0 49 2 278 2 900"/><path d="M0 820V86" stroke="#31688e" stroke-dasharray="0 326 3 900"/><path d="M0 820V86" stroke="#23888e" stroke-dasharray="0 43 2 279 2 900"/><path d="M0 820V86" stroke="#1f988b" stroke-dasharray="0 36 2 900"/><path d="M0 820V86" stroke="#22a884" stroke-dasharray="0 47 2 900"/><path d="M0 820V86" stroke="#35b779" stroke-dasharray="0 40 2 3 2 4 1 900"/><path d="M0 820V86" stroke="#a5db36" stroke-dasharray="0 42 1 900"/><path d="M0 820V86" stroke="#fde725" stroke-dasharray="36 2 2 900"/></g>
<g transform="translate(281)" stroke-width="6"><path d="M0 820V86" stroke="#470d60" stroke-dasharray="0 78 2 5 2 7 2 2 3 17 1 11 2 5 2 6 2 30 2 33 2 12 2 4 1 8 2 63 2 7 2 18 2 3 2 6 1 15 2 5 2 49 2 1 2 42 2 16 2 3 2 4 2 9 2 1 2 26 1 8 1 2 2 4 1 15 2 36 2 23 4 38 2 22 1 17 1 6 2 900"/><path d="M0 820V86" stroke="#481a6c" stroke-dasharray="0 87 2 1 2 15 2 27 1 6 2 23 2 33 1 40 2 9 2 25 2 33 2 30 4 34 2 69 2 69 1 66 1 111 2 9 2 10 2 900"/><path d="M0 820V86" stroke="#482475" stroke-dasharray="0 56 2 69 1 13 2 18 2 52 2 53 2 3 2 92 2 13 2 18 2 157 2 101 2 900"/><path d="M0 820V86" stroke="#472f7d" stroke-dasharray="0 61 4 2 2 12 2 22 2 43 2 71 1 42 2 89 1 76 2 100 2 5 2 116 2 36 2 12 2 900"/><path d="M0 820V86" stroke="#414487" stroke-dasharray="0 54 2 2 2 273 2 900"/><path d="M0 820V86" stroke="#355f8d" stroke-dasharray="0 322 2 900"/><path d="M0 820V86" stroke="#31688e" stroke-dasharray="0 49 2 273 2 900"/><path d="M0 820V86" stroke="#2a788e" stroke-dasharray="0 43 2 6 1 900"/><path d="M0 820V86" stroke="#23888e" stroke-dasharray="0 36 2 293 2 900"/><path d="M0 820V86" stroke="#1f988b" stroke-dasharray="0 40 2 900"/><path d="M0 820V86" stroke="#22a884" stroke-dasharray="0 329 2 900"/><path d="M0 820V86" stroke="#35b779" stroke-dasharray="0 326 3 900"/><path d="M0 820V86" stroke="#7ad151" stroke-dasharray="0 45 4 900"/><path d="M0 820V86" stroke="#a5db36" stroke-dasharray="0 34 2 900"/><path d="M0 820V86" stroke="#d2e21b" stroke-dasharray="0 42 1 900"/><path d="M0 820V86" stroke="#fde725" stroke-dasharray="34 4 2 900"/></g>
<g transform="translate(286.5)" stroke-width="5"><path d="M0 820V86" stroke="#470d60" stroke-dasharray="0 58 3 2 2 2 2 52 2 14 2 26 1 13 2 16 2 4 1 6 2 14 2 2 2 5 2 40 2 5 2 11 1 39 3 20 4 14 2 11 2 21 2 4 2 1 2 2 2 34 2 2 2 23 2 18 2 36 2 29 2 27 4 1 2 4 2 25 2 16 2 29 2 3 2 2 2 900"/><path d="M0 820V86" stroke="#481a6c" stroke-dasharray="0 80 1 15 5 6 2 18 3 9 2 47 2 11 2 16 2 34 6 29 1 9 4 16 2 22 2 9 2 12 6 9 2 16 2 7 2 11 1 55 3 13 2 14 2 6 1 19 1 2 2 5 2 20 2 2 3 58 2 6 1 15 2 32 2 6 1 13 5 900"/><path d="M0 820V86" stroke="#482475" stroke-dasharray="0 52 2 15 5 18 2 38 2 25 2 5 2 60 2 11 2 27 2 119 2 7 2 85 2 12 2 8 1 6 2 16 2 20 1 77 1 4 2 29 2 32 2 900"/><path d="M0 820V86" stroke="#472f7d" stroke-dasharray="0 61 2 2 2 89 1 124 1 33 2 18 2 16 2 20 2 54 2 9 2 88 2 15 1 46 1 11 2 64 1 900"/><path d="M0 820V86" stroke="#443983" stroke-dasharray="0 56 2 76 2 81 2 105 2 11 2 342 2 900"/><path d="M0 820V86" stroke="#414487" stroke-dasharray="0 154 2 106 2 154 2 900"/><path d="M0 820V86" stroke="#355f8d" stroke-dasharray="0 326 2 900"/><path d="M0 820V86" stroke="#31688e" stroke-dasharray="0 49 2 282 2 900"/><path d="M0 820V86" stroke="#23888e" stroke-dasharray="0 43 2 6 1 277 2 900"/><path d="M0 820V86" stroke="#1f988b" stroke-dasharray="0 328 1 2 2 900"/><path d="M0 820V86" stroke="#22a884" stroke-dasharray="0 40 2 900"/><path d="M0 820V86" stroke="#35b779" stroke-dasharray="0 45 2 900"/><path d="M0 820V86" stroke="#54c568" stroke-dasharray="0 47 2 900"/><path d="M0 820V86" stroke="#7ad151" stroke-dasharray="0 38 2 900"/><path d="M0 820V86" stroke="#a5db36" stroke-dasharray="0 34 2 900"/><path d="M0 820V86" stroke="#d2e21b" stroke-dasharray="0 42 1 900"/><path d="M0 820V86" stroke="#fde725" stroke-dasharray="34 2 2 900"/></g>
<g transform="translate(292)" stroke-width="6"><path d="M0 820V86" stroke="#470d60" stroke-dasharray="0 56 2 22 1 4 2 18 2 20 1 58 2 6 3 22 2 49 2 7 2 14 2 14 2 2 2 34 2 7 2 15 1 9 2 2 2 11 2 12 2 16 2 11 2 22 1 15 2 3 2 2 2 14 2 16 2 4 2 38 1 17 1 2 2 24 1 13 6 12 2 9 2 11 2 20 1 26 1 900"/><path d="M0 820V86" stroke="#481a6c" stroke-dasharray="0 61 2 4 2 27 2 20 1 22 2 5 2 15 1 8 2 7 2 27 2 3 2 5 4 33 1 2 2 25 4 2 2 1 2 44 2 10 2 13 2 3 2 20 2 23 2 11 2 7 2 2 2 32 4 11 3 17 1 4 2 7 2 7 4 3 2 51 2 29 2 85 1 9 2 900"/><path d="M0 820V86" stroke="#482475" stroke-dasharray="0 49 2 12 2 25 2 55 1 8 1 15 2 3 2 13 2 20 1 20 2 16 2 55 1 6 3 8 1 33 2 18 2 12 2 13 2 18 2 88 2 13 2 11 1 17 2 21 2 9 2 2 2 43 2 12 2 26 1 4 2 11 2 900"/><path d="M0 820V86" stroke="#472f7d" stroke-dasharray="0 54 2 60 2 81 2 241 2 52 2 63 2 56 2 9 2 23 2 900"/><path d="M0 820V86" stroke="#443983" stroke-dasharray="0 52 2 24 2 201 1 38 2 22 2 161 2 105 2 900"/><path d="M0 820V86" stroke="#414487" stroke-dasharray="0 60 1 13 2 103 2 69 2 32 2 56 2 183 2 119 2 900"/><path d="M0 820V86" stroke="#39568c" stroke-dasharray="0 329 2 9 2 900"/><path d="M0 820V86" stroke="#355f8d" stroke-dasharray="0 43 2 900"/><path d="M0 820V86" stroke="#2a788e" stroke-dasharray="0 51 1 900"/><path d="M0 820V86" stroke="#23888e" stroke-dasharray="0 40 2 5 2 286 2 900"/><path d="M0 820V86" stroke="#1f988b" stroke-dasharray="0 45 2 284 4 2 3 900"/><path d="M0 820V86" stroke="#7ad151" stroke-dasharray="0 42 1 900"/><path d="M0 820V86" stroke="#d2e21b" stroke-dasharray="0 31 1 6 2 900"/><path d="M0 820V86" stroke="#fde725" stroke-dasharray="31 1 6 900"/></g>
<g transform="translate(297.5)" stroke-width="5"><path d="M0 820V86" stroke="#470d60" stroke-dasharray="0 83 2 7 2 2 2 14 4 31 1 2 2 14 2 2 2 13 1 6 2 1 2 9 2 2 2 5 2 40 3 13 2 2 2 9 1 66 1 8 1 11 4 18 2 13 1 8 1 8 1 22 2 18 2 4 1 2 2 4 3 9 2 7 2 27 2 6 1 4 2 31 1 9 4 15 1 2 2 9 2 4 1 6 2 1 2 6 1 2 2 53 1 900"/><path d="M0 820V86" stroke="#481a6c" stroke-dasharray="0 65 2 3 2 8 1 18 2 2 2 25 2 7 2 11 2 14 2 24 1 38 2 13 2 32 2 24 2 19 2 20 2 14 2 60 2 23 2 42 2 34 2 2 2 12 2 20 4 7 2 1 2 18 2 11 2 27 2 7 2 5 2 20 2 11 2 900"/><path d="M0 820V86" stroke="#482475" stroke-dasharray="0 52 2 6 1 2 2 2 2 16 2 7 2 2 1 6 4 1 2 6 1 6 2 5 2 56 2 40 1 10 1 6 2 1 2 11 2 32 2 8 1 6 2 12 2 16 2 20 2 2 2 7 2 3 2 4 1 13 2 5 2 7 2 36 2 24 2 25 2 14 2 33 2 1 2 96 2 33 3 9 2 900"/><path d="M0 820V86" stroke="#472f7d" stroke-dasharray="0 58 2 1 2 26 1 19 1 17 1 44 2 2 1 69 2 24 1 4 2 47 2 41 2 125 2 2 1 8 2 10 4 11 2 25 2 42 1 9 2 60 2 25 2 14 2 4 2 900"/><path d="M0 820V86" stroke="#443983" stroke-dasharray="0 54 2 13 1 6 2 70 2 9 2 47 2 34 2 56 2 42 3 38 2 31 4 12 2 42 2 65 2 106 2 51 2 900"/><path d="M0 820V86" stroke="#414487" stroke-dasharray="0 56 2 429 2 90 2 11 2 103 2 18 2 900"/><path d="M0 820V86" stroke="#3d4d8a" stroke-dasharray="0 43 2 900"/><path d="M0 820V86" stroke="#355f8d" stroke-dasharray="0 49 2 900"/><path d="M0 820V86" stroke="#2a788e" stroke-dasharray="0 45 4 284 4 5 2 900"/><path d="M0 820V86" stroke="#23888e" stroke-dasharray="0 51 1 288 2 2 2 900"/><path d="M0 820V86" stroke="#1f988b" stroke-dasharray="0 337 2 900"/><path d="M0 820V86" stroke="#22a884" stroke-dasharray="0 339 1 900"/><path d="M0 820V86" stroke="#35b779" stroke-dasharray="0 40 2 900"/><path d="M0 820V86" stroke="#a5db36" stroke-dasharray="0 42 1 900"/><path d="M0 820V86" stroke="#d2e21b" stroke-dasharray="0 31 1 4 2 900"/><path d="M0 820V86" stroke="#fde725" stroke-dasharray="31 1 4 2 2 900"/></g>
<g transform="translate(302.5)" stroke-width="5"><path d="M0 820V86" stroke="#470d60" stroke-dasharray="0 76 2 25 4 41 2 15 1 10 1 13 2 12 2 9 2 6 1 37 1 38 2 58 2 9 2 4 1 2 2 4 3 13 2 9 2 34 2 9 3 2 4 9 2 2 3 27 2 2 2 2 1 78 2 15 1 6 2 1 2 8 1 8 1 17 1 2 2 29 2 16 2 14 3 900"/><path d="M0 820V86" stroke="#481a6c" stroke-dasharray="0 40 2 3 2 7 4 3 2 11 2 31 2 16 2 16 2 2 1 35 2 16 2 3 2 4 2 5 2 14 6 3 2 24 2 21 2 2 2 11 3 11 2 11 2 16 2 5 2 5 2 25 2 22 2 12 2 8 1 26 2 25 2 9 2 19 4 15 1 4 2 13 3 4 2 12 2 9 2 16 2 9 2 11 2 9 1 66 1 900"/><path d="M0 820V86" stroke="#482475" stroke-dasharray="0 36 2 14 2 62 2 3 2 47 2 2 2 3 2 51 1 20 2 9 2 11 2 5 4 32 2 7 2 35 1 33 2 5 2 44 1 20 4 33 1 11 2 4 1 13 2 13 1 26 2 27 2 25 2 3 2 2 2 34 2 11 2 3 2 11 2 7 2 900"/><path d="M0 820V86" stroke="#472f7d" stroke-dasharray="0 42 1 4 2 9 2 7 3 29 2 26 1 8 1 104 2 12 2 15 1 26 1 39 3 2 2 2 1 62 2 2 1 9 2 18 2 22 2 56 2 99 2 62 1 900"/><path d="M0 820V86" stroke="#443983" stroke-dasharray="0 34 2 15 1 29 2 78 2 67 2 16 2 2 1 75 1 4 2 16 2 150 2 56 2 114 2 9 2 900"/><path d="M0 820V86" stroke="#414487" stroke-dasharray="0 38 2 45 2 43 2 210 2 156 1 55 2 900"/><path d="M0 820V86" stroke="#3d4d8a" stroke-dasharray="0 32 2 158 2 155 2 7 2 219 2 900"/><path d="M0 820V86" stroke="#39568c" stroke-dasharray="0 152 2 900"/><path d="M0 820V86" stroke="#355f8d" stroke-dasharray="0 353 2 900"/><path d="M0 820V86" stroke="#31688e" stroke-dasharray="0 346 2 900"/><path d="M0 820V86" stroke="#2a788e" stroke-dasharray="2 27 2 900"/><path d="M0 820V86" stroke="#23888e" stroke-dasharray="0 22 1 900"/><path d="M0 820V86" stroke="#1f988b" stroke-dasharray="0 23 6 2 1 900"/><path d="M0 820V86" stroke="#7ad151" stroke-dasharray="0 2 1 900"/><path d="M0 820V86" stroke="#fde725" stroke-dasharray="0 3 19 900"/></g>
<g transform="translate(308)" stroke-width="6"><path d="M0 820V86" stroke="#470d60" stroke-dasharray="0 76 2 25 2 9 4 25 2 11 1 31 2 2 2 14 2 2 2 3 2 2 2 1 4 2 2 9 2 16 2 30 2 7 2 4 2 3 2 6 1 2 2 36 2 29 2 29 2 1 2 15 2 10 2 60 2 2 1 4 4 23 2 20 2 11 1 6 2 3 2 6 1 6 3 2 2 15 1 17 1 2 2 16 2 24 2 16 2 3 2 900"/><path d="M0 820V86" stroke="#481a6c" stroke-dasharray="0 54 2 7 2 5 2 2 2 4 1 9 2 2 2 3 2 9 2 6 1 6 2 7 2 34 2 13 3 6 3 2 2 27 2 9 2 11 1 8 1 22 4 41 2 27 2 22 4 1 2 9 6 5 2 2 2 18 1 46 2 12 2 51 2 10 2 6 2 19 4 38 2 16 2 13 1 28 1 13 2 25 1 900"/><path d="M0 820V86" stroke="#482475" stroke-dasharray="0 58 2 9 1 42 2 34 2 16 2 6 2 28 2 42 2 47 2 16 2 11 1 33 2 3 2 8 1 18 2 6 2 83 2 16 2 14 2 5 2 44 2 1 2 15 1 4 2 25 2 34 2 11 2 2 2 20 1 900"/><path d="M0 820V86" stroke="#472f7d" stroke-dasharray="0 52 2 7 2 9 2 27 2 16 2 147 2 3 6 23 2 16 2 53 2 34 2 54 2 9 2 3 2 11 2 16 2 105 2 2 1 15 2 2 1 42 2 18 2 2 1 13 2 900"/><path d="M0 820V86" stroke="#443983" stroke-dasharray="0 65 2 14 2 2 2 43 2 40 2 5 2 29 2 45 2 23 2 152 2 24 1 69 2 7 2 15 1 93 2 25 2 23 2 11 2 900"/><path d="M0 820V86" stroke="#414487" stroke-dasharray="0 56 2 2 1 102 2 125 1 42 2 29 2 107 1 71 2 123 2 900"/><path d="M0 820V86" stroke="#3d4d8a" stroke-dasharray="0 335 2 5 2 192 2 900"/><path d="M0 820V86" stroke="#39568c" stroke-dasharray="0 340 2 15 1 900"/><path d="M0 820V86" stroke="#355f8d" stroke-dasharray="0 43 2 22 2 268 3 15 2 900"/><path d="M0 820V86" stroke="#2a788e" stroke-dasharray="0 49 2 900"/><path d="M0 820V86" stroke="#23888e" stroke-dasharray="0 344 2 900"/><path d="M0 820V86" stroke="#1f988b" stroke-dasharray="0 51 1 299 2 900"/><path d="M0 820V86" stroke="#22a884" stroke-dasharray="0 47 2 297 3 900"/><path d="M0 820V86" stroke="#35b779" stroke-dasharray="0 40 2 311 2 900"/><path d="M0 820V86" stroke="#54c568" stroke-dasharray="0 349 2 900"/><path d="M0 820V86" stroke="#7ad151" stroke-dasharray="0 45 2 900"/><path d="M0 820V86" stroke="#fde725" stroke-dasharray="40 2 1 900"/></g>
<g transform="translate(313.5)" stroke-width="5"><path d="M0 820V86" stroke="#470d60" stroke-dasharray="0 85 2 12 2 53 2 12 2 67 2 34 2 11 2 5 4 29 2 39 2 18 2 2 2 18 2 3 2 4 2 43 2 18 2 47 4 10 2 2 2 2 1 10 3 6 1 13 2 7 2 18 2 18 2 18 2 14 2 9 2 13 1 8 1 8 1 900"/><path d="M0 820V86" stroke="#481a6c" stroke-dasharray="0 60 1 8 1 6 2 43 2 14 2 18 2 33 2 1 4 40 2 21 2 38 6 5 2 4 1 9 2 29 2 7 2 6 1 8 1 6 2 9 2 7 2 10 2 2 4 16 2 5 2 67 2 2 1 35 2 5 2 60 2 28 2 40 2 900"/><path d="M0 820V86" stroke="#482475" stroke-dasharray="0 61 4 15 1 26 2 27 1 10 1 4 2 50 2 2 2 11 2 18 2 1 2 2 2 58 3 9 2 6 1 42 2 9 2 5 2 7 2 24 1 37 1 31 2 11 2 31 1 40 2 14 2 26 1 6 2 20 1 13 2 38 2 7 2 7 2 900"/><path d="M0 820V86" stroke="#472f7d" stroke-dasharray="0 56 2 43 2 15 3 18 2 91 1 91 2 7 2 67 2 23 2 11 2 79 2 36 2 27 2 17 1 40 2 2 2 50 2 900"/><path d="M0 820V86" stroke="#443983" stroke-dasharray="0 52 2 4 2 14 2 2 2 65 2 72 2 119 2 53 1 48 1 89 2 31 2 67 1 33 2 900"/><path d="M0 820V86" stroke="#414487" stroke-dasharray="0 54 2 219 2 81 2 214 2 83 2 900"/><path d="M0 820V86" stroke="#3d4d8a" stroke-dasharray="0 43 2 210 2 91 1 900"/><path d="M0 820V86" stroke="#39568c" stroke-dasharray="0 49 2 280 2 13 2 900"/><path d="M0 820V86" stroke="#31688e" stroke-dasharray="0 349 2 900"/><path d="M0 820V86" stroke="#2a788e" stroke-dasharray="0 351 2 900"/><path d="M0 820V86" stroke="#23888e" stroke-dasharray="0 51 1 287 1 13 5 900"/><path d="M0 820V86" stroke="#1f988b" stroke-dasharray="0 47 2 286 2 900"/><path d="M0 820V86" stroke="#22a884" stroke-dasharray="0 45 2 290 2 900"/><path d="M0 820V86" stroke="#35b779" stroke-dasharray="0 36 2 2 2 900"/><path d="M0 820V86" stroke="#fde725" stroke-dasharray="36 2 2 2 1 900"/></g>
<g transform="translate(319)" stroke-width="6"><path d="M0 820V86" stroke="#470d60" stroke-dasharray="0 72 2 29 2 4 1 4 2 12 2 7 2 22 2 3 4 15 1 22 2 2 2 9 1 33 4 5 2 14 2 4 2 5 4 20 3 7 2 38 2 20 2 2 1 6 2 7 2 5 2 7 2 4 1 2 2 2 2 16 2 36 2 25 2 2 3 11 2 11 2 31 1 15 2 34 2 13 1 2 2 5 2 17 3 29 2 2 2 1 4 900"/><path d="M0 820V86" stroke="#481a6c" stroke-dasharray="0 52 4 2 2 1 2 4 2 1 2 44 2 38 1 37 1 6 2 14 2 2 2 23 4 25 2 31 3 4 4 34 2 12 2 18 2 36 2 17 3 36 2 65 2 4 2 1 2 17 1 15 2 16 4 5 2 23 2 4 2 9 1 40 2 27 1 900"/><path d="M0 820V86" stroke="#482475" stroke-dasharray="0 56 2 2 1 24 2 5 2 16 2 36 2 33 2 18 1 11 2 44 1 124 1 6 2 20 1 13 2 54 2 7 2 15 1 18 2 58 2 45 2 27 2 4 2 12 4 20 3 900"/><path d="M0 820V86" stroke="#472f7d" stroke-dasharray="0 76 2 21 2 71 2 7 2 3 2 74 2 58 2 9 2 5 2 6 1 11 2 4 1 8 2 23 2 51 1 17 2 1 2 6 1 22 2 31 2 85 1 80 2 13 1 900"/><path d="M0 820V86" stroke="#443983" stroke-dasharray="0 244 2 7 2 22 2 76 2 106 2 161 2 900"/><path d="M0 820V86" stroke="#414487" stroke-dasharray="0 351 2 252 2 83 2 900"/><path d="M0 820V86" stroke="#3d4d8a" stroke-dasharray="0 49 2 900"/><path d="M0 820V86" stroke="#39568c" stroke-dasharray="0 337 2 23 2 900"/><path d="M0 820V86" stroke="#355f8d" stroke-dasharray="0 344 2 11 1 900"/><path d="M0 820V86" stroke="#31688e" stroke-dasharray="0 358 2 900"/><path d="M0 820V86" stroke="#23888e" stroke-dasharray="0 43 2 900"/><path d="M0 820V86" stroke="#1f988b" stroke-dasharray="0 47 2 2 1 900"/><path d="M0 820V86" stroke="#54c568" stroke-dasharray="0 45 2 900"/><path d="M0 820V86" stroke="#d2e21b" stroke-dasharray="0 36 2 4 1 900"/><path d="M0 820V86" stroke="#fde725" stroke-dasharray="36 2 4 900"/></g>
<g transform="translate(324.5)" stroke-width="5"><path d="M0 820V86" stroke="#470d60" stroke-dasharray="0 52 2 47 2 4 2 1 4 23 2 29 2 2 2 9 2 32 2 22 2 12 2 4 1 4 2 5 2 18 2 7 2 9 2 62 1 29 2 51 2 52 2 2 2 20 1 6 3 28 3 18 2 15 1 2 4 7 2 23 2 6 1 24 2 13 1 2 2 7 2 900"/><path d="M0 820V86" stroke="#481a6c" stroke-dasharray="0 74 2 9 2 11 3 51 2 7 2 18 2 11 1 6 2 3 2 18 2 2 2 21 2 65 2 2 2 3 2 2 2 2 3 31 2 2 2 7 3 6 2 7 2 5 4 2 1 6 2 5 2 9 2 9 2 39 2 13 2 21 2 6 2 3 2 43 2 13 2 23 2 4 2 12 2 24 1 47 2 900"/><path d="M0 820V86" stroke="#482475" stroke-dasharray="0 69 1 8 2 1 2 64 1 37 1 22 2 9 2 14 2 6 1 4 2 9 2 14 2 29 4 45 3 15 2 31 1 13 2 11 1 13 2 29 2 21 2 8 1 75 1 4 2 3 2 11 4 29 2 1 2 11 2 3 2 9 2 35 3 6 1 900"/><path d="M0 820V86" stroke="#472f7d" stroke-dasharray="0 56 2 5 2 2 2 20 1 51 2 52 2 7 2 31 2 33 1 105 2 7 2 76 2 6 1 31 2 20 2 3 2 20 2 27 2 9 2 11 1 37 1 22 2 13 1 13 2 11 2 900"/><path d="M0 820V86" stroke="#443983" stroke-dasharray="0 60 1 15 2 155 2 27 2 40 2 4 1 58 2 63 2 89 2 2 1 6 2 21 2 78 2 900"/><path d="M0 820V86" stroke="#414487" stroke-dasharray="0 61 2 17 1 140 2 239 1 33 2 900"/><path d="M0 820V86" stroke="#3d4d8a" stroke-dasharray="0 346 2 900"/><path d="M0 820V86" stroke="#39568c" stroke-dasharray="0 49 2 297 1 900"/><path d="M0 820V86" stroke="#31688e" stroke-dasharray="0 358 2 7 2 900"/><path d="M0 820V86" stroke="#2a788e" stroke-dasharray="0 43 4 293 2 18 2 2 2 900"/><path d="M0 820V86" stroke="#23888e" stroke-dasharray="0 47 2 2 1 290 2 22 1 900"/><path d="M0 820V86" stroke="#1f988b" stroke-dasharray="0 344 2 16 2 900"/><path d="M0 820V86" stroke="#54c568" stroke-dasharray="0 40 2 900"/><path d="M0 820V86" stroke="#a5db36" stroke-dasharray="0 42 1 900"/><path d="M0 820V86" stroke="#d2e21b" stroke-dasharray="0 38 2 900"/><path d="M0 820V86" stroke="#fde725" stroke-dasharray="38 900"/></g>
<g transform="translate(329.5)" stroke-width="5"><path d="M0 820V86" stroke="#470d60" stroke-dasharray="0 60 1 26 2 20 1 51 2 11 2 10 2 2 2 2 1 19 1 11 2 9 4 2 1 9 2 15 2 3 2 2 5 24 2 14 2 34 2 89 2 18 2 5 4 52 2 5 2 40 2 11 1 6 2 40 1 2 2 2 2 1 2 4 2 18 2 7 2 12 4 4 1 8 3 900"/><path d="M0 820V86" stroke="#481a6c" stroke-dasharray="0 56 4 29 1 11 2 22 3 9 2 8 1 4 2 23 2 6 1 26 2 43 2 29 2 30 2 13 4 18 1 26 3 6 2 12 2 16 2 2 4 3 2 18 2 5 2 40 2 29 2 23 2 13 2 1 2 9 2 13 2 3 2 7 2 25 2 9 2 900"/><path d="M0 820V86" stroke="#482475" stroke-dasharray="0 76 2 25 2 2 2 48 2 4 2 3 4 11 2 30 2 13 3 19 1 46 5 7 2 45 2 4 2 32 2 15 1 53 2 21 4 4 1 29 2 8 1 2 2 7 2 5 2 60 2 41 4 20 2 2 1 2 2 900"/><path d="M0 820V86" stroke="#472f7d" stroke-dasharray="0 52 2 11 4 21 2 13 2 3 2 27 2 131 1 24 2 52 2 27 2 56 2 47 2 105 2 12 2 67 2 14 2 2 2 27 2 5 1 900"/><path d="M0 820V86" stroke="#443983" stroke-dasharray="0 61 2 17 1 11 2 40 2 65 2 7 2 23 2 94 2 7 2 7 2 26 3 33 2 76 1 35 2 18 2 105 1 17 2 1 2 7 2 24 2 900"/><path d="M0 820V86" stroke="#414487" stroke-dasharray="0 141 2 263 1 33 2 900"/><path d="M0 820V86" stroke="#3d4d8a" stroke-dasharray="0 63 2 152 2 123 2 67 2 900"/><path d="M0 820V86" stroke="#39568c" stroke-dasharray="0 49 2 210 1 86 1 13 2 7 2 2 2 900"/><path d="M0 820V86" stroke="#355f8d" stroke-dasharray="0 366 1 900"/><path d="M0 820V86" stroke="#31688e" stroke-dasharray="0 43 2 322 2 4 2 900"/><path d="M0 820V86" stroke="#2a788e" stroke-dasharray="0 369 2 900"/><path d="M0 820V86" stroke="#1f988b" stroke-dasharray="0 47 2 2 1 292 4 900"/><path d="M0 820V86" stroke="#22a884" stroke-dasharray="0 45 2 900"/><path d="M0 820V86" stroke="#35b779" stroke-dasharray="0 40 2 900"/><path d="M0 820V86" stroke="#7ad151" stroke-dasharray="0 36 2 900"/><path d="M0 820V86" stroke="#a5db36" stroke-dasharray="0 34 2 6 1 900"/><path d="M0 820V86" stroke="#fde725" stroke-dasharray="34 4 2 900"/></g>
<g transform="translate(335)" stroke-width="6"><path d="M0 820V86" stroke="#470d60" stroke-dasharray="0 65 2 11 3 4 2 11 3 11 6 12 2 4 1 15 7 6 1 62 2 5 2 13 2 10 2 2 2 23 2 40 2 27 4 5 2 13 1 9 2 6 3 9 2 2 2 7 2 16 2 5 2 9 2 2 2 12 2 2 4 5 2 5 2 2 2 18 2 9 2 3 2 11 3 6 2 5 2 16 2 2 2 5 2 11 2 3 2 43 2 4 2 20 1 15 4 5 4 5 2 2 1 2 1 900"/><path d="M0 820V86" stroke="#481a6c" stroke-dasharray="0 63 2 22 2 59 2 29 2 43 4 45 4 34 2 9 2 4 1 6 4 56 1 2 2 38 2 2 2 12 2 2 2 36 2 34 2 49 2 25 2 69 1 31 2 900"/><path d="M0 820V86" stroke="#482475" stroke-dasharray="0 52 2 6 1 8 1 13 2 9 2 7 2 13 1 9 2 11 2 58 2 20 1 6 2 5 2 7 2 24 1 24 2 40 1 15 2 1 2 7 2 6 2 34 2 38 2 14 2 5 2 15 3 11 2 25 2 6 1 9 4 20 2 5 2 4 1 28 1 6 2 900"/><path d="M0 820V86" stroke="#472f7d" stroke-dasharray="0 67 2 5 2 14 2 13 2 2 1 9 4 145 2 16 2 16 2 4 1 4 2 2 1 29 4 4 1 2 2 4 1 35 2 27 2 47 2 81 2 13 1 47 2 13 2 60 1 900"/><path d="M0 820V86" stroke="#443983" stroke-dasharray="0 54 4 128 2 107 2 45 2 43 2 82 2 152 1 4 2 4 1 2 2 80 1 900"/><path d="M0 820V86" stroke="#414487" stroke-dasharray="0 58 2 313 2 7 4 87 1 900"/><path d="M0 820V86" stroke="#3d4d8a" stroke-dasharray="0 76 2 174 1 900"/><path d="M0 820V86" stroke="#355f8d" stroke-dasharray="0 49 2 293 2 2 1 900"/><path d="M0 820V86" stroke="#31688e" stroke-dasharray="0 346 2 900"/><path d="M0 820V86" stroke="#23888e" stroke-dasharray="0 51 1 325 3 900"/><path d="M0 820V86" stroke="#1f988b" stroke-dasharray="0 43 2 2 2 331 2 900"/><path d="M0 820V86" stroke="#22a884" stroke-dasharray="0 45 2 900"/><path d="M0 820V86" stroke="#54c568" stroke-dasharray="0 40 2 900"/><path d="M0 820V86" stroke="#d2e21b" stroke-dasharray="0 36 2 900"/><path d="M0 820V86" stroke="#fde725" stroke-dasharray="36 2 2 2 1 900"/></g>
<g transform="translate(340.5)" stroke-width="5"><path d="M0 820V86" stroke="#470d60" stroke-dasharray="0 52 2 33 2 10 4 4 3 13 2 22 1 20 2 11 2 3 2 6 1 13 2 16 2 5 2 31 2 32 2 24 2 43 2 2 2 86 2 27 2 7 4 7 4 4 1 24 2 7 2 5 2 9 2 13 1 46 2 7 3 8 3 2 2 31 1 8 2 9 1 900"/><path d="M0 820V86" stroke="#481a6c" stroke-dasharray="0 74 2 9 2 9 2 14 2 16 2 20 2 2 1 2 2 16 2 13 2 20 1 2 2 34 2 9 2 11 2 3 2 22 4 52 4 45 2 18 3 17 2 36 2 14 2 76 2 22 1 15 2 11 1 15 2 30 2 13 2 14 2 900"/><path d="M0 820V86" stroke="#482475" stroke-dasharray="0 60 1 9 2 4 2 79 2 7 2 2 2 23 2 4 2 27 2 12 2 15 1 33 2 47 4 32 2 43 2 33 2 16 2 38 2 3 2 9 2 20 2 21 2 9 2 20 2 23 2 47 2 900"/><path d="M0 820V86" stroke="#472f7d" stroke-dasharray="0 65 2 2 1 84 2 193 2 16 2 8 1 29 2 15 1 66 1 58 2 49 2 13 1 111 2 900"/><path d="M0 820V86" stroke="#443983" stroke-dasharray="0 54 2 89 2 96 1 55 1 69 2 114 2 29 2 121 2 9 2 5 2 54 2 2 2 5 2 900"/><path d="M0 820V86" stroke="#414487" stroke-dasharray="0 105 2 253 2 16 2 900"/><path d="M0 820V86" stroke="#3d4d8a" stroke-dasharray="0 49 2 195 2 118 1 900"/><path d="M0 820V86" stroke="#39568c" stroke-dasharray="0 386 1 2 2 2 2 7 2 2 1 900"/><path d="M0 820V86" stroke="#355f8d" stroke-dasharray="0 45 2 335 2 3 2 7 4 900"/><path d="M0 820V86" stroke="#31688e" stroke-dasharray="0 43 2 339 2 5 2 7 2 900"/><path d="M0 820V86" stroke="#2a788e" stroke-dasharray="0 47 2 2 1 299 4 3 2 35 1 8 2 900"/><path d="M0 820V86" stroke="#23888e" stroke-dasharray="0 36 2 317 2 900"/><path d="M0 820V86" stroke="#1f988b" stroke-dasharray="0 40 2 900"/><path d="M0 820V86" stroke="#22a884" stroke-dasharray="0 357 1 900"/><path d="M0 820V86" stroke="#35b779" stroke-dasharray="0 42 1 900"/><path d="M0 820V86" stroke="#7ad151" stroke-dasharray="0 34 2 2 2 900"/><path d="M0 820V86" stroke="#fde725" stroke-dasharray="34 900"/></g>
<g transform="translate(346)" stroke-width="6"><path d="M0 820V86" stroke="#470d60" stroke-dasharray="0 56 2 3 4 5 2 2 2 13 1 15 4 3 2 4 3 24 2 9 1 6 3 20 2 11 2 11 2 3 4 14 2 2 2 5 2 4 1 20 2 2 2 16 2 11 2 12 2 51 2 3 2 33 1 20 2 16 2 6 1 24 2 2 1 19 1 13 2 7 2 18 2 7 4 11 1 2 2 4 1 2 2 9 2 5 2 38 2 51 2 25 2 900"/><path d="M0 820V86" stroke="#481a6c" stroke-dasharray="0 58 2 7 2 11 1 42 2 3 2 47 2 25 2 24 2 21 2 7 2 40 2 22 3 11 4 81 2 2 2 1 2 8 1 31 2 16 2 20 2 3 2 26 5 15 1 2 2 29 2 52 2 5 2 6 2 9 1 11 2 2 2 900"/><path d="M0 820V86" stroke="#482475" stroke-dasharray="0 69 1 8 2 7 2 14 2 11 2 32 4 12 2 35 1 24 2 49 2 7 2 9 1 51 2 65 2 29 2 22 1 27 2 6 2 3 2 31 2 9 1 15 2 16 2 13 1 17 1 4 2 5 2 6 1 900"/><path d="M0 820V86" stroke="#472f7d" stroke-dasharray="0 76 2 7 2 7 2 25 2 13 1 42 2 4 1 4 2 34 2 42 2 61 2 14 2 20 2 60 1 62 4 56 2 110 2 900"/><path d="M0 820V86" stroke="#443983" stroke-dasharray="0 54 2 116 2 179 2 18 2 3 2 6 1 37 1 38 2 2 2 34 2 18 2 15 1 71 4 16 2 2 1 37 1 900"/><path d="M0 820V86" stroke="#414487" stroke-dasharray="0 243 1 40 2 53 1 82 2 146 2 134 2 900"/><path d="M0 820V86" stroke="#3d4d8a" stroke-dasharray="0 360 2 27 2 11 2 5 2 900"/><path d="M0 820V86" stroke="#39568c" stroke-dasharray="0 49 2 355 1 4 2 7 2 3 2 900"/><path d="M0 820V86" stroke="#355f8d" stroke-dasharray="0 404 2 7 2 900"/><path d="M0 820V86" stroke="#31688e" stroke-dasharray="0 43 2 310 2 27 2 10 2 2 2 5 2 900"/><path d="M0 820V86" stroke="#2a788e" stroke-dasharray="0 364 2 1 4 11 2 3 2 4 2 3 2 900"/><path d="M0 820V86" stroke="#23888e" stroke-dasharray="0 45 2 315 2 2 1 28 1 900"/><path d="M0 820V86" stroke="#1f988b" stroke-dasharray="0 51 1 339 2 900"/><path d="M0 820V86" stroke="#22a884" stroke-dasharray="0 357 3 900"/><path d="M0 820V86" stroke="#35b779" stroke-dasharray="0 36 2 9 2 900"/><path d="M0 820V86" stroke="#d2e21b" stroke-dasharray="0 34 2 4 2 900"/><path d="M0 820V86" stroke="#fde725" stroke-dasharray="34 4 2 2 1 900"/></g>
<g transform="translate(351.5)" stroke-width="5"><path d="M0 820V86" stroke="#470d60" stroke-dasharray="0 65 2 11 2 12 2 4 5 2 2 5 6 1 2 76 2 42 2 5 2 2 3 31 2 9 2 16 2 16 2 36 2 7 4 14 2 38 2 18 2 3 2 2 2 14 2 20 2 14 2 6 1 13 2 7 2 27 2 5 2 22 2 7 2 9 5 11 2 2 2 7 3 17 3 13 2 900"/><path d="M0 820V86" stroke="#481a6c" stroke-dasharray="0 56 4 9 1 10 1 67 2 4 2 39 2 9 2 24 1 4 2 5 2 15 1 31 2 24 1 15 4 7 2 21 2 2 2 2 1 11 2 2 2 25 2 25 2 2 2 54 2 67 2 21 2 16 2 60 2 900"/><path d="M0 820V86" stroke="#482475" stroke-dasharray="0 72 2 33 2 63 2 14 2 31 2 1 2 51 2 12 2 17 1 9 4 27 2 13 1 28 1 6 2 2 1 11 2 120 1 13 2 3 2 161 2 9 1 900"/><path d="M0 820V86" stroke="#472f7d" stroke-dasharray="0 61 2 47 2 29 2 65 2 60 2 92 2 1 2 6 2 14 2 3 2 9 2 2 4 7 3 15 2 2 3 65 2 42 2 12 2 67 2 4 1 62 2 900"/><path d="M0 820V86" stroke="#443983" stroke-dasharray="0 43 2 2 5 357 2 14 2 7 4 4 2 5 2 2 1 900"/><path d="M0 820V86" stroke="#414487" stroke-dasharray="0 54 2 301 1 96 2 900"/><path d="M0 820V86" stroke="#3d4d8a" stroke-dasharray="0 360 2 42 2 21 4 900"/><path d="M0 820V86" stroke="#39568c" stroke-dasharray="0 45 2 311 2 71 3 900"/><path d="M0 820V86" stroke="#355f8d" stroke-dasharray="0 40 2 900"/><path d="M0 820V86" stroke="#31688e" stroke-dasharray="0 362 2 900"/><path d="M0 820V86" stroke="#2a788e" stroke-dasharray="0 36 2 900"/><path d="M0 820V86" stroke="#1f988b" stroke-dasharray="0 42 1 900"/><path d="M0 820V86" stroke="#54c568" stroke-dasharray="0 38 2 900"/><path d="M0 820V86" stroke="#a5db36" stroke-dasharray="0 31 1 2 2 900"/><path d="M0 820V86" stroke="#d2e21b" stroke-dasharray="0 25 2 5 2 900"/><path d="M0 820V86" stroke="#fde725" stroke-dasharray="25 2 4 900"/></g>
<g transform="translate(356.5)" stroke-width="5"><path d="M0 820V86" stroke="#470d60" stroke-dasharray="0 65 2 32 2 6 2 7 2 41 2 20 2 9 2 23 2 20 2 18 3 2 2 20 2 20 2 9 1 4 2 18 2 9 2 38 1 102 2 12 2 29 2 11 3 17 2 18 1 17 2 18 2 18 1 19 1 22 2 4 1 9 2 4 2 5 2 900"/><path d="M0 820V86" stroke="#481a6c" stroke-dasharray="0 61 2 4 2 3 2 6 1 22 2 9 2 31 5 5 2 11 2 2 2 7 2 36 2 27 2 25 2 41 2 6 1 6 2 12 2 49 6 1 2 24 3 4 2 9 2 5 2 32 2 40 2 5 2 47 2 7 2 69 2 5 2 25 4 7 4 5 2 900"/><path d="M0 820V86" stroke="#482475" stroke-dasharray="0 58 2 63 2 7 2 3 2 51 2 14 2 16 2 4 2 23 2 5 2 8 1 2 2 27 2 4 1 6 2 10 6 13 1 4 2 38 2 3 2 11 2 16 2 16 2 7 2 2 2 12 2 2 2 11 1 4 2 7 2 14 2 17 1 37 1 4 2 16 2 7 2 24 1 11 2 5 2 24 2 47 1 900"/><path d="M0 820V86" stroke="#472f7d" stroke-dasharray="0 54 2 4 1 28 1 64 2 10 2 35 1 24 2 5 2 7 2 38 2 2 2 141 2 126 2 8 3 15 1 33 2 14 2 900"/><path d="M0 820V86" stroke="#443983" stroke-dasharray="0 85 2 52 4 69 2 56 2 10 2 94 2 69 2 16 2 128 2 900"/><path d="M0 820V86" stroke="#414487" stroke-dasharray="0 109 1 248 2 352 1 900"/><path d="M0 820V86" stroke="#39568c" stroke-dasharray="0 43 2 7 2 323 1 38 4 5 2 900"/><path d="M0 820V86" stroke="#355f8d" stroke-dasharray="0 360 2 7 2 4 2 36 2 5 4 900"/><path d="M0 820V86" stroke="#31688e" stroke-dasharray="0 49 2 313 2 5 2 54 2 900"/><path d="M0 820V86" stroke="#2a788e" stroke-dasharray="0 366 1 6 2 49 1 900"/><path d="M0 820V86" stroke="#23888e" stroke-dasharray="0 47 2 900"/><path d="M0 820V86" stroke="#1f988b" stroke-dasharray="0 45 2 4 1 310 2 3 2 46 1 900"/><path d="M0 820V86" stroke="#a5db36" stroke-dasharray="0 40 2 900"/><path d="M0 820V86" stroke="#fde725" stroke-dasharray="40 2 1 900"/></g>
<g transform="translate(362)" stroke-width="6"><path d="M0 820V86" stroke="#470d60" stroke-dasharray="0 65 2 7 2 9 4 18 2 1 2 7 2 16 2 11 2 5 2 2 2 20 2 1 2 31 2 14 2 13 2 9 1 4 2 5 2 29 2 20 2 1 2 13 2 7 2 20 3 13 2 9 2 27 2 21 4 2 2 3 2 15 1 33 2 16 4 16 2 3 2 2 2 7 2 20 3 8 3 15 2 41 4 4 1 15 2 7 2 23 2 900"/><path d="M0 820V86" stroke="#481a6c" stroke-dasharray="0 60 1 6 2 27 2 45 2 11 1 33 2 5 2 2 2 21 2 18 2 2 2 12 2 6 2 12 2 16 2 9 6 3 2 11 2 21 2 2 2 45 2 7 2 7 4 2 1 64 5 9 2 7 2 7 2 17 1 11 2 13 2 7 2 12 2 15 3 9 2 20 2 3 2 18 2 900"/><path d="M0 820V86" stroke="#482475" stroke-dasharray="0 80 1 9 2 22 2 2 1 13 2 38 2 7 2 5 2 5 2 15 2 1 2 36 2 2 2 32 2 6 1 6 2 2 1 31 2 2 2 3 2 36 2 7 2 34 2 4 4 14 2 3 2 9 2 35 1 2 2 76 2 25 2 9 6 7 2 7 2 10 2 4 2 900"/><path d="M0 820V86" stroke="#472f7d" stroke-dasharray="0 52 2 16 2 4 2 5 2 20 2 70 4 22 1 29 2 11 2 33 3 2 2 20 2 39 2 15 1 11 2 40 2 2 1 22 2 31 2 25 2 99 2 16 2 69 2 18 2 3 2 900"/><path d="M0 820V86" stroke="#443983" stroke-dasharray="0 54 4 3 2 85 2 26 1 163 2 25 2 13 2 54 2 4 1 47 2 64 1 15 2 45 2 65 2 900"/><path d="M0 820V86" stroke="#414487" stroke-dasharray="0 128 2 239 2 82 1 209 1 900"/><path d="M0 820V86" stroke="#3d4d8a" stroke-dasharray="0 337 2 32 2 241 2 900"/><path d="M0 820V86" stroke="#355f8d" stroke-dasharray="0 49 2 900"/><path d="M0 820V86" stroke="#31688e" stroke-dasharray="0 43 2 2 2 900"/><path d="M0 820V86" stroke="#23888e" stroke-dasharray="0 45 2 900"/><path d="M0 820V86" stroke="#22a884" stroke-dasharray="0 51 1 900"/><path d="M0 820V86" stroke="#35b779" stroke-dasharray="0 40 2 900"/><path d="M0 820V86" stroke="#d2e21b" stroke-dasharray="0 42 1 900"/><path d="M0 820V86" stroke="#fde725" stroke-dasharray="40 900"/></g>
<g transform="translate(367.5)" stroke-width="5"><path d="M0 820V86" stroke="#470d60" stroke-dasharray="0 63 2 20 2 22 1 11 2 5 2 13 2 2 1 6 2 18 3 8 1 33 2 3 2 2 2 29 2 11 1 4 2 5 2 7 2 5 4 11 2 29 2 19 2 17 5 29 4 18 2 9 1 11 2 13 2 41 2 33 1 2 2 4 2 5 2 21 2 37 5 49 2 3 2 36 1 900"/><path d="M0 820V86" stroke="#481a6c" stroke-dasharray="0 54 2 9 4 3 2 9 2 13 1 2 2 4 2 1 2 44 3 24 2 67 1 4 2 22 1 6 2 30 2 9 2 4 3 2 2 4 1 2 2 7 2 16 2 11 2 36 2 16 2 5 2 2 2 2 1 20 4 11 2 18 2 18 2 25 2 23 2 7 6 3 2 6 1 17 2 27 1 8 2 36 2 900"/><path d="M0 820V86" stroke="#482475" stroke-dasharray="0 90 4 9 2 92 2 7 2 29 2 9 2 11 1 35 2 36 2 88 2 13 2 25 2 13 1 11 4 2 1 40 2 38 2 11 3 73 2 2 3 36 2 15 1 900"/><path d="M0 820V86" stroke="#472f7d" stroke-dasharray="0 43 2 36 2 16 2 18 2 6 1 2 2 56 2 31 2 16 2 29 2 34 2 18 3 40 4 9 2 40 1 8 1 15 2 12 2 9 2 11 4 20 1 2 4 2 1 26 2 43 2 11 2 57 2 22 2 11 2 19 2 900"/><path d="M0 820V86" stroke="#443983" stroke-dasharray="0 69 1 67 2 47 2 145 2 22 1 35 2 32 2 5 2 94 2 27 2 8 1 18 2 134 2 900"/><path d="M0 820V86" stroke="#414487" stroke-dasharray="0 58 2 16 4 320 2 13 1 55 2 34 2 108 4 900"/><path d="M0 820V86" stroke="#3d4d8a" stroke-dasharray="0 204 2 9 2 900"/><path d="M0 820V86" stroke="#39568c" stroke-dasharray="0 49 2 345 2 181 2 900"/><path d="M0 820V86" stroke="#355f8d" stroke-dasharray="0 377 1 900"/><path d="M0 820V86" stroke="#2a788e" stroke-dasharray="0 373 2 23 2 900"/><path d="M0 820V86" stroke="#23888e" stroke-dasharray="0 45 2 4 1 323 2 900"/><path d="M0 820V86" stroke="#1f988b" stroke-dasharray="0 47 2 900"/><path d="M0 820V86" stroke="#22a884" stroke-dasharray="0 40 2 900"/><path d="M0 820V86" stroke="#7ad151" stroke-dasharray="0 36 2 900"/><path d="M0 820V86" stroke="#d2e21b" stroke-dasharray="0 42 1 900"/><path d="M0 820V86" stroke="#fde725" stroke-dasharray="36 2 2 900"/></g>
<g transform="translate(373)" stroke-width="6"><path d="M0 820V86" stroke="#470d60" stroke-dasharray="0 56 2 23 2 20 4 21 2 2 2 2 1 11 2 16 2 2 2 18 2 9 2 99 4 2 2 1 4 63 2 22 2 30 4 76 2 29 2 3 2 31 2 12 2 17 1 17 2 34 2 11 1 2 2 18 2 900"/><path d="M0 820V86" stroke="#481a6c" stroke-dasharray="0 52 4 13 1 4 4 7 4 1 2 29 2 11 2 27 2 34 2 11 2 12 4 3 2 13 4 3 2 2 2 1 2 11 2 2 3 2 2 4 1 15 2 81 2 4 3 17 3 15 1 73 2 11 1 6 3 19 1 6 2 20 1 9 4 4 1 39 3 2 2 31 5 9 4 18 2 1 2 900"/><path d="M0 820V86" stroke="#482475" stroke-dasharray="0 58 2 52 2 11 2 16 2 11 1 49 4 9 2 2 1 6 3 40 2 25 2 26 3 4 2 7 2 11 1 8 1 2 2 20 2 34 2 31 2 18 3 20 2 18 2 9 2 16 2 15 1 47 2 80 2 3 2 900"/><path d="M0 820V86" stroke="#472f7d" stroke-dasharray="0 43 2 18 4 11 2 14 2 281 1 20 2 9 2 80 1 26 2 45 2 54 2 107 1 900"/><path d="M0 820V86" stroke="#443983" stroke-dasharray="0 67 2 47 2 23 2 38 2 20 1 133 2 16 2 18 2 61 2 210 2 51 1 900"/><path d="M0 820V86" stroke="#414487" stroke-dasharray="0 96 2 154 1 151 2 12 2 900"/><path d="M0 820V86" stroke="#3d4d8a" stroke-dasharray="0 386 3 60 2 900"/><path d="M0 820V86" stroke="#39568c" stroke-dasharray="0 49 2 900"/><path d="M0 820V86" stroke="#31688e" stroke-dasharray="0 45 2 4 1 328 6 900"/><path d="M0 820V86" stroke="#1f988b" stroke-dasharray="0 40 2 5 2 900"/><path d="M0 820V86" stroke="#7ad151" stroke-dasharray="0 36 2 900"/><path d="M0 820V86" stroke="#a5db36" stroke-dasharray="0 42 1 900"/><path d="M0 820V86" stroke="#d2e21b" stroke-dasharray="0 31 1 6 2 900"/><path d="M0 820V86" stroke="#fde725" stroke-dasharray="31 1 4 900"/></g>
<g transform="translate(378.5)" stroke-width="5"><path d="M0 820V86" stroke="#470d60" stroke-dasharray="0 49 2 10 2 9 4 4 1 2 4 2 1 6 2 5 2 25 2 13 2 5 4 12 2 4 2 9 1 9 2 53 2 3 2 13 3 8 1 9 2 11 2 18 2 85 2 18 2 12 4 4 1 9 2 56 2 29 2 16 2 4 3 9 2 2 2 3 4 22 2 36 2 56 2 5 2 900"/><path d="M0 820V86" stroke="#481a6c" stroke-dasharray="0 56 4 7 3 39 1 2 2 2 3 2 2 136 2 23 2 9 2 3 2 29 2 4 2 3 2 132 2 16 2 18 2 69 2 27 2 10 2 6 3 11 2 7 2 24 1 4 2 7 2 7 2 9 2 12 2 900"/><path d="M0 820V86" stroke="#482475" stroke-dasharray="0 43 2 20 2 9 2 23 2 7 2 25 2 4 2 12 2 6 1 55 2 76 1 69 2 9 2 2 3 64 2 7 2 58 1 900"/><path d="M0 820V86" stroke="#472f7d" stroke-dasharray="0 54 2 158 1 75 1 26 2 14 2 31 1 31 2 40 2 74 4 18 2 1 2 4 2 52 2 42 1 18 2 900"/><path d="M0 820V86" stroke="#443983" stroke-dasharray="0 98 1 20 2 38 2 18 2 168 2 44 1 4 2 311 2 900"/><path d="M0 820V86" stroke="#414487" stroke-dasharray="0 51 1 335 2 900"/><path d="M0 820V86" stroke="#3d4d8a" stroke-dasharray="0 507 2 900"/><path d="M0 820V86" stroke="#39568c" stroke-dasharray="0 47 2 344 2 900"/><path d="M0 820V86" stroke="#355f8d" stroke-dasharray="0 45 2 342 2 900"/><path d="M0 820V86" stroke="#31688e" stroke-dasharray="0 36 2 353 2 900"/><path d="M0 820V86" stroke="#22a884" stroke-dasharray="0 40 2 900"/><path d="M0 820V86" stroke="#35b779" stroke-dasharray="0 42 1 900"/><path d="M0 820V86" stroke="#a5db36" stroke-dasharray="0 34 2 2 2 900"/><path d="M0 820V86" stroke="#d2e21b" stroke-dasharray="0 31 1 900"/><path d="M0 820V86" stroke="#fde725" stroke-dasharray="31 1 2 900"/></g>
<g transform="translate(383.5)" stroke-width="5"><path d="M0 820V86" stroke="#470d60" stroke-dasharray="0 65 2 9 4 7 2 25 2 3 2 13 2 21 2 11 2 16 2 63 2 9 2 33 1 13 4 23 4 20 2 1 2 11 2 33 3 33 3 2 2 4 1 37 1 10 1 15 2 1 2 9 2 16 2 9 2 60 4 5 2 21 2 2 2 11 2 1 2 22 2 11 1 900"/><path d="M0 820V86" stroke="#481a6c" stroke-dasharray="0 56 2 22 3 27 2 4 2 12 2 9 6 1 2 11 2 52 2 16 2 6 2 34 2 11 1 15 2 3 2 7 2 2 4 3 2 25 2 9 2 7 2 9 2 27 6 10 2 9 2 16 2 9 4 29 2 27 2 36 2 25 4 18 2 88 2 11 2 3 3 900"/><path d="M0 820V86" stroke="#482475" stroke-dasharray="0 72 2 24 1 6 2 90 4 3 2 31 2 40 2 23 2 4 1 42 2 7 2 2 1 29 2 103 4 38 2 60 2 23 2 5 2 900"/><path d="M0 820V86" stroke="#472f7d" stroke-dasharray="0 54 2 2 2 23 2 87 2 43 2 16 2 49 2 40 1 42 2 4 1 49 2 69 2 139 2 25 2 6 1 8 1 9 2 17 1 6 2 3 2 900"/><path d="M0 820V86" stroke="#443983" stroke-dasharray="0 103 2 20 2 10 2 26 1 299 2 230 2 900"/><path d="M0 820V86" stroke="#414487" stroke-dasharray="0 90 2 417 2 36 2 128 2 900"/><path d="M0 820V86" stroke="#3d4d8a" stroke-dasharray="0 49 2 1 2 900"/><path d="M0 820V86" stroke="#355f8d" stroke-dasharray="0 43 2 353 2 900"/><path d="M0 820V86" stroke="#2a788e" stroke-dasharray="0 47 2 900"/><path d="M0 820V86" stroke="#23888e" stroke-dasharray="0 51 1 900"/><path d="M0 820V86" stroke="#1f988b" stroke-dasharray="0 45 2 900"/><path d="M0 820V86" stroke="#22a884" stroke-dasharray="0 40 2 900"/><path d="M0 820V86" stroke="#d2e21b" stroke-dasharray="0 36 2 900"/><path d="M0 820V86" stroke="#fde725" stroke-dasharray="36 2 2 2 1 900"/></g>
<g transform="translate(389)" stroke-width="6"><path d="M0 820V86" stroke="#470d60" stroke-dasharray="0 98 3 11 6 21 2 15 3 22 2 32 2 4 2 12 2 2 2 88 2 8 1 6 2 48 2 4 2 5 2 7 2 14 4 40 5 4 4 1 2 2 2 31 1 19 1 2 6 5 2 7 2 23 2 4 2 7 2 5 2 49 2 900"/><path d="M0 820V86" stroke="#481a6c" stroke-dasharray="0 76 2 65 2 14 2 25 2 9 2 7 2 22 2 18 2 29 1 20 2 15 1 2 2 2 2 5 2 13 1 9 2 46 1 17 1 15 4 5 2 11 1 13 2 13 1 8 1 2 2 6 1 15 2 30 4 13 5 26 1 13 2 13 1 53 3 17 2 1 2 900"/><path d="M0 820V86" stroke="#482475" stroke-dasharray="0 65 2 18 2 16 2 83 2 2 2 20 1 17 1 8 2 14 2 20 2 5 2 9 2 36 4 23 2 34 4 27 2 136 2 68 2 2 2 14 2 24 1 2 2 34 2 6 1 900"/><path d="M0 820V86" stroke="#472f7d" stroke-dasharray="0 49 2 18 1 26 2 25 2 20 2 27 3 2 2 14 2 13 2 96 2 65 2 7 2 45 2 11 1 8 1 2 2 65 2 22 2 79 2 22 2 1 2 4 2 3 4 14 2 9 2 9 4 2 1 11 2 5 2 900"/><path d="M0 820V86" stroke="#443983" stroke-dasharray="0 228 2 141 2 52 2 20 2 199 2 4 1 9 2 6 3 2 6 5 2 3 2 2 2 2 2 12 2 900"/><path d="M0 820V86" stroke="#414487" stroke-dasharray="0 43 2 7 2 7 2 24 2 302 2 257 2 47 2 16 2 900"/><path d="M0 820V86" stroke="#3d4d8a" stroke-dasharray="0 659 2 2 1 11 2 26 1 15 3 900"/><path d="M0 820V86" stroke="#2a788e" stroke-dasharray="0 47 2 900"/><path d="M0 820V86" stroke="#23888e" stroke-dasharray="0 51 1 900"/><path d="M0 820V86" stroke="#1f988b" stroke-dasharray="0 40 2 3 2 900"/><path d="M0 820V86" stroke="#7ad151" stroke-dasharray="0 36 2 900"/><path d="M0 820V86" stroke="#a5db36" stroke-dasharray="0 31 1 6 2 900"/><path d="M0 820V86" stroke="#fde725" stroke-dasharray="31 1 4 6 1 900"/></g>
<g transform="translate(394.5)" stroke-width="5"><path d="M0 820V86" stroke="#470d60" stroke-dasharray="0 52 2 11 2 3 4 33 2 38 1 8 1 9 2 20 4 5 2 20 2 2 1 11 2 16 2 26 3 2 2 11 1 46 2 9 1 13 2 9 2 3 2 2 2 56 2 2 1 24 2 27 2 2 1 29 2 4 3 2 2 25 2 9 2 11 2 12 2 11 2 40 2 19 2 4 2 900"/><path d="M0 820V86" stroke="#481a6c" stroke-dasharray="0 63 2 9 2 2 2 12 2 16 4 7 2 60 2 41 2 20 2 20 2 12 2 20 2 11 1 33 4 12 2 2 2 25 2 22 1 17 3 58 2 9 2 4 1 48 1 37 1 24 2 7 2 20 1 6 2 7 2 23 2 4 2 19 2 900"/><path d="M0 820V86" stroke="#482475" stroke-dasharray="0 61 2 4 2 7 2 2 1 22 2 123 2 9 2 23 2 6 1 6 2 7 2 5 2 159 2 2 2 7 2 11 1 18 2 29 2 22 2 20 1 4 2 36 2 20 2 10 2 33 2 11 1 2 2 11 2 900"/><path d="M0 820V86" stroke="#472f7d" stroke-dasharray="0 69 1 19 1 51 2 18 2 9 2 20 3 53 2 9 1 55 2 10 2 9 4 71 1 6 2 34 2 80 1 95 1 2 2 11 2 900"/><path d="M0 820V86" stroke="#443983" stroke-dasharray="0 43 2 89 3 279 2 127 2 130 2 54 1 900"/><path d="M0 820V86" stroke="#414487" stroke-dasharray="0 427 2 900"/><path d="M0 820V86" stroke="#3d4d8a" stroke-dasharray="0 436 2 900"/><path d="M0 820V86" stroke="#39568c" stroke-dasharray="0 49 2 3 2 900"/><path d="M0 820V86" stroke="#355f8d" stroke-dasharray="0 431 5 4 2 900"/><path d="M0 820V86" stroke="#2a788e" stroke-dasharray="0 429 2 7 2 900"/><path d="M0 820V86" stroke="#35b779" stroke-dasharray="0 40 2 3 4 2 1 900"/><path d="M0 820V86" stroke="#fde725" stroke-dasharray="40 2 1 900"/></g>
<g transform="translate(400)" stroke-width="6"><path d="M0 820V86" stroke="#470d60" stroke-dasharray="0 63 2 13 2 7 2 12 2 6 1 89 2 22 1 28 1 19 1 20 2 7 2 2 2 2 1 8 1 13 2 29 2 54 2 5 2 2 2 14 2 24 1 4 2 9 2 5 2 20 2 7 2 3 2 4 2 21 4 5 2 20 2 34 4 2 3 15 2 5 2 27 2 32 2 900"/><path d="M0 820V86" stroke="#481a6c" stroke-dasharray="0 54 2 20 2 3 4 38 2 25 2 2 2 7 2 1 2 20 2 24 1 15 3 22 2 4 1 6 2 18 2 5 4 16 2 12 2 11 2 29 2 43 2 38 2 27 2 14 2 6 1 17 3 17 1 8 1 17 2 1 2 2 2 16 4 11 1 58 2 18 2 27 2 900"/><path d="M0 820V86" stroke="#482475" stroke-dasharray="0 58 2 20 1 22 2 11 2 23 2 18 2 22 1 20 2 2 2 29 2 3 2 22 2 12 2 27 2 2 2 34 2 3 2 27 2 17 1 55 1 53 2 32 4 27 2 34 2 4 2 36 2 3 2 62 1 900"/><path d="M0 820V86" stroke="#472f7d" stroke-dasharray="0 52 2 7 2 7 2 20 2 16 2 33 2 92 2 12 2 35 1 66 1 31 2 22 2 18 1 37 2 63 2 5 2 9 2 9 2 76 2 900"/><path d="M0 820V86" stroke="#443983" stroke-dasharray="0 148 2 31 2 34 2 54 2 29 2 61 2 205 2 12 2 107 2 900"/><path d="M0 820V86" stroke="#414487" stroke-dasharray="0 49 2 16 2 900"/><path d="M0 820V86" stroke="#3d4d8a" stroke-dasharray="0 43 2 641 2 900"/><path d="M0 820V86" stroke="#355f8d" stroke-dasharray="0 415 1 900"/><path d="M0 820V86" stroke="#2a788e" stroke-dasharray="0 45 2 4 1 364 2 900"/><path d="M0 820V86" stroke="#23888e" stroke-dasharray="0 47 2 900"/><path d="M0 820V86" stroke="#22a884" stroke-dasharray="0 40 2 900"/><path d="M0 820V86" stroke="#d2e21b" stroke-dasharray="0 36 4 900"/><path d="M0 820V86" stroke="#fde725" stroke-dasharray="36 6 1 900"/></g>
<g transform="translate(405.5)" stroke-width="5"><path d="M0 820V86" stroke="#470d60" stroke-dasharray="0 52 2 15 1 6 2 3 2 4 2 10 2 44 2 41 6 18 2 10 2 2 2 42 3 7 2 2 2 31 1 4 2 22 1 35 2 14 2 2 2 9 1 6 2 3 4 7 4 3 2 13 2 59 2 6 3 15 2 1 2 36 2 24 2 3 2 5 2 2 4 7 2 3 2 7 2 6 1 10 1 6 2 3 2 5 2 9 4 4 3 900"/><path d="M0 820V86" stroke="#481a6c" stroke-dasharray="0 56 2 2 1 67 2 36 4 45 2 38 4 5 2 4 2 18 1 19 3 38 2 4 1 24 2 5 2 4 1 13 2 7 4 3 2 4 2 21 2 20 2 4 1 8 3 4 2 7 2 27 2 74 2 47 2 52 4 2 1 900"/><path d="M0 820V86" stroke="#482475" stroke-dasharray="0 43 4 2 2 3 2 7 2 7 2 6 1 29 2 2 2 20 1 37 3 8 1 13 2 42 1 2 2 125 4 9 1 15 2 20 1 28 1 8 1 77 1 53 2 3 2 69 2 18 2 7 2 9 2 19 2 900"/><path d="M0 820V86" stroke="#472f7d" stroke-dasharray="0 74 2 54 2 76 2 13 1 55 2 21 2 13 2 16 4 119 2 145 2 16 2 39 2 64 1 900"/><path d="M0 820V86" stroke="#443983" stroke-dasharray="0 47 2 12 2 40 2 34 2 29 2 32 2 55 1 261 2 92 2 60 2 7 2 900"/><path d="M0 820V86" stroke="#414487" stroke-dasharray="0 340 2 900"/><path d="M0 820V86" stroke="#3d4d8a" stroke-dasharray="0 36 2 13 1 900"/><path d="M0 820V86" stroke="#39568c" stroke-dasharray="0 40 2 900"/><path d="M0 820V86" stroke="#1f988b" stroke-dasharray="0 38 2 2 1 900"/><path d="M0 820V86" stroke="#22a884" stroke-dasharray="0 34 2 900"/><path d="M0 820V86" stroke="#54c568" stroke-dasharray="0 32 2 900"/><path d="M0 820V86" stroke="#7ad151" stroke-dasharray="0 31 1 900"/><path d="M0 820V86" stroke="#a5db36" stroke-dasharray="0 29 2 900"/><path d="M0 820V86" stroke="#fde725" stroke-dasharray="29 900"/></g>
<g transform="translate(410.5)" stroke-width="5"><path d="M0 820V86" stroke="#470d60" stroke-dasharray="0 61 2 4 2 12 2 40 2 40 1 13 2 25 2 27 2 4 2 21 2 7 2 4 2 23 2 31 2 9 1 13 2 11 2 9 3 6 1 22 2 9 2 2 1 10 1 8 1 8 3 17 1 13 5 6 2 9 2 9 1 2 2 6 1 8 1 44 2 7 2 7 4 10 2 55 1 8 1 6 4 7 2 21 1 900"/><path d="M0 820V86" stroke="#481a6c" stroke-dasharray="0 27 5 11 6 5 2 14 2 18 2 2 2 45 2 16 2 2 2 25 2 12 2 4 2 50 2 26 1 2 2 29 2 16 2 25 2 20 2 96 2 3 2 25 2 47 2 49 2 16 2 5 2 16 2 20 2 900"/><path d="M0 820V86" stroke="#482475" stroke-dasharray="0 56 4 52 2 2 2 14 2 49 2 90 2 14 2 56 4 51 2 16 2 12 2 2 4 30 2 65 2 7 2 2 2 5 2 47 2 29 2 32 2 20 2 900"/><path d="M0 820V86" stroke="#472f7d" stroke-dasharray="0 38 2 43 2 145 2 36 2 18 2 54 2 65 2 11 1 58 2 16 2 27 2 69 2 51 1 900"/><path d="M0 820V86" stroke="#443983" stroke-dasharray="0 130 2 232 2 114 2 32 2 31 2 14 2 116 2 900"/><path d="M0 820V86" stroke="#414487" stroke-dasharray="0 51 1 611 1 900"/><path d="M0 820V86" stroke="#3d4d8a" stroke-dasharray="0 34 2 636 2 900"/><path d="M0 820V86" stroke="#31688e" stroke-dasharray="0 25 2 900"/><path d="M0 820V86" stroke="#2a788e" stroke-dasharray="0 20 2 900"/><path d="M0 820V86" stroke="#23888e" stroke-dasharray="0 18 2 900"/><path d="M0 820V86" stroke="#1f988b" stroke-dasharray="0 14 2 6 3 900"/><path d="M0 820V86" stroke="#22a884" stroke-dasharray="2 900"/><path d="M0 820V86" stroke="#54c568" stroke-dasharray="0 16 2 900"/><path d="M0 820V86" stroke="#7ad151" stroke-dasharray="0 2 1 900"/><path d="M0 820V86" stroke="#fde725" stroke-dasharray="0 3 11 900"/></g>
<g transform="translate(416)" stroke-width="6"><path d="M0 820V86" stroke="#470d60" stroke-dasharray="0 58 2 32 2 7 4 4 1 38 2 24 2 10 2 7 2 11 2 27 2 7 2 4 1 47 4 15 1 2 2 13 2 10 2 18 2 33 2 10 2 27 2 29 4 7 2 3 2 4 2 9 2 12 2 25 2 56 2 2 2 9 2 18 2 1 2 27 4 5 2 24 2 7 2 900"/><path d="M0 820V86" stroke="#481a6c" stroke-dasharray="0 70 2 4 2 12 2 15 2 7 2 9 1 6 3 13 2 36 2 7 2 16 2 11 2 13 1 64 3 2 2 31 2 5 2 7 2 18 2 16 2 4 1 8 1 2 2 2 2 7 2 25 4 45 2 9 2 41 2 4 2 3 2 4 1 11 2 33 1 19 1 11 6 65 2 900"/><path d="M0 820V86" stroke="#482475" stroke-dasharray="0 43 2 67 2 40 2 36 2 5 2 18 2 11 1 11 2 7 2 141 2 46 1 11 2 15 1 20 2 24 1 31 2 45 2 6 1 55 1 6 2 9 2 43 2 5 1 900"/><path d="M0 820V86" stroke="#472f7d" stroke-dasharray="0 63 4 16 2 4 1 86 1 4 2 89 1 11 2 72 2 87 2 67 2 67 2 50 2 35 1 47 2 7 2 900"/><path d="M0 820V86" stroke="#443983" stroke-dasharray="0 45 2 4 1 35 2 9 1 136 2 94 2 900"/><path d="M0 820V86" stroke="#414487" stroke-dasharray="0 440 2 54 2 16 2 94 2 60 2 900"/><path d="M0 820V86" stroke="#3d4d8a" stroke-dasharray="0 40 2 18 1 900"/><path d="M0 820V86" stroke="#39568c" stroke-dasharray="0 47 2 900"/><path d="M0 820V86" stroke="#22a884" stroke-dasharray="0 36 2 900"/><path d="M0 820V86" stroke="#54c568" stroke-dasharray="0 34 2 6 1 900"/><path d="M0 820V86" stroke="#7ad151" stroke-dasharray="0 31 3 4 2 900"/><path d="M0 820V86" stroke="#a5db36" stroke-dasharray="0 29 2 900"/><path d="M0 820V86" stroke="#fde725" stroke-dasharray="29 900"/></g>
<g transform="translate(421.5)" stroke-width="5"><path d="M0 820V86" stroke="#470d60" stroke-dasharray="0 58 2 10 4 53 1 8 1 29 2 9 2 9 2 4 1 8 3 2 2 18 2 5 2 4 2 3 2 5 2 4 2 5 2 2 2 41 2 11 2 3 2 4 3 17 1 4 2 27 2 9 2 12 2 4 2 20 3 20 2 2 2 28 2 6 2 29 3 7 6 9 2 5 2 11 2 5 2 5 2 36 2 47 2 5 2 15 2 1 2 2 2 5 2 2 2 1 2 900"/><path d="M0 820V86" stroke="#481a6c" stroke-dasharray="0 54 2 7 2 4 1 13 2 20 2 7 2 14 2 7 2 40 2 7 4 45 2 32 2 4 2 9 1 6 3 28 3 4 2 3 2 16 2 6 1 6 4 3 2 29 2 18 2 27 2 1 2 40 2 13 1 11 2 29 2 42 1 42 2 5 2 18 2 5 2 15 2 1 4 7 2 900"/><path d="M0 820V86" stroke="#482475" stroke-dasharray="0 60 3 2 2 7 2 11 2 1 2 26 1 24 2 7 2 5 2 18 2 4 1 15 2 3 2 9 2 7 2 58 2 18 2 36 2 7 4 7 2 20 1 2 2 4 1 24 2 32 2 17 1 29 2 6 1 6 2 1 2 6 1 13 2 4 1 19 1 4 2 14 2 13 2 68 2 2 2 900"/><path d="M0 820V86" stroke="#472f7d" stroke-dasharray="0 94 2 14 2 16 2 44 2 43 2 3 2 7 2 75 1 31 2 136 2 3 2 11 3 55 2 30 2 20 2 2 2 25 2 2 1 57 1 900"/><path d="M0 820V86" stroke="#443983" stroke-dasharray="0 56 2 31 1 75 1 201 2 24 2 3 2 34 2 216 2 7 2 70 1 900"/><path d="M0 820V86" stroke="#414487" stroke-dasharray="0 277 2 5 2 38 2 342 2 900"/><path d="M0 820V86" stroke="#3d4d8a" stroke-dasharray="0 43 2 7 2 900"/><path d="M0 820V86" stroke="#39568c" stroke-dasharray="0 49 2 900"/><path d="M0 820V86" stroke="#23888e" stroke-dasharray="0 51 1 900"/><path d="M0 820V86" stroke="#1f988b" stroke-dasharray="0 40 2 3 4 900"/><path d="M0 820V86" stroke="#a5db36" stroke-dasharray="0 32 2 900"/><path d="M0 820V86" stroke="#d2e21b" stroke-dasharray="0 31 1 6 2 900"/><path d="M0 820V86" stroke="#fde725" stroke-dasharray="31 3 4 4 1 900"/></g>
<g transform="translate(427)" stroke-width="6"><path d="M0 820V86" stroke="#470d60" stroke-dasharray="0 54 2 9 2 2 1 35 2 11 1 4 2 52 2 31 2 3 2 13 2 9 2 21 2 9 2 34 2 13 2 1 2 4 2 2 3 9 6 14 2 7 2 13 1 17 2 5 4 7 3 29 2 44 2 7 2 3 2 7 2 7 2 6 1 38 2 2 2 11 2 14 2 9 2 23 2 13 2 16 2 7 5 8 1 15 2 900"/><path d="M0 820V86" stroke="#481a6c" stroke-dasharray="0 56 2 18 4 18 1 31 2 4 1 11 2 6 1 13 4 14 2 9 2 3 2 22 2 3 2 82 2 12 2 53 1 51 2 67 2 34 2 5 2 6 1 22 2 29 2 2 3 11 2 76 2 16 2 900"/><path d="M0 820V86" stroke="#482475" stroke-dasharray="0 74 2 38 4 56 2 61 2 23 2 6 2 5 2 23 2 40 2 58 3 9 2 24 2 7 2 21 2 15 1 9 2 35 2 14 2 31 1 2 2 33 1 11 2 6 1 13 2 22 1 2 2 900"/><path d="M0 820V86" stroke="#472f7d" stroke-dasharray="0 92 2 118 2 94 2 12 2 156 2 85 2 38 1 47 2 7 2 900"/><path d="M0 820V86" stroke="#443983" stroke-dasharray="0 125 2 1 2 194 2 130 2 38 2 81 2 22 2 38 2 900"/><path d="M0 820V86" stroke="#414487" stroke-dasharray="0 195 2 196 2 16 2 279 1 900"/><path d="M0 820V86" stroke="#3d4d8a" stroke-dasharray="0 63 2 136 2 900"/><path d="M0 820V86" stroke="#2a788e" stroke-dasharray="0 49 2 900"/><path d="M0 820V86" stroke="#23888e" stroke-dasharray="0 43 2 6 1 900"/><path d="M0 820V86" stroke="#22a884" stroke-dasharray="0 36 2 7 4 900"/><path d="M0 820V86" stroke="#a5db36" stroke-dasharray="0 40 2 900"/><path d="M0 820V86" stroke="#fde725" stroke-dasharray="36 2 2 2 1 900"/></g>
<g transform="translate(432.5)" stroke-width="5"><path d="M0 820V86" stroke="#470d60" stroke-dasharray="0 58 2 23 2 16 4 25 2 20 2 38 2 21 2 51 2 2 1 6 2 63 2 2 1 9 2 38 6 16 2 31 1 17 2 12 2 13 1 2 2 45 2 4 2 1 2 60 2 23 2 13 2 9 2 14 4 900"/><path d="M0 820V86" stroke="#481a6c" stroke-dasharray="0 56 2 11 1 6 2 14 2 4 1 15 2 7 2 22 1 17 1 10 1 6 2 1 2 2 2 2 1 24 2 11 1 20 2 2 2 7 2 20 2 32 2 11 2 5 2 16 2 5 2 4 2 11 1 9 2 6 2 1 2 16 2 20 2 13 1 15 2 7 2 31 3 9 2 2 4 47 1 24 4 1 2 4 2 11 1 11 2 24 1 6 2 12 2 9 4 2 1 15 2 900"/><path d="M0 820V86" stroke="#482475" stroke-dasharray="0 52 2 7 2 4 2 40 1 18 2 51 2 41 2 7 2 17 1 20 2 7 4 16 2 2 2 9 2 10 4 18 6 9 1 2 2 4 2 41 2 22 3 4 2 5 2 9 2 32 2 4 2 18 2 20 1 13 2 16 2 24 1 2 2 16 2 4 2 1 4 2 3 4 2 14 4 23 2 2 2 14 2 2 2 900"/><path d="M0 820V86" stroke="#472f7d" stroke-dasharray="0 65 2 3 2 18 2 15 2 47 1 11 2 7 2 67 2 13 3 26 1 6 2 159 2 49 2 12 2 138 1 13 2 13 1 22 2 9 2 2 1 900"/><path d="M0 820V86" stroke="#443983" stroke-dasharray="0 43 2 29 2 5 2 56 2 29 2 87 2 78 1 207 2 5 2 29 2 96 1 17 3 900"/><path d="M0 820V86" stroke="#414487" stroke-dasharray="0 54 2 194 2 289 2 900"/><path d="M0 820V86" stroke="#2a788e" stroke-dasharray="0 47 4 900"/><path d="M0 820V86" stroke="#23888e" stroke-dasharray="0 45 2 4 1 900"/><path d="M0 820V86" stroke="#54c568" stroke-dasharray="0 40 2 900"/><path d="M0 820V86" stroke="#fde725" stroke-dasharray="40 2 1 900"/></g>
<g transform="translate(437.5)" stroke-width="5"><path d="M0 820V86" stroke="#470d60" stroke-dasharray="0 60 1 2 2 5 4 35 1 29 2 20 2 34 2 7 2 20 2 9 2 9 2 3 2 2 2 18 2 54 4 12 2 31 2 30 2 31 5 8 1 15 2 21 2 9 6 9 2 9 2 41 2 14 2 4 2 5 2 2 2 14 2 4 1 40 2 34 2 13 2 900"/><path d="M0 820V86" stroke="#481a6c" stroke-dasharray="0 54 4 7 2 54 4 2 1 4 2 16 2 13 1 13 2 23 2 13 2 12 2 27 2 13 2 29 2 7 2 23 2 20 2 7 2 43 2 9 2 16 2 9 2 5 2 54 2 22 2 5 2 4 3 9 2 11 2 32 2 2 4 14 2 47 2 7 2 2 2 27 1 900"/><path d="M0 820V86" stroke="#482475" stroke-dasharray="0 69 1 6 2 5 2 2 2 7 2 39 2 9 2 93 1 2 2 25 2 35 1 17 1 26 2 9 1 15 2 3 2 18 2 22 2 3 2 16 2 36 2 6 1 10 1 57 1 17 3 11 2 2 2 68 2 45 2 900"/><path d="M0 820V86" stroke="#472f7d" stroke-dasharray="0 61 2 22 2 2 1 198 2 99 2 4 1 60 2 31 2 56 2 163 1 900"/><path d="M0 820V86" stroke="#443983" stroke-dasharray="0 143 2 27 2 3 2 31 2 69 1 296 1 900"/><path d="M0 820V86" stroke="#414487" stroke-dasharray="0 78 2 23 2 2 2 144 2 900"/><path d="M0 820V86" stroke="#3d4d8a" stroke-dasharray="0 49 2 295 2 900"/><path d="M0 820V86" stroke="#2a788e" stroke-dasharray="0 51 1 900"/><path d="M0 820V86" stroke="#23888e" stroke-dasharray="0 43 2 900"/><path d="M0 820V86" stroke="#1f988b" stroke-dasharray="0 47 2 900"/><path d="M0 820V86" stroke="#22a884" stroke-dasharray="0 45 2 900"/><path d="M0 820V86" stroke="#35b779" stroke-dasharray="0 40 2 900"/><path d="M0 820V86" stroke="#d2e21b" stroke-dasharray="0 36 2 4 1 900"/><path d="M0 820V86" stroke="#fde725" stroke-dasharray="36 2 2 900"/></g>
<g transform="translate(443)" stroke-width="6"><path d="M0 820V86" stroke="#470d60" stroke-dasharray="0 56 4 32 2 13 2 7 2 3 2 7 2 9 2 5 2 6 1 13 2 16 2 14 2 15 2 36 2 1 2 33 2 34 2 20 2 1 2 6 1 4 2 34 2 20 2 32 2 9 2 2 2 16 2 43 2 7 2 9 2 4 2 3 2 33 1 20 2 34 2 6 2 9 3 20 4 900"/><path d="M0 820V86" stroke="#481a6c" stroke-dasharray="0 52 2 36 2 9 2 6 1 4 2 7 2 11 3 4 2 7 2 11 1 40 2 2 4 30 2 22 4 32 2 9 2 2 1 9 4 18 2 11 2 27 2 3 2 4 2 10 2 31 2 3 2 78 2 33 1 4 2 32 2 2 2 5 2 15 1 15 2 12 2 6 1 4 2 49 1 2 1 900"/><path d="M0 820V86" stroke="#482475" stroke-dasharray="0 85 2 12 2 2 2 20 3 6 2 50 2 13 2 29 3 15 3 22 2 9 2 5 4 25 2 63 2 17 1 58 2 27 2 5 2 51 2 34 2 18 2 2 2 27 2 3 2 4 1 15 2 5 2 7 2 2 5 900"/><path d="M0 820V86" stroke="#472f7d" stroke-dasharray="0 63 2 5 2 9 2 6 1 104 1 4 2 81 2 6 1 8 1 11 2 56 2 7 2 4 2 16 2 38 2 7 2 29 1 4 2 9 2 11 1 13 2 54 2 42 1 102 2 900"/><path d="M0 820V86" stroke="#443983" stroke-dasharray="0 128 2 17 1 359 2 47 2 41 2 900"/><path d="M0 820V86" stroke="#414487" stroke-dasharray="0 54 2 9 4 11 1 468 1 44 2 900"/><path d="M0 820V86" stroke="#39568c" stroke-dasharray="0 49 2 9 1 900"/><path d="M0 820V86" stroke="#355f8d" stroke-dasharray="0 43 2 900"/><path d="M0 820V86" stroke="#23888e" stroke-dasharray="0 45 4 2 1 900"/><path d="M0 820V86" stroke="#22a884" stroke-dasharray="0 40 2 900"/><path d="M0 820V86" stroke="#d2e21b" stroke-dasharray="0 42 1 900"/><path d="M0 820V86" stroke="#fde725" stroke-dasharray="40 900"/></g>
<g transform="translate(448.5)" stroke-width="5"><path d="M0 820V86" stroke="#470d60" stroke-dasharray="0 81 2 2 2 2 1 2 2 7 2 22 2 27 2 9 1 15 2 34 2 11 2 11 1 18 2 17 3 16 2 2 2 5 2 9 2 5 4 20 2 3 2 9 2 2 2 9 2 3 2 42 1 26 3 4 2 2 2 25 2 7 2 2 1 29 2 35 1 8 1 6 3 22 2 29 2 31 3 33 2 900"/><path d="M0 820V86" stroke="#481a6c" stroke-dasharray="0 56 2 9 2 3 2 2 4 10 2 18 2 15 1 4 4 7 2 11 1 2 2 16 2 33 2 18 3 11 2 20 2 27 3 10 1 6 2 23 4 3 2 45 2 9 2 25 2 27 2 35 1 44 2 5 2 2 2 1 4 4 2 23 2 20 2 10 2 6 3 8 3 15 1 33 2 25 2 900"/><path d="M0 820V86" stroke="#482475" stroke-dasharray="0 60 1 37 1 20 2 7 2 56 2 22 2 3 2 6 1 40 4 4 1 51 2 9 2 25 2 31 1 203 2 51 2 16 2 36 2 900"/><path d="M0 820V86" stroke="#472f7d" stroke-dasharray="0 174 2 76 1 6 2 18 2 85 1 33 2 78 2 47 1 113 2 32 2 16 2 900"/><path d="M0 820V86" stroke="#443983" stroke-dasharray="0 130 2 63 2 22 2 230 2 63 2 213 2 900"/><path d="M0 820V86" stroke="#414487" stroke-dasharray="0 43 2 2 2 14 2 76 2 45 2 14 2 96 2 397 2 900"/><path d="M0 820V86" stroke="#3d4d8a" stroke-dasharray="0 51 1 900"/><path d="M0 820V86" stroke="#355f8d" stroke-dasharray="0 45 2 900"/><path d="M0 820V86" stroke="#23888e" stroke-dasharray="0 36 2 2 2 900"/><path d="M0 820V86" stroke="#22a884" stroke-dasharray="0 42 1 900"/><path d="M0 820V86" stroke="#54c568" stroke-dasharray="0 31 3 900"/><path d="M0 820V86" stroke="#7ad151" stroke-dasharray="0 34 2 900"/><path d="M0 820V86" stroke="#a5db36" stroke-dasharray="0 38 2 900"/><path d="M0 820V86" stroke="#fde725" stroke-dasharray="31 900"/></g>
<g transform="translate(454)" stroke-width="6"><path d="M0 820V86" stroke="#470d60" stroke-dasharray="0 60 1 2 2 5 2 40 2 67 2 2 1 13 2 18 2 22 1 8 1 17 2 12 2 2 2 7 2 3 2 7 2 7 6 7 2 2 2 38 1 8 1 8 1 24 2 18 2 14 2 5 2 6 2 18 3 36 2 4 2 2 1 4 2 5 2 2 2 3 2 2 2 50 2 20 2 4 1 6 2 1 2 15 2 7 2 20 1 900"/><path d="M0 820V86" stroke="#481a6c" stroke-dasharray="0 43 2 4 2 3 2 13 1 2 2 16 2 7 2 53 2 32 2 4 1 20 2 15 1 8 2 5 2 50 2 27 2 35 1 2 2 2 2 3 2 73 1 35 2 20 1 2 2 5 2 36 2 11 2 7 2 9 2 3 2 98 2 2 2 10 2 2 4 5 2 900"/><path d="M0 820V86" stroke="#482475" stroke-dasharray="0 56 2 16 2 2 2 21 2 13 2 5 2 18 2 20 1 98 2 60 2 30 2 51 2 12 2 35 1 69 2 51 2 16 2 58 1 40 2 24 1 900"/><path d="M0 820V86" stroke="#472f7d" stroke-dasharray="0 47 2 32 2 2 2 143 2 108 2 22 2 5 2 81 2 18 4 132 2 38 2 23 2 900"/><path d="M0 820V86" stroke="#443983" stroke-dasharray="0 547 2 88 2 900"/><path d="M0 820V86" stroke="#414487" stroke-dasharray="0 36 2 14 2 199 2 214 2 900"/><path d="M0 820V86" stroke="#3d4d8a" stroke-dasharray="0 45 2 900"/><path d="M0 820V86" stroke="#39568c" stroke-dasharray="0 51 1 900"/><path d="M0 820V86" stroke="#31688e" stroke-dasharray="0 40 2 900"/><path d="M0 820V86" stroke="#35b779" stroke-dasharray="0 38 2 900"/><path d="M0 820V86" stroke="#54c568" stroke-dasharray="0 42 1 900"/><path d="M0 820V86" stroke="#d2e21b" stroke-dasharray="0 34 2 900"/><path d="M0 820V86" stroke="#fde725" stroke-dasharray="34 900"/></g>
<g transform="translate(459.5)" stroke-width="5"><path d="M0 820V86" stroke="#470d60" stroke-dasharray="0 65 2 7 2 16 2 18 2 13 1 2 2 15 1 24 4 1 2 24 1 20 2 17 1 2 2 11 2 12 4 2 2 7 2 10 2 4 2 18 2 1 2 18 2 40 2 2 1 17 2 7 2 12 6 34 6 7 2 29 1 9 2 2 2 4 1 40 2 14 2 11 2 14 2 27 2 13 2 14 2 4 1 24 2 900"/><path d="M0 820V86" stroke="#481a6c" stroke-dasharray="0 80 1 24 2 21 2 31 2 47 2 23 2 7 2 16 4 25 2 18 2 22 4 7 2 59 4 13 1 4 2 2 3 22 2 2 1 4 2 14 2 6 1 4 2 5 2 11 2 54 2 14 2 4 2 3 2 16 2 6 1 48 5 9 2 13 1 9 2 11 2 5 1 900"/><path d="M0 820V86" stroke="#482475" stroke-dasharray="0 89 1 8 1 8 2 47 1 6 2 14 2 14 2 18 4 38 2 2 1 6 2 16 2 54 2 23 2 6 2 16 2 3 2 49 2 31 1 15 2 11 1 17 1 37 2 5 2 27 2 40 1 2 2 2 2 43 2 900"/><path d="M0 820V86" stroke="#472f7d" stroke-dasharray="0 52 2 2 2 23 2 35 1 6 2 65 2 14 2 9 2 5 2 13 2 38 1 22 2 49 5 13 2 72 2 130 2 9 2 16 2 4 2 3 6 3 2 6 1 4 2 21 2 900"/><path d="M0 820V86" stroke="#443983" stroke-dasharray="0 54 2 11 2 63 2 70 4 82 1 53 2 7 2 11 1 4 2 43 2 189 1 22 2 61 2 24 2 900"/><path d="M0 820V86" stroke="#414487" stroke-dasharray="0 45 2 4 1 308 4 241 2 9 1 15 2 20 1 900"/><path d="M0 820V86" stroke="#3d4d8a" stroke-dasharray="0 364 2 3 2 241 2 20 2 1 2 7 2 2 2 900"/><path d="M0 820V86" stroke="#39568c" stroke-dasharray="0 43 2 594 2 900"/><path d="M0 820V86" stroke="#355f8d" stroke-dasharray="0 47 2 900"/><path d="M0 820V86" stroke="#2a788e" stroke-dasharray="0 36 2 2 2 900"/><path d="M0 820V86" stroke="#7ad151" stroke-dasharray="0 42 1 900"/><path d="M0 820V86" stroke="#a5db36" stroke-dasharray="0 31 1 6 2 900"/><path d="M0 820V86" stroke="#fde725" stroke-dasharray="31 1 4 900"/></g>
<g transform="translate(464.5)" stroke-width="5"><path d="M0 820V86" stroke="#470d60" stroke-dasharray="0 36 2 2 2 3 2 2 2 5 2 3 2 22 2 12 2 15 2 3 2 4 1 20 2 13 2 3 2 4 2 21 2 18 2 24 1 11 2 4 3 17 1 2 2 7 2 9 2 5 2 6 1 4 2 18 2 2 1 2 2 24 1 6 2 43 2 14 2 2 4 14 2 11 2 5 2 27 2 22 1 15 2 3 2 6 1 6 2 1 2 40 2 3 2 26 1 15 2 5 2 5 2 7 6 13 1 900"/><path d="M0 820V86" stroke="#481a6c" stroke-dasharray="0 47 2 16 2 2 1 8 2 16 2 30 2 4 2 23 2 16 2 20 2 94 2 9 2 47 2 3 2 7 2 7 4 11 2 1 2 4 2 12 2 6 1 2 2 49 2 65 2 2 1 13 2 9 2 14 2 2 2 63 2 13 1 13 2 900"/><path d="M0 820V86" stroke="#482475" stroke-dasharray="0 29 2 20 1 62 2 2 1 28 1 80 2 58 2 108 2 15 1 6 2 9 1 2 2 87 4 63 2 2 1 53 2 5 2 7 2 53 1 900"/><path d="M0 820V86" stroke="#472f7d" stroke-dasharray="0 52 4 4 1 13 2 63 2 159 2 13 2 69 3 58 2 13 1 26 2 14 2 11 2 34 2 14 2 31 2 7 2 9 2 16 2 9 2 10 2 13 2 23 2 2 2 12 2 7 2 900"/><path d="M0 820V86" stroke="#443983" stroke-dasharray="0 38 2 161 2 11 1 11 2 216 1 40 2 22 2 105 1 109 2 900"/><path d="M0 820V86" stroke="#414487" stroke-dasharray="0 63 2 33 1 180 2 333 2 1 2 17 1 87 2 900"/><path d="M0 820V86" stroke="#3d4d8a" stroke-dasharray="0 27 2 81 2 900"/><path d="M0 820V86" stroke="#31688e" stroke-dasharray="2 20 1 900"/><path d="M0 820V86" stroke="#2a788e" stroke-dasharray="0 25 2 900"/><path d="M0 820V86" stroke="#23888e" stroke-dasharray="0 20 2 900"/><path d="M0 820V86" stroke="#1f988b" stroke-dasharray="0 14 6 3 2 900"/><path d="M0 820V86" stroke="#54c568" stroke-dasharray="0 2 1 900"/><path d="M0 820V86" stroke="#fde725" stroke-dasharray="0 3 11 900"/></g>
<g transform="translate(470)" stroke-width="6"><path d="M0 820V86" stroke="#470d60" stroke-dasharray="0 92 2 7 2 31 2 50 2 15 1 35 4 3 2 4 1 17 2 1 2 11 2 12 4 18 2 9 2 18 2 27 5 4 2 11 2 38 1 4 4 29 1 2 2 27 2 4 1 6 2 30 2 15 2 3 2 7 6 11 1 8 1 2 2 33 1 37 1 13 2 23 2 900"/><path d="M0 820V86" stroke="#481a6c" stroke-dasharray="0 60 3 6 3 8 1 6 2 5 2 7 6 16 2 10 2 13 2 9 2 39 2 20 2 2 2 32 2 6 1 8 1 13 2 18 2 2 1 49 2 9 2 24 1 15 2 38 1 8 2 23 2 18 2 7 2 13 1 15 2 3 2 7 2 11 5 20 2 15 1 6 2 9 2 7 2 9 1 4 2 5 2 2 2 12 2 900"/><path d="M0 820V86" stroke="#482475" stroke-dasharray="0 52 4 2 2 39 2 40 2 7 2 7 2 7 2 25 6 47 2 3 2 51 2 36 2 3 2 16 2 33 2 5 2 5 2 18 2 16 2 18 2 11 2 3 2 64 1 38 2 15 2 5 2 14 4 62 1 18 2 900"/><path d="M0 820V86" stroke="#472f7d" stroke-dasharray="0 72 2 54 2 49 4 11 1 15 2 2 1 17 1 122 2 7 2 30 2 2 2 9 2 29 2 56 1 6 2 9 2 97 2 17 1 9 2 36 2 13 2 9 3 4 2 900"/><path d="M0 820V86" stroke="#443983" stroke-dasharray="0 67 2 12 6 27 2 16 2 11 3 375 2 900"/><path d="M0 820V86" stroke="#414487" stroke-dasharray="0 112 2 183 2 181 2 68 2 900"/><path d="M0 820V86" stroke="#3d4d8a" stroke-dasharray="0 49 2 12 2 13 2 280 2 900"/><path d="M0 820V86" stroke="#39568c" stroke-dasharray="0 51 1 900"/><path d="M0 820V86" stroke="#31688e" stroke-dasharray="0 43 2 900"/><path d="M0 820V86" stroke="#23888e" stroke-dasharray="0 47 2 900"/><path d="M0 820V86" stroke="#1f988b" stroke-dasharray="0 40 2 3 2 900"/><path d="M0 820V86" stroke="#a5db36" stroke-dasharray="0 31 1 4 2 900"/><path d="M0 820V86" stroke="#d2e21b" stroke-dasharray="0 38 2 900"/><path d="M0 820V86" stroke="#fde725" stroke-dasharray="31 1 4 6 1 900"/></g>
<g transform="translate(475.5)" stroke-width="5"><path d="M0 820V86" stroke="#470d60" stroke-dasharray="0 52 4 2 2 20 1 4 2 3 2 2 2 20 2 23 2 4 3 6 1 38 2 17 1 17 3 9 2 18 2 2 2 16 2 2 1 8 1 6 2 2 1 2 2 25 2 7 4 11 2 21 2 11 2 2 2 1 2 33 3 13 2 9 2 7 2 9 2 3 2 11 2 2 1 4 2 3 2 7 2 20 2 2 2 14 2 52 2 26 1 24 2 45 2 900"/><path d="M0 820V86" stroke="#481a6c" stroke-dasharray="0 67 2 18 2 10 2 6 2 36 2 7 2 18 2 10 2 6 1 15 2 23 2 15 1 22 2 27 2 25 2 24 1 19 3 16 2 11 2 7 2 67 2 36 2 47 2 2 1 22 2 2 2 10 2 22 2 16 2 3 2 4 4 7 2 7 2 5 2 20 2 900"/><path d="M0 820V86" stroke="#482475" stroke-dasharray="0 56 2 23 2 85 2 27 2 13 2 1 2 42 2 12 2 2 2 9 2 5 2 11 2 7 2 10 2 27 2 31 2 43 2 22 2 9 3 40 2 25 2 20 2 31 1 15 4 16 2 5 2 25 2 24 1 2 2 2 2 7 2 12 2 7 2 900"/><path d="M0 820V86" stroke="#472f7d" stroke-dasharray="0 60 3 7 2 6 2 181 1 29 2 44 2 16 2 14 2 9 2 27 2 12 2 76 2 22 2 16 2 11 1 24 2 63 2 54 2 900"/><path d="M0 820V86" stroke="#443983" stroke-dasharray="0 49 2 23 2 33 1 51 2 25 2 130 2 26 1 236 3 105 2 17 1 900"/><path d="M0 820V86" stroke="#414487" stroke-dasharray="0 92 2 25 2 201 2 409 1 900"/><path d="M0 820V86" stroke="#3d4d8a" stroke-dasharray="0 65 2 900"/><path d="M0 820V86" stroke="#39568c" stroke-dasharray="0 43 2 900"/><path d="M0 820V86" stroke="#2a788e" stroke-dasharray="0 51 1 900"/><path d="M0 820V86" stroke="#23888e" stroke-dasharray="0 45 2 900"/><path d="M0 820V86" stroke="#22a884" stroke-dasharray="0 47 2 900"/><path d="M0 820V86" stroke="#54c568" stroke-dasharray="0 40 2 900"/><path d="M0 820V86" stroke="#d2e21b" stroke-dasharray="0 31 1 900"/><path d="M0 820V86" stroke="#fde725" stroke-dasharray="31 1 8 2 1 900"/></g>
<g transform="translate(481)" stroke-width="6"><path d="M0 820V86" stroke="#470d60" stroke-dasharray="0 52 2 29 2 2 2 1 2 7 2 4 2 25 2 7 2 9 4 12 2 16 2 24 2 10 2 15 2 36 2 23 2 2 2 9 1 26 2 18 1 2 2 11 2 7 2 11 2 7 2 14 4 3 6 20 1 22 2 27 2 2 2 20 1 26 2 14 5 2 2 5 2 8 5 20 5 27 2 8 1 9 4 900"/><path d="M0 820V86" stroke="#481a6c" stroke-dasharray="0 56 2 7 2 3 2 6 2 39 2 9 2 29 2 69 1 6 2 36 2 5 2 5 2 2 2 14 2 35 1 24 2 14 2 16 2 15 1 40 2 65 2 16 2 53 2 7 2 25 2 3 4 25 4 4 1 15 2 9 2 18 1 900"/><path d="M0 820V86" stroke="#482475" stroke-dasharray="0 54 2 7 2 2 2 7 2 117 4 20 2 47 2 50 2 4 2 16 2 56 2 121 2 27 2 22 1 13 2 2 1 29 2 93 1 900"/><path d="M0 820V86" stroke="#472f7d" stroke-dasharray="0 94 2 96 2 295 2 7 2 20 1 31 2 100 5 900"/><path d="M0 820V86" stroke="#443983" stroke-dasharray="0 49 2 7 2 79 2 53 1 91 2 112 2 67 2 242 2 900"/><path d="M0 820V86" stroke="#3d4d8a" stroke-dasharray="0 43 2 527 2 900"/><path d="M0 820V86" stroke="#1f988b" stroke-dasharray="0 47 2 2 1 900"/><path d="M0 820V86" stroke="#22a884" stroke-dasharray="0 45 2 900"/><path d="M0 820V86" stroke="#35b779" stroke-dasharray="0 40 2 900"/><path d="M0 820V86" stroke="#d2e21b" stroke-dasharray="0 38 2 900"/><path d="M0 820V86" stroke="#fde725" stroke-dasharray="38 4 1 900"/></g>
<g transform="translate(486.5)" stroke-width="5"><path d="M0 820V86" stroke="#470d60" stroke-dasharray="0 58 2 3 2 16 6 14 2 11 2 5 2 7 2 4 3 46 1 22 2 18 2 20 2 20 1 11 2 24 1 18 2 8 3 24 3 55 1 9 2 24 2 1 4 80 2 5 2 20 3 17 3 4 2 2 1 24 4 14 2 18 2 7 2 11 1 2 2 20 2 900"/><path d="M0 820V86" stroke="#481a6c" stroke-dasharray="0 54 2 5 2 11 2 96 2 20 1 2 2 2 2 18 2 9 3 4 2 3 2 7 2 6 1 8 2 9 3 60 4 27 2 3 4 18 2 47 2 9 1 10 3 54 2 17 1 13 2 7 2 11 2 14 2 36 2 7 2 4 3 4 2 9 2 29 1 9 2 16 2 900"/><path d="M0 820V86" stroke="#482475" stroke-dasharray="0 94 2 2 1 19 1 31 2 9 2 18 2 3 2 2 2 12 2 11 4 16 2 18 2 29 2 10 2 18 2 9 2 4 2 23 2 9 2 36 2 2 1 4 4 3 2 9 2 2 3 26 2 27 1 10 1 20 2 45 2 11 2 11 2 16 2 1 2 13 4 83 2 900"/><path d="M0 820V86" stroke="#472f7d" stroke-dasharray="0 52 2 11 2 23 2 20 2 45 2 2 2 34 2 22 1 51 2 9 2 9 2 20 1 8 1 20 2 55 1 40 2 60 2 1 2 15 1 6 2 3 2 44 1 24 2 7 2 34 4 61 2 900"/><path d="M0 820V86" stroke="#443983" stroke-dasharray="0 119 2 178 1 430 1 900"/><path d="M0 820V86" stroke="#414487" stroke-dasharray="0 69 1 379 2 900"/><path d="M0 820V86" stroke="#3d4d8a" stroke-dasharray="0 49 2 900"/><path d="M0 820V86" stroke="#355f8d" stroke-dasharray="0 43 2 900"/><path d="M0 820V86" stroke="#2a788e" stroke-dasharray="0 45 2 900"/><path d="M0 820V86" stroke="#1f988b" stroke-dasharray="0 51 1 900"/><path d="M0 820V86" stroke="#35b779" stroke-dasharray="0 47 2 900"/><path d="M0 820V86" stroke="#7ad151" stroke-dasharray="0 36 2 2 2 900"/><path d="M0 820V86" stroke="#fde725" stroke-dasharray="36 2 2 2 1 900"/></g>
<g transform="translate(491.5)" stroke-width="5"><path d="M0 820V86" stroke="#470d60" stroke-dasharray="0 72 2 15 3 2 4 5 2 40 2 7 2 3 2 2 2 1 4 15 1 6 2 18 2 18 1 15 2 27 4 27 2 18 1 15 2 5 2 94 2 24 1 38 2 7 2 18 2 6 1 13 2 14 2 29 2 36 2 4 3 18 2 11 2 5 2 13 2 21 1 900"/><path d="M0 820V86" stroke="#481a6c" stroke-dasharray="0 54 6 5 4 1 2 8 3 24 2 7 2 10 2 7 2 26 1 29 2 31 2 23 2 44 1 17 2 23 2 16 2 65 2 5 2 9 2 2 2 5 2 78 4 7 2 21 4 7 2 4 1 4 2 25 2 56 2 4 1 19 1 20 2 2 2 900"/><path d="M0 820V86" stroke="#482475" stroke-dasharray="0 52 2 6 3 49 2 72 4 33 1 19 1 6 2 5 2 67 2 1 2 87 2 11 2 45 2 5 2 2 3 53 2 29 2 23 2 54 2 7 2 36 4 900"/><path d="M0 820V86" stroke="#472f7d" stroke-dasharray="0 130 2 45 2 58 2 45 2 62 1 13 2 16 2 34 2 178 1 29 2 17 1 76 2 2 2 900"/><path d="M0 820V86" stroke="#443983" stroke-dasharray="0 98 1 453 2 40 2 21 2 4 2 14 2 49 2 900"/><path d="M0 820V86" stroke="#414487" stroke-dasharray="0 322 2 900"/><path d="M0 820V86" stroke="#3d4d8a" stroke-dasharray="0 49 2 900"/><path d="M0 820V86" stroke="#39568c" stroke-dasharray="0 43 2 900"/><path d="M0 820V86" stroke="#2a788e" stroke-dasharray="0 47 2 900"/><path d="M0 820V86" stroke="#23888e" stroke-dasharray="0 45 2 4 1 900"/><path d="M0 820V86" stroke="#1f988b" stroke-dasharray="0 40 2 900"/><path d="M0 820V86" stroke="#35b779" stroke-dasharray="0 36 2 900"/><path d="M0 820V86" stroke="#7ad151" stroke-dasharray="0 38 2 900"/><path d="M0 820V86" stroke="#fde725" stroke-dasharray="36 6 1 900"/></g>
<g transform="translate(497)" stroke-width="6"><path d="M0 820V86" stroke="#470d60" stroke-dasharray="0 56 2 3 2 31 2 7 2 13 1 2 2 9 2 5 2 4 2 10 4 9 2 11 2 58 1 11 2 4 1 20 2 24 2 7 3 8 3 6 3 6 2 12 4 18 2 9 2 1 2 2 2 11 2 5 2 9 2 23 2 5 2 2 2 63 2 6 1 2 2 2 2 10 2 22 2 7 2 22 5 7 4 29 2 9 2 7 2 32 2 900"/><path d="M0 820V86" stroke="#481a6c" stroke-dasharray="0 52 2 6 1 2 2 2 2 20 3 31 2 9 2 5 2 20 2 12 2 13 2 14 2 5 2 7 2 4 2 18 2 38 3 2 2 7 2 4 3 20 2 13 1 17 1 39 1 17 3 46 1 29 4 22 1 6 2 25 2 2 2 19 4 11 2 5 2 63 2 6 3 9 2 4 2 23 2 900"/><path d="M0 820V86" stroke="#482475" stroke-dasharray="0 76 4 5 2 29 2 9 1 53 2 5 2 11 2 50 2 15 2 25 2 36 2 3 2 11 2 14 2 33 2 41 2 25 2 20 2 18 2 5 2 25 4 25 2 18 2 38 2 13 1 31 2 9 2 13 1 9 2 900"/><path d="M0 820V86" stroke="#472f7d" stroke-dasharray="0 148 2 40 2 114 2 41 2 24 2 34 2 74 2 20 2 14 2 18 2 11 1 82 2 7 2 25 2 20 2 29 1 900"/><path d="M0 820V86" stroke="#443983" stroke-dasharray="0 204 2 13 2 63 2 109 1 13 2 31 2 16 2 45 2 18 2 68 2 80 2 47 2 900"/><path d="M0 820V86" stroke="#414487" stroke-dasharray="0 54 2 9 2 139 2 54 2 122 1 28 1 297 2 900"/><path d="M0 820V86" stroke="#3d4d8a" stroke-dasharray="0 69 1 125 2 404 2 900"/><path d="M0 820V86" stroke="#39568c" stroke-dasharray="0 58 2 900"/><path d="M0 820V86" stroke="#355f8d" stroke-dasharray="0 49 2 900"/><path d="M0 820V86" stroke="#2a788e" stroke-dasharray="0 43 2 900"/><path d="M0 820V86" stroke="#1f988b" stroke-dasharray="0 51 1 900"/><path d="M0 820V86" stroke="#22a884" stroke-dasharray="0 47 2 900"/><path d="M0 820V86" stroke="#35b779" stroke-dasharray="0 45 2 900"/><path d="M0 820V86" stroke="#7ad151" stroke-dasharray="0 40 2 900"/><path d="M0 820V86" stroke="#fde725" stroke-dasharray="40 2 1 900"/></g>
<g transform="translate(502.5)" stroke-width="5"><path d="M0 820V86" stroke="#470d60" stroke-dasharray="0 49 2 3 2 7 2 60 2 3 2 4 1 4 2 33 5 9 2 22 1 8 1 33 2 2 1 11 2 15 1 6 2 1 2 35 3 13 4 3 4 63 2 27 4 3 4 6 1 18 2 24 2 12 2 13 3 4 2 14 4 72 2 4 2 9 3 9 2 13 2 5 4 12 4 900"/><path d="M0 820V86" stroke="#481a6c" stroke-dasharray="0 45 2 29 2 32 2 11 2 25 4 3 2 2 2 7 2 2 2 45 2 5 2 9 2 2 1 6 2 3 2 7 2 13 2 3 4 11 1 24 2 7 2 56 2 5 2 2 2 20 1 24 2 3 2 42 2 12 2 29 2 11 3 31 2 9 2 5 2 16 2 53 2 900"/><path d="M0 820V86" stroke="#482475" stroke-dasharray="0 43 2 2 2 12 2 7 2 20 2 9 2 42 1 33 2 14 4 36 2 43 2 11 2 5 2 54 2 18 4 56 2 34 2 4 2 63 2 22 1 4 4 36 2 12 4 9 4 23 2 900"/><path d="M0 820V86" stroke="#472f7d" stroke-dasharray="0 52 2 2 2 23 4 9 4 1 2 42 2 9 3 11 2 89 2 1 2 11 2 27 2 45 2 11 2 11 1 62 4 70 2 67 5 86 1 11 2 900"/><path d="M0 820V86" stroke="#443983" stroke-dasharray="0 51 1 8 1 17 2 68 2 122 1 42 2 105 2 112 2 900"/><path d="M0 820V86" stroke="#414487" stroke-dasharray="0 119 2 65 2 140 1 102 2 203 1 900"/><path d="M0 820V86" stroke="#31688e" stroke-dasharray="0 36 2 2 2 900"/><path d="M0 820V86" stroke="#22a884" stroke-dasharray="0 31 1 10 1 900"/><path d="M0 820V86" stroke="#35b779" stroke-dasharray="0 38 2 900"/><path d="M0 820V86" stroke="#54c568" stroke-dasharray="0 32 2 900"/><path d="M0 820V86" stroke="#7ad151" stroke-dasharray="0 27 2 5 2 900"/><path d="M0 820V86" stroke="#a5db36" stroke-dasharray="0 23 2 900"/><path d="M0 820V86" stroke="#d2e21b" stroke-dasharray="0 25 2 900"/><path d="M0 820V86" stroke="#fde725" stroke-dasharray="23 6 2 900"/></g>
<g transform="translate(508)" stroke-width="6"><path d="M0 820V86" stroke="#470d60" stroke-dasharray="0 70 2 8 3 11 2 5 4 11 2 18 1 6 2 11 1 20 2 18 2 9 2 27 4 31 1 6 2 29 1 2 2 2 2 20 1 18 2 7 2 20 2 7 4 11 2 16 2 25 2 7 2 11 2 1 2 15 1 40 2 2 2 5 2 16 2 2 2 2 1 8 1 13 4 3 2 9 2 5 2 46 1 15 3 15 2 9 2 900"/><path d="M0 820V86" stroke="#481a6c" stroke-dasharray="0 65 2 16 2 2 2 9 1 15 2 3 2 60 2 21 2 6 3 40 2 5 2 20 2 29 2 3 2 27 2 11 2 20 2 29 3 31 4 3 2 5 2 44 2 14 2 20 2 12 2 4 2 7 2 10 4 45 2 15 1 11 2 13 2 5 2 9 2 11 1 18 2 900"/><path d="M0 820V86" stroke="#482475" stroke-dasharray="0 52 2 4 2 3 2 42 2 9 1 4 4 67 1 29 2 60 2 9 2 1 2 2 2 74 2 4 1 31 2 22 2 16 2 78 1 9 2 13 2 2 1 11 2 13 1 19 1 46 1 6 2 21 2 6 2 12 2 7 2 900"/><path d="M0 820V86" stroke="#472f7d" stroke-dasharray="0 60 1 28 1 15 2 65 2 54 2 34 2 42 2 23 2 29 2 40 1 84 1 28 1 17 2 3 2 4 1 4 2 36 2 13 1 13 2 29 2 29 1 29 2 900"/><path d="M0 820V86" stroke="#443983" stroke-dasharray="0 49 2 16 2 9 2 70 2 272 1 189 2 70 2 900"/><path d="M0 820V86" stroke="#414487" stroke-dasharray="0 387 2 15 2 30 2 47 2 7 2 154 2 900"/><path d="M0 820V86" stroke="#23888e" stroke-dasharray="0 47 2 900"/><path d="M0 820V86" stroke="#1f988b" stroke-dasharray="0 43 4 4 1 900"/><path d="M0 820V86" stroke="#22a884" stroke-dasharray="0 40 2 900"/><path d="M0 820V86" stroke="#a5db36" stroke-dasharray="0 36 2 4 1 900"/><path d="M0 820V86" stroke="#fde725" stroke-dasharray="36 2 2 900"/></g>
<g transform="translate(513.5)" stroke-width="5"><path d="M0 820V86" stroke="#470d60" stroke-dasharray="0 60 1 6 2 9 2 30 2 56 2 4 2 27 1 22 2 15 1 2 2 14 2 6 3 33 2 9 2 38 1 15 2 16 2 3 2 8 1 17 1 9 2 51 2 11 1 29 4 16 2 7 2 4 2 47 2 5 2 13 1 15 3 4 2 54 2 9 2 5 1 900"/><path d="M0 820V86" stroke="#481a6c" stroke-dasharray="0 54 2 5 2 2 2 2 1 13 2 65 2 4 1 28 1 11 2 2 2 1 2 8 1 24 2 14 2 2 2 30 2 11 2 29 2 16 2 3 4 16 2 31 2 14 2 4 1 6 2 29 2 25 2 9 3 22 2 9 2 7 2 2 1 2 2 24 1 6 2 47 2 36 2 7 2 1 2 4 2 900"/><path d="M0 820V86" stroke="#482475" stroke-dasharray="0 56 4 27 3 6 2 9 2 99 2 5 2 18 2 7 2 29 2 43 2 7 2 6 2 16 2 20 1 17 1 60 2 5 2 17 1 33 2 45 2 7 2 43 2 58 2 9 2 11 2 27 1 900"/><path d="M0 820V86" stroke="#472f7d" stroke-dasharray="0 52 2 9 2 16 2 45 2 69 2 31 1 98 2 7 2 9 2 22 2 7 2 56 2 9 1 122 2 14 2 2 1 48 1 15 2 900"/><path d="M0 820V86" stroke="#443983" stroke-dasharray="0 76 2 601 2 11 1 900"/><path d="M0 820V86" stroke="#414487" stroke-dasharray="0 72 2 319 2 94 2 172 1 900"/><path d="M0 820V86" stroke="#3d4d8a" stroke-dasharray="0 49 2 900"/><path d="M0 820V86" stroke="#31688e" stroke-dasharray="0 51 1 900"/><path d="M0 820V86" stroke="#2a788e" stroke-dasharray="0 43 4 900"/><path d="M0 820V86" stroke="#1f988b" stroke-dasharray="0 47 2 900"/><path d="M0 820V86" stroke="#35b779" stroke-dasharray="0 40 2 900"/><path d="M0 820V86" stroke="#54c568" stroke-dasharray="0 36 2 900"/><path d="M0 820V86" stroke="#a5db36" stroke-dasharray="0 34 2 900"/><path d="M0 820V86" stroke="#fde725" stroke-dasharray="34 4 2 2 1 900"/></g>
<g transform="translate(518.5)" stroke-width="5"><path d="M0 820V86" stroke="#470d60" stroke-dasharray="0 54 2 24 3 15 1 10 1 17 1 33 2 3 2 6 2 25 2 23 2 5 2 4 2 3 2 20 2 11 2 21 4 11 2 36 2 50 2 11 2 5 2 54 2 35 1 2 2 11 2 16 2 7 2 11 3 55 2 7 2 18 1 15 2 7 2 20 3 11 2 5 2 900"/><path d="M0 820V86" stroke="#481a6c" stroke-dasharray="0 56 2 49 2 38 1 24 2 56 2 11 1 9 2 17 1 20 2 2 2 9 2 9 3 2 2 47 2 36 2 5 2 18 2 4 1 6 2 5 2 13 1 6 2 30 2 16 2 55 1 6 2 11 3 54 2 17 1 2 2 900"/><path d="M0 820V86" stroke="#482475" stroke-dasharray="0 60 1 2 2 11 2 12 2 53 2 3 2 24 3 67 2 62 1 46 1 8 1 35 2 11 1 8 1 8 1 58 2 127 2 45 2 14 2 42 3 900"/><path d="M0 820V86" stroke="#472f7d" stroke-dasharray="0 61 2 71 2 72 2 89 1 69 2 15 1 4 2 23 2 27 2 67 2 9 2 5 2 80 2 900"/><path d="M0 820V86" stroke="#443983" stroke-dasharray="0 116 2 14 2 20 2 126 2 42 2 11 1 156 2 154 2 900"/><path d="M0 820V86" stroke="#414487" stroke-dasharray="0 300 2 900"/><path d="M0 820V86" stroke="#3d4d8a" stroke-dasharray="0 49 2 900"/><path d="M0 820V86" stroke="#355f8d" stroke-dasharray="0 43 2 2 2 900"/><path d="M0 820V86" stroke="#2a788e" stroke-dasharray="0 51 1 900"/><path d="M0 820V86" stroke="#23888e" stroke-dasharray="0 36 2 7 2 900"/><path d="M0 820V86" stroke="#35b779" stroke-dasharray="0 40 2 900"/><path d="M0 820V86" stroke="#a5db36" stroke-dasharray="0 42 1 900"/><path d="M0 820V86" stroke="#d2e21b" stroke-dasharray="0 27 2 9 2 900"/><path d="M0 820V86" stroke="#fde725" stroke-dasharray="27 2 7 900"/></g>
<g transform="translate(524)" stroke-width="6"><path d="M0 820V86" stroke="#470d60" stroke-dasharray="0 65 2 29 2 12 2 44 1 20 2 9 2 4 1 31 2 9 2 16 2 40 2 21 2 15 2 19 2 9 4 31 2 12 4 11 1 11 2 16 2 11 2 16 4 9 2 14 4 13 1 35 2 19 2 38 2 7 2 4 2 16 2 36 2 11 1 900"/><path d="M0 820V86" stroke="#481a6c" stroke-dasharray="0 58 2 29 1 2 2 29 2 2 1 4 2 3 2 20 2 2 2 3 2 2 2 7 2 2 1 29 2 2 2 29 2 32 4 5 2 9 2 22 1 2 2 7 2 7 2 13 2 1 2 15 2 7 5 27 2 9 2 27 2 18 2 22 5 18 2 44 1 2 2 7 4 29 2 18 2 14 2 20 2 36 2 12 1 900"/><path d="M0 820V86" stroke="#482475" stroke-dasharray="0 67 5 42 2 18 2 3 4 49 2 12 2 13 2 52 2 18 2 32 2 56 2 42 2 9 2 7 2 16 2 3 2 4 2 9 1 22 2 36 2 4 1 10 1 4 2 25 2 45 2 4 3 7 6 34 2 900"/><path d="M0 820V86" stroke="#472f7d" stroke-dasharray="0 63 2 11 2 9 2 32 2 13 1 106 1 22 2 4 1 44 2 7 2 20 1 4 2 22 1 28 3 18 2 15 1 55 1 160 2 34 2 2 2 14 2 5 4 900"/><path d="M0 820V86" stroke="#443983" stroke-dasharray="0 52 4 16 2 33 2 92 2 58 1 191 1 33 2 27 2 36 2 107 1 10 1 900"/><path d="M0 820V86" stroke="#414487" stroke-dasharray="0 60 1 115 1 212 2 150 2 76 2 72 2 900"/><path d="M0 820V86" stroke="#39568c" stroke-dasharray="0 49 2 900"/><path d="M0 820V86" stroke="#355f8d" stroke-dasharray="0 43 2 900"/><path d="M0 820V86" stroke="#31688e" stroke-dasharray="0 51 1 900"/><path d="M0 820V86" stroke="#23888e" stroke-dasharray="0 47 2 900"/><path d="M0 820V86" stroke="#1f988b" stroke-dasharray="0 36 2 2 2 3 2 900"/><path d="M0 820V86" stroke="#d2e21b" stroke-dasharray="0 34 2 2 2 900"/><path d="M0 820V86" stroke="#fde725" stroke-dasharray="34 8 1 900"/></g>
<g transform="translate(529.5)" stroke-width="5"><path d="M0 820V86" stroke="#470d60" stroke-dasharray="0 65 4 16 2 22 1 6 2 3 4 2 1 8 1 6 2 36 2 2 1 13 2 56 4 1 2 15 2 7 7 16 4 22 2 18 1 20 2 33 2 34 4 9 1 17 2 3 2 20 2 2 1 13 4 29 1 11 2 6 1 17 1 11 2 22 2 2 1 8 1 8 1 8 1 2 2 29 2 22 1 900"/><path d="M0 820V86" stroke="#481a6c" stroke-dasharray="0 72 4 25 2 27 2 24 3 17 1 62 2 9 2 12 2 15 3 65 2 2 2 14 2 62 1 6 2 59 2 2 2 23 4 7 2 2 4 5 2 25 2 9 2 61 2 35 1 900"/><path d="M0 820V86" stroke="#482475" stroke-dasharray="0 58 2 3 2 13 2 3 2 22 2 25 2 9 2 3 2 67 2 3 2 35 1 6 4 5 2 20 1 67 2 17 1 4 2 5 2 7 2 47 2 13 2 9 1 82 2 5 2 29 2 2 1 18 2 9 2 94 1 900"/><path d="M0 820V86" stroke="#472f7d" stroke-dasharray="0 36 2 18 2 11 1 49 2 51 2 52 2 4 1 4 2 87 2 150 2 11 1 20 2 53 2 119 2 900"/><path d="M0 820V86" stroke="#443983" stroke-dasharray="0 179 2 9 2 123 2 16 2 181 2 181 2 900"/><path d="M0 820V86" stroke="#414487" stroke-dasharray="0 252 1 437 2 900"/><path d="M0 820V86" stroke="#3d4d8a" stroke-dasharray="0 61 2 241 2 335 2 900"/><path d="M0 820V86" stroke="#355f8d" stroke-dasharray="0 52 2 900"/><path d="M0 820V86" stroke="#31688e" stroke-dasharray="0 49 2 900"/><path d="M0 820V86" stroke="#2a788e" stroke-dasharray="0 43 2 900"/><path d="M0 820V86" stroke="#23888e" stroke-dasharray="0 47 2 900"/><path d="M0 820V86" stroke="#1f988b" stroke-dasharray="0 51 1 900"/><path d="M0 820V86" stroke="#22a884" stroke-dasharray="0 40 2 900"/><path d="M0 820V86" stroke="#54c568" stroke-dasharray="0 45 2 900"/><path d="M0 820V86" stroke="#d2e21b" stroke-dasharray="0 42 1 900"/><path d="M0 820V86" stroke="#fde725" stroke-dasharray="36 2 2 900"/></g>
<g transform="translate(535)" stroke-width="6"><path d="M0 820V86" stroke="#470d60" stroke-dasharray="0 65 2 3 2 4 2 18 2 27 2 18 2 54 2 3 2 27 4 7 2 13 1 11 2 65 2 7 2 7 2 7 2 17 1 15 2 47 2 20 1 4 2 5 2 24 1 17 1 37 2 21 4 38 2 34 2 13 1 8 1 26 5 900"/><path d="M0 820V86" stroke="#481a6c" stroke-dasharray="0 61 2 9 2 29 2 25 2 4 1 84 2 3 2 31 2 30 2 24 2 12 2 13 2 23 2 36 2 33 1 64 2 12 2 2 2 34 2 5 2 51 2 32 2 18 2 5 2 900"/><path d="M0 820V86" stroke="#482475" stroke-dasharray="0 78 2 1 2 7 4 15 1 42 2 60 1 89 2 47 2 105 2 90 2 49 2 7 2 7 2 7 2 7 2 13 1 44 2 900"/><path d="M0 820V86" stroke="#472f7d" stroke-dasharray="0 49 2 3 2 45 2 18 2 18 2 150 2 259 4 900"/><path d="M0 820V86" stroke="#443983" stroke-dasharray="0 337 2 900"/><path d="M0 820V86" stroke="#414487" stroke-dasharray="0 43 2 900"/><path d="M0 820V86" stroke="#3d4d8a" stroke-dasharray="0 47 2 900"/><path d="M0 820V86" stroke="#31688e" stroke-dasharray="0 51 1 900"/><path d="M0 820V86" stroke="#23888e" stroke-dasharray="0 45 2 900"/><path d="M0 820V86" stroke="#22a884" stroke-dasharray="0 40 2 900"/><path d="M0 820V86" stroke="#35b779" stroke-dasharray="0 34 2 900"/><path d="M0 820V86" stroke="#7ad151" stroke-dasharray="0 36 2 900"/><path d="M0 820V86" stroke="#a5db36" stroke-dasharray="0 42 1 900"/><path d="M0 820V86" stroke="#d2e21b" stroke-dasharray="0 31 1 6 2 900"/><path d="M0 820V86" stroke="#fde725" stroke-dasharray="31 1 2 900"/></g>
<g transform="translate(540.5)" stroke-width="5"><path d="M0 820V86" stroke="#470d60" stroke-dasharray="0 52 2 6 1 2 4 2 1 4 2 2 2 41 2 18 2 14 4 7 2 2 2 16 2 65 4 12 2 13 3 11 2 25 4 24 1 29 2 33 2 61 2 31 2 36 3 37 1 10 1 11 2 5 2 15 2 7 2 18 2 43 2 5 2 900"/><path d="M0 820V86" stroke="#481a6c" stroke-dasharray="0 56 2 12 2 15 2 25 2 21 2 27 2 38 2 2 2 5 2 9 2 5 2 31 2 9 2 1 2 33 2 34 4 1 2 2 2 25 2 13 2 1 2 18 2 16 2 26 3 4 2 16 3 4 2 13 1 6 2 1 2 9 2 6 1 9 2 17 1 44 2 3 2 4 3 46 1 6 2 30 2 4 2 900"/><path d="M0 820V86" stroke="#482475" stroke-dasharray="0 61 2 17 1 37 1 11 2 60 2 5 2 13 3 4 2 10 2 29 2 45 2 20 2 38 2 9 2 23 2 42 1 11 2 15 1 8 1 22 2 63 2 74 2 20 2 900"/><path d="M0 820V86" stroke="#472f7d" stroke-dasharray="0 83 2 65 2 9 2 32 2 7 2 31 2 4 3 73 1 44 2 85 2 39 2 2 2 74 2 20 2 18 3 86 1 900"/><path d="M0 820V86" stroke="#443983" stroke-dasharray="0 36 2 34 2 7 2 29 2 22 1 39 1 20 2 9 2 9 2 18 2 59 2 11 2 143 2 18 2 70 2 11 2 132 4 5 2 900"/><path d="M0 820V86" stroke="#414487" stroke-dasharray="0 94 2 127 5 2 2 52 2 63 2 270 2 900"/><path d="M0 820V86" stroke="#3d4d8a" stroke-dasharray="0 45 2 165 2 900"/><path d="M0 820V86" stroke="#39568c" stroke-dasharray="0 40 2 5 2 192 2 900"/><path d="M0 820V86" stroke="#31688e" stroke-dasharray="0 51 1 900"/><path d="M0 820V86" stroke="#1f988b" stroke-dasharray="0 42 1 900"/><path d="M0 820V86" stroke="#54c568" stroke-dasharray="0 31 1 900"/><path d="M0 820V86" stroke="#7ad151" stroke-dasharray="0 38 2 900"/><path d="M0 820V86" stroke="#a5db36" stroke-dasharray="0 34 2 900"/><path d="M0 820V86" stroke="#d2e21b" stroke-dasharray="0 29 2 900"/><path d="M0 820V86" stroke="#fde725" stroke-dasharray="29 3 2 900"/></g>
<g transform="translate(545.5)" stroke-width="5"><path d="M0 820V86" stroke="#470d60" stroke-dasharray="0 56 2 36 2 2 1 4 2 5 2 4 2 9 1 15 4 14 2 22 1 24 2 21 2 13 2 16 2 4 3 2 2 18 2 7 2 5 2 22 2 7 2 9 1 9 2 6 2 1 2 7 2 116 2 25 2 13 2 27 2 3 2 9 2 3 2 18 2 4 2 16 2 25 4 7 2 36 2 3 2 4 2 900"/><path d="M0 820V86" stroke="#481a6c" stroke-dasharray="0 65 2 14 2 2 2 25 2 7 2 14 2 9 2 13 2 21 2 15 1 4 2 31 2 41 2 16 2 49 2 18 2 21 2 17 1 9 4 9 2 13 1 6 2 9 2 9 3 27 2 9 2 2 3 33 2 7 2 4 1 20 2 11 2 23 2 9 2 900"/><path d="M0 820V86" stroke="#482475" stroke-dasharray="0 92 2 2 2 34 2 18 2 34 2 14 2 24 2 7 2 27 2 21 2 24 2 1 2 18 2 71 2 16 2 1 2 37 1 2 2 13 3 9 2 16 2 18 2 7 2 17 1 49 2 5 2 2 2 2 2 27 1 31 2 900"/><path d="M0 820V86" stroke="#472f7d" stroke-dasharray="0 40 2 27 1 13 2 5 2 36 2 67 2 29 2 99 4 29 2 40 2 14 2 72 2 11 2 52 2 33 1 58 2 7 2 900"/><path d="M0 820V86" stroke="#443983" stroke-dasharray="0 47 2 38 2 30 2 85 2 4 2 50 2 60 2 78 1 62 2 9 2 29 1 47 2 27 4 98 2 12 2 900"/><path d="M0 820V86" stroke="#414487" stroke-dasharray="0 49 2 1 2 567 2 900"/><path d="M0 820V86" stroke="#3d4d8a" stroke-dasharray="0 45 2 248 2 900"/><path d="M0 820V86" stroke="#39568c" stroke-dasharray="0 51 1 900"/><path d="M0 820V86" stroke="#2a788e" stroke-dasharray="0 36 2 900"/><path d="M0 820V86" stroke="#23888e" stroke-dasharray="0 34 2 900"/><path d="M0 820V86" stroke="#1f988b" stroke-dasharray="0 38 2 2 1 900"/><path d="M0 820V86" stroke="#22a884" stroke-dasharray="0 31 1 900"/><path d="M0 820V86" stroke="#54c568" stroke-dasharray="0 32 2 900"/><path d="M0 820V86" stroke="#d2e21b" stroke-dasharray="0 25 6 900"/><path d="M0 820V86" stroke="#fde725" stroke-dasharray="25 900"/></g>
<g transform="translate(551)" stroke-width="6"><path d="M0 820V86" stroke="#470d60" stroke-dasharray="0 60 1 13 2 9 2 11 1 4 2 16 4 5 2 29 2 29 2 1 4 27 2 11 2 25 2 4 1 4 2 9 2 20 1 11 2 11 2 11 1 18 2 4 2 18 2 1 6 11 2 10 2 15 3 9 2 4 3 10 1 4 2 16 2 20 2 16 2 21 6 9 2 34 2 16 4 9 2 5 2 9 2 3 2 4 2 5 2 5 2 13 2 900"/><path d="M0 820V86" stroke="#481a6c" stroke-dasharray="0 107 2 16 2 5 2 16 2 2 2 43 2 45 2 54 2 42 2 29 1 9 2 26 1 20 2 2 2 154 1 35 2 5 2 56 2 13 1 11 2 900"/><path d="M0 820V86" stroke="#482475" stroke-dasharray="0 52 4 2 2 18 2 29 1 4 2 47 2 47 2 14 2 3 2 2 2 40 2 88 2 11 2 40 1 9 2 51 4 65 2 14 2 5 2 16 2 20 2 5 2 51 2 12 2 6 3 4 2 11 1 11 1 900"/><path d="M0 820V86" stroke="#472f7d" stroke-dasharray="0 81 2 54 2 2 4 2 3 40 2 14 2 22 2 96 1 11 2 64 1 4 2 25 2 255 2 900"/><path d="M0 820V86" stroke="#443983" stroke-dasharray="0 112 2 360 2 53 1 58 2 900"/><path d="M0 820V86" stroke="#414487" stroke-dasharray="0 45 2 2 2 150 2 329 2 56 2 76 2 900"/><path d="M0 820V86" stroke="#3d4d8a" stroke-dasharray="0 51 1 9 2 900"/><path d="M0 820V86" stroke="#355f8d" stroke-dasharray="0 47 2 900"/><path d="M0 820V86" stroke="#2a788e" stroke-dasharray="0 40 2 900"/><path d="M0 820V86" stroke="#22a884" stroke-dasharray="0 36 2 900"/><path d="M0 820V86" stroke="#54c568" stroke-dasharray="0 34 2 2 2 2 1 900"/><path d="M0 820V86" stroke="#d2e21b" stroke-dasharray="0 25 4 900"/><path d="M0 820V86" stroke="#fde725" stroke-dasharray="25 4 5 900"/></g>
<g transform="translate(556.5)" stroke-width="5"><path d="M0 820V86" stroke="#470d60" stroke-dasharray="0 54 2 7 2 2 2 20 1 9 2 6 2 21 2 34 2 13 2 9 2 1 2 13 2 25 2 2 2 1 4 4 1 11 2 9 2 5 2 4 2 25 4 43 2 9 4 5 5 24 2 12 2 9 2 4 2 18 3 8 1 22 2 45 2 5 2 24 2 5 2 22 1 8 1 15 2 3 2 13 2 9 1 22 2 5 2 17 1 900"/><path d="M0 820V86" stroke="#481a6c" stroke-dasharray="0 45 4 11 1 9 2 6 2 1 2 120 1 15 2 49 2 12 2 18 4 21 2 2 2 14 4 5 2 11 2 45 2 7 2 4 1 26 2 18 2 21 2 9 2 2 2 12 2 18 2 11 2 79 2 24 2 9 3 15 2 27 1 900"/><path d="M0 820V86" stroke="#482475" stroke-dasharray="0 56 2 14 2 24 1 37 1 48 3 38 2 29 2 18 2 31 1 8 3 15 2 3 4 20 1 31 2 4 2 81 2 36 4 5 2 4 1 62 2 3 2 13 3 82 2 900"/><path d="M0 820V86" stroke="#472f7d" stroke-dasharray="0 49 2 29 1 24 2 14 2 54 2 94 2 4 2 5 2 20 2 79 2 31 2 29 1 4 2 14 2 96 2 13 1 22 2 24 1 40 2 900"/><path d="M0 820V86" stroke="#443983" stroke-dasharray="0 36 2 123 2 335 2 114 2 1 2 78 4 12 2 900"/><path d="M0 820V86" stroke="#414487" stroke-dasharray="0 43 2 109 2 499 2 900"/><path d="M0 820V86" stroke="#3d4d8a" stroke-dasharray="0 40 2 9 1 900"/><path d="M0 820V86" stroke="#22a884" stroke-dasharray="0 34 2 6 1 900"/><path d="M0 820V86" stroke="#35b779" stroke-dasharray="0 27 2 9 2 900"/><path d="M0 820V86" stroke="#54c568" stroke-dasharray="0 31 1 900"/><path d="M0 820V86" stroke="#7ad151" stroke-dasharray="0 32 2 900"/><path d="M0 820V86" stroke="#a5db36" stroke-dasharray="0 29 2 900"/><path d="M0 820V86" stroke="#fde725" stroke-dasharray="27 900"/></g>
<g transform="translate(562)" stroke-width="6"><path d="M0 820V86" stroke="#470d60" stroke-dasharray="0 52 2 6 1 4 2 3 2 8 1 6 2 63 2 49 1 86 1 4 2 2 1 13 2 40 3 2 4 7 4 7 2 61 2 31 4 12 2 4 1 17 2 12 2 9 2 2 2 3 2 18 4 18 2 1 2 17 1 6 2 21 2 6 1 13 2 2 2 21 2 27 4 900"/><path d="M0 820V86" stroke="#481a6c" stroke-dasharray="0 58 2 3 2 4 1 8 2 1 4 11 2 9 2 25 2 11 1 13 2 18 2 21 2 6 2 12 2 38 2 60 1 6 2 16 2 23 2 7 2 15 2 41 2 16 4 7 2 5 4 2 2 5 2 22 1 19 1 4 2 29 2 1 2 26 1 6 2 16 2 14 2 2 2 9 1 900"/><path d="M0 820V86" stroke="#482475" stroke-dasharray="0 114 4 61 2 7 2 24 1 40 4 11 2 5 4 5 2 20 2 32 2 2 2 16 2 3 2 6 1 11 2 15 1 6 3 18 2 51 2 74 2 23 2 94 2 35 1 9 2 900"/><path d="M0 820V86" stroke="#472f7d" stroke-dasharray="0 47 2 12 2 22 2 22 1 46 1 51 2 42 1 38 2 7 2 78 2 51 1 10 1 93 2 148 2 900"/><path d="M0 820V86" stroke="#443983" stroke-dasharray="0 43 2 31 2 40 1 11 2 13 2 101 2 67 2 48 2 62 2 30 2 17 1 31 2 40 2 143 2 900"/><path d="M0 820V86" stroke="#414487" stroke-dasharray="0 420 2 900"/><path d="M0 820V86" stroke="#3d4d8a" stroke-dasharray="0 570 2 103 2 900"/><path d="M0 820V86" stroke="#39568c" stroke-dasharray="0 45 2 900"/><path d="M0 820V86" stroke="#31688e" stroke-dasharray="0 51 1 900"/><path d="M0 820V86" stroke="#23888e" stroke-dasharray="0 40 2 900"/><path d="M0 820V86" stroke="#1f988b" stroke-dasharray="0 36 2 900"/><path d="M0 820V86" stroke="#35b779" stroke-dasharray="0 42 1 900"/><path d="M0 820V86" stroke="#7ad151" stroke-dasharray="0 27 2 5 2 2 2 900"/><path d="M0 820V86" stroke="#d2e21b" stroke-dasharray="0 31 1 900"/><path d="M0 820V86" stroke="#fde725" stroke-dasharray="27 2 2 1 2 900"/></g>
<g transform="translate(567.5)" stroke-width="5"><path d="M0 820V86" stroke="#470d60" stroke-dasharray="0 89 1 9 2 8 1 24 2 3 2 6 1 4 2 43 2 27 2 22 2 3 2 2 2 45 2 7 2 5 2 31 2 27 2 12 2 2 4 23 2 11 3 8 1 15 2 12 2 6 1 15 2 12 2 2 2 29 2 36 2 18 2 3 2 47 2 2 2 7 2 34 2 900"/><path d="M0 820V86" stroke="#481a6c" stroke-dasharray="0 83 2 40 3 2 2 51 2 1 2 33 3 11 2 9 2 5 2 6 1 8 2 3 2 11 2 10 2 15 3 11 6 2 1 26 1 15 2 25 6 10 4 27 2 2 2 27 2 9 1 4 2 2 2 3 2 16 2 7 2 2 2 12 2 4 2 5 2 9 2 5 2 33 3 17 1 15 2 36 2 14 2 2 2 9 1 900"/><path d="M0 820V86" stroke="#482475" stroke-dasharray="0 52 2 4 2 36 2 63 4 16 2 69 1 19 1 9 2 13 2 9 2 19 2 33 2 5 2 18 2 3 2 53 2 9 1 15 2 12 2 17 3 9 2 9 2 7 2 2 2 21 2 24 1 6 2 29 2 7 2 1 2 35 1 13 2 2 2 10 2 13 2 900"/><path d="M0 820V86" stroke="#472f7d" stroke-dasharray="0 74 4 3 2 2 2 85 2 25 2 18 2 11 1 10 1 20 2 2 2 58 1 57 1 46 1 2 2 2 2 43 2 40 2 32 2 36 2 6 1 44 2 68 2 9 1 900"/><path d="M0 820V86" stroke="#443983" stroke-dasharray="0 121 2 31 2 61 2 5 2 15 2 34 2 5 2 65 2 81 2 2 2 136 2 3 2 120 1 6 2 900"/><path d="M0 820V86" stroke="#414487" stroke-dasharray="0 43 2 49 2 18 2 371 2 49 2 137 2 900"/><path d="M0 820V86" stroke="#3d4d8a" stroke-dasharray="0 49 2 900"/><path d="M0 820V86" stroke="#39568c" stroke-dasharray="0 40 2 9 1 900"/><path d="M0 820V86" stroke="#355f8d" stroke-dasharray="0 47 2 900"/><path d="M0 820V86" stroke="#31688e" stroke-dasharray="0 45 2 900"/><path d="M0 820V86" stroke="#22a884" stroke-dasharray="0 36 2 900"/><path d="M0 820V86" stroke="#35b779" stroke-dasharray="0 38 2 900"/><path d="M0 820V86" stroke="#a5db36" stroke-dasharray="0 34 2 6 1 900"/><path d="M0 820V86" stroke="#d2e21b" stroke-dasharray="0 31 1 900"/><path d="M0 820V86" stroke="#fde725" stroke-dasharray="31 1 2 900"/></g>
<g transform="translate(572.5)" stroke-width="5"><path d="M0 820V86" stroke="#470d60" stroke-dasharray="0 56 4 10 2 9 2 16 2 17 1 15 3 17 2 3 2 9 2 34 2 11 2 9 3 17 2 65 2 1 2 6 1 2 4 2 2 14 2 12 2 9 2 9 2 16 2 24 1 102 2 7 2 14 2 40 2 2 1 38 2 4 2 32 2 27 2 2 2 3 2 7 1 900"/><path d="M0 820V86" stroke="#481a6c" stroke-dasharray="0 61 2 2 4 9 2 83 2 11 1 44 2 16 2 5 2 42 3 4 2 12 2 33 2 12 2 15 1 24 2 18 2 21 2 2 2 3 2 15 2 32 4 25 2 2 2 16 2 11 1 9 2 31 5 26 2 3 2 45 2 13 2 16 2 900"/><path d="M0 820V86" stroke="#482475" stroke-dasharray="0 76 2 20 1 66 1 15 4 1 2 15 1 19 1 46 2 21 2 27 2 11 2 56 2 1 2 18 2 67 2 11 2 12 2 103 2 13 2 2 3 900"/><path d="M0 820V86" stroke="#472f7d" stroke-dasharray="0 54 2 16 2 11 4 34 2 76 2 30 2 47 2 107 2 34 4 13 1 102 2 56 2 21 2 38 2 900"/><path d="M0 820V86" stroke="#443983" stroke-dasharray="0 60 1 48 1 58 2 34 2 49 2 147 2 97 2 169 1 900"/><path d="M0 820V86" stroke="#414487" stroke-dasharray="0 482 1 900"/><path d="M0 820V86" stroke="#3d4d8a" stroke-dasharray="0 63 2 900"/><path d="M0 820V86" stroke="#2a788e" stroke-dasharray="0 43 2 4 3 900"/><path d="M0 820V86" stroke="#23888e" stroke-dasharray="0 45 2 900"/><path d="M0 820V86" stroke="#1f988b" stroke-dasharray="0 47 2 900"/><path d="M0 820V86" stroke="#7ad151" stroke-dasharray="0 36 2 2 2 900"/><path d="M0 820V86" stroke="#fde725" stroke-dasharray="36 2 2 2 1 900"/></g>
<g transform="translate(578)" stroke-width="6"><path d="M0 820V86" stroke="#470d60" stroke-dasharray="0 52 2 9 2 5 2 8 1 24 2 5 2 7 2 4 1 9 2 11 2 14 2 8 1 11 2 4 1 11 2 29 2 9 2 3 2 18 2 9 2 2 2 1 2 4 2 5 2 16 2 31 2 3 2 11 2 36 2 18 2 40 1 26 1 4 2 9 2 76 2 20 3 22 2 29 2 3 4 14 2 2 2 7 2 5 2 2 2 1 2 2 4 900"/><path d="M0 820V86" stroke="#481a6c" stroke-dasharray="0 60 1 13 2 33 1 4 4 1 2 11 2 22 1 2 4 20 2 10 2 38 2 27 2 4 2 21 2 29 2 16 2 2 2 32 2 2 2 20 1 27 2 20 2 31 2 7 2 3 2 6 1 46 1 26 2 96 3 27 2 6 1 900"/><path d="M0 820V86" stroke="#482475" stroke-dasharray="0 61 2 9 2 11 4 88 2 67 2 11 2 14 2 36 2 2 2 12 2 6 1 38 2 29 2 2 2 25 2 3 4 36 2 45 2 36 2 2 4 9 1 22 4 47 2 11 1 29 2 900"/><path d="M0 820V86" stroke="#472f7d" stroke-dasharray="0 49 2 5 2 9 2 32 2 4 2 21 2 11 2 29 2 38 1 40 2 29 2 40 1 38 2 55 1 84 2 16 2 54 2 7 2 14 2 54 2 900"/><path d="M0 820V86" stroke="#443983" stroke-dasharray="0 65 2 125 2 25 4 141 2 900"/><path d="M0 820V86" stroke="#414487" stroke-dasharray="0 54 2 418 2 900"/><path d="M0 820V86" stroke="#3d4d8a" stroke-dasharray="0 43 2 194 2 224 2 900"/><path d="M0 820V86" stroke="#23888e" stroke-dasharray="0 51 1 900"/><path d="M0 820V86" stroke="#1f988b" stroke-dasharray="0 45 2 900"/><path d="M0 820V86" stroke="#22a884" stroke-dasharray="0 40 2 5 2 900"/><path d="M0 820V86" stroke="#35b779" stroke-dasharray="0 36 2 900"/><path d="M0 820V86" stroke="#7ad151" stroke-dasharray="0 42 1 900"/><path d="M0 820V86" stroke="#d2e21b" stroke-dasharray="0 31 1 900"/><path d="M0 820V86" stroke="#fde725" stroke-dasharray="31 1 4 2 2 900"/></g>
<g transform="translate(583.5)" stroke-width="5"><path d="M0 820V86" stroke="#470d60" stroke-dasharray="0 56 2 23 2 9 2 24 3 9 2 7 2 49 2 12 2 58 2 24 1 24 2 5 2 7 4 2 2 14 2 38 2 14 2 18 4 43 2 14 2 2 2 42 1 20 2 53 1 20 2 13 2 1 2 13 2 31 1 6 2 9 1 900"/><path d="M0 820V86" stroke="#481a6c" stroke-dasharray="0 67 2 16 2 2 1 51 2 20 2 7 2 3 2 29 2 5 2 9 4 11 2 59 2 16 2 42 2 155 2 9 4 18 2 27 5 19 1 18 2 22 2 11 1 22 2 11 2 3 2 13 2 5 4 900"/><path d="M0 820V86" stroke="#482475" stroke-dasharray="0 58 2 1 2 49 4 12 2 15 2 45 2 27 5 22 2 9 2 30 2 4 2 40 1 35 2 7 2 1 2 7 4 25 2 6 1 31 2 11 2 36 4 3 2 45 2 16 2 44 2 18 1 57 1 900"/><path d="M0 820V86" stroke="#472f7d" stroke-dasharray="0 103 2 219 2 9 2 110 2 13 1 24 2 18 2 11 1 102 2 92 2 900"/><path d="M0 820V86" stroke="#443983" stroke-dasharray="0 52 2 42 2 228 2 54 2 194 1 57 1 78 2 900"/><path d="M0 820V86" stroke="#414487" stroke-dasharray="0 60 1 900"/><path d="M0 820V86" stroke="#355f8d" stroke-dasharray="0 43 2 900"/><path d="M0 820V86" stroke="#31688e" stroke-dasharray="0 49 2 900"/><path d="M0 820V86" stroke="#23888e" stroke-dasharray="0 45 4 2 1 900"/><path d="M0 820V86" stroke="#22a884" stroke-dasharray="0 40 2 900"/><path d="M0 820V86" stroke="#54c568" stroke-dasharray="0 36 2 900"/><path d="M0 820V86" stroke="#7ad151" stroke-dasharray="0 42 1 900"/><path d="M0 820V86" stroke="#fde725" stroke-dasharray="36 2 2 900"/></g>
<g transform="translate(589)" stroke-width="6"><path d="M0 820V86" stroke="#470d60" stroke-dasharray="0 60 1 17 2 10 2 9 2 15 1 17 1 4 2 45 4 7 2 2 1 8 2 18 1 2 2 33 2 14 2 11 1 37 2 27 3 11 2 4 1 11 2 2 4 18 1 17 2 38 1 2 4 34 4 11 2 1 4 34 2 60 2 9 3 6 2 3 2 4 2 9 3 22 2 3 4 900"/><path d="M0 820V86" stroke="#481a6c" stroke-dasharray="0 52 2 2 2 11 1 11 2 27 2 2 4 7 2 68 2 67 2 7 2 20 2 34 2 7 2 9 2 40 3 29 2 2 2 3 2 4 2 3 4 4 1 8 3 4 2 3 2 22 3 15 2 36 2 5 2 53 1 8 1 48 1 31 2 20 2 900"/><path d="M0 820V86" stroke="#482475" stroke-dasharray="0 54 2 2 2 1 2 9 2 145 2 5 2 54 2 22 2 16 2 38 2 52 2 24 1 64 2 10 2 4 2 18 2 14 2 31 1 17 2 7 2 25 2 36 2 22 1 4 2 900"/><path d="M0 820V86" stroke="#472f7d" stroke-dasharray="0 85 4 18 2 10 2 102 1 22 2 5 6 13 1 20 2 63 2 51 2 3 2 13 2 79 2 31 2 40 1 57 1 31 2 40 2 900"/><path d="M0 820V86" stroke="#443983" stroke-dasharray="0 63 2 18 2 4 1 62 2 157 2 78 2 63 2 116 2 45 2 3 2 900"/><path d="M0 820V86" stroke="#414487" stroke-dasharray="0 67 2 54 2 34 2 900"/><path d="M0 820V86" stroke="#3d4d8a" stroke-dasharray="0 65 2 322 2 900"/><path d="M0 820V86" stroke="#2a788e" stroke-dasharray="0 43 2 4 2 900"/><path d="M0 820V86" stroke="#1f988b" stroke-dasharray="0 40 2 9 1 900"/><path d="M0 820V86" stroke="#22a884" stroke-dasharray="0 45 2 900"/><path d="M0 820V86" stroke="#35b779" stroke-dasharray="0 47 2 900"/><path d="M0 820V86" stroke="#a5db36" stroke-dasharray="0 36 2 900"/><path d="M0 820V86" stroke="#fde725" stroke-dasharray="36 2 2 2 1 900"/></g>
<g transform="translate(594.5)" stroke-width="5"><path d="M0 820V86" stroke="#470d60" stroke-dasharray="0 56 2 11 1 86 1 2 2 33 1 19 1 26 2 29 1 13 2 7 2 9 2 23 2 6 1 8 1 11 2 5 2 11 2 11 2 41 4 27 2 4 1 18 6 13 1 8 1 9 2 24 2 3 2 18 2 2 2 65 2 5 2 7 2 2 2 7 2 21 2 25 2 900"/><path d="M0 820V86" stroke="#481a6c" stroke-dasharray="0 63 2 20 2 7 2 9 2 2 1 18 2 9 2 2 2 59 2 20 2 4 1 17 2 3 2 58 4 21 2 11 2 40 1 10 1 58 2 2 2 32 2 11 2 27 2 27 2 3 2 6 1 29 2 4 2 20 1 15 2 38 2 900"/><path d="M0 820V86" stroke="#482475" stroke-dasharray="0 58 2 29 1 37 1 19 1 15 2 3 2 38 2 42 1 55 2 16 2 105 1 46 2 18 1 100 2 11 2 47 1 19 1 900"/><path d="M0 820V86" stroke="#472f7d" stroke-dasharray="0 54 2 14 2 172 2 178 1 2 2 33 1 19 1 53 2 52 2 900"/><path d="M0 820V86" stroke="#443983" stroke-dasharray="0 181 2 20 1 89 2 150 2 2 2 900"/><path d="M0 820V86" stroke="#414487" stroke-dasharray="0 722 2 900"/><path d="M0 820V86" stroke="#3d4d8a" stroke-dasharray="0 49 2 1 2 900"/><path d="M0 820V86" stroke="#2a788e" stroke-dasharray="0 43 2 6 1 900"/><path d="M0 820V86" stroke="#23888e" stroke-dasharray="0 45 2 900"/><path d="M0 820V86" stroke="#1f988b" stroke-dasharray="0 36 2 9 2 900"/><path d="M0 820V86" stroke="#54c568" stroke-dasharray="0 40 2 900"/><path d="M0 820V86" stroke="#d2e21b" stroke-dasharray="0 42 1 900"/><path d="M0 820V86" stroke="#fde725" stroke-dasharray="36 2 2 900"/></g>
<g transform="translate(599.5)" stroke-width="5"><path d="M0 820V86" stroke="#470d60" stroke-dasharray="0 60 1 9 2 6 2 5 2 11 1 4 2 18 2 36 2 22 3 7 2 18 2 15 1 4 2 9 2 16 2 18 2 5 2 7 2 16 2 6 1 8 2 10 2 6 1 38 2 17 1 17 1 10 1 8 1 42 2 40 2 14 4 1 2 44 2 9 1 4 2 16 2 20 2 5 2 2 2 3 2 14 2 2 4 29 1 900"/><path d="M0 820V86" stroke="#481a6c" stroke-dasharray="0 69 1 100 2 4 1 113 1 9 2 9 2 13 2 88 2 60 2 11 3 17 1 9 2 2 2 5 2 58 2 7 2 23 2 38 2 58 2 900"/><path d="M0 820V86" stroke="#482475" stroke-dasharray="0 65 2 5 2 6 1 15 2 49 1 56 2 4 2 56 4 45 3 55 2 72 2 11 1 55 2 16 2 12 2 29 2 20 2 47 2 900"/><path d="M0 820V86" stroke="#472f7d" stroke-dasharray="0 52 2 53 2 222 2 54 2 125 2 27 2 42 1 29 2 900"/><path d="M0 820V86" stroke="#443983" stroke-dasharray="0 54 2 5 2 78 2 85 2 168 2 281 2 29 1 900"/><path d="M0 820V86" stroke="#414487" stroke-dasharray="0 49 2 188 2 900"/><path d="M0 820V86" stroke="#355f8d" stroke-dasharray="0 43 2 900"/><path d="M0 820V86" stroke="#2a788e" stroke-dasharray="0 47 2 900"/><path d="M0 820V86" stroke="#1f988b" stroke-dasharray="0 45 2 4 1 900"/><path d="M0 820V86" stroke="#22a884" stroke-dasharray="0 40 2 900"/><path d="M0 820V86" stroke="#d2e21b" stroke-dasharray="0 34 2 900"/><path d="M0 820V86" stroke="#fde725" stroke-dasharray="34 2 4 2 1 900"/></g>
<g transform="translate(605)" stroke-width="6"><path d="M0 820V86" stroke="#470d60" stroke-dasharray="0 52 2 2 2 11 5 11 2 2 1 2 4 40 1 44 2 5 2 4 1 2 2 2 2 16 2 41 2 4 2 18 2 41 2 6 1 18 4 11 2 3 2 13 2 25 2 36 2 51 1 31 2 22 2 10 2 16 4 6 1 18 2 15 2 5 2 11 3 9 2 2 2 22 1 900"/><path d="M0 820V86" stroke="#481a6c" stroke-dasharray="0 58 2 1 4 11 2 2 1 20 2 63 2 11 2 4 1 87 2 20 2 3 4 31 2 18 2 10 2 27 2 6 2 28 2 8 1 24 2 11 1 9 2 13 2 18 2 29 3 29 2 22 2 81 2 16 4 5 2 900"/><path d="M0 820V86" stroke="#482475" stroke-dasharray="0 60 1 57 3 20 2 4 1 2 2 96 4 70 2 53 1 13 2 32 2 74 2 22 2 90 2 80 2 27 2 900"/><path d="M0 820V86" stroke="#472f7d" stroke-dasharray="0 74 2 47 2 2 1 124 1 40 2 337 2 3 2 900"/><path d="M0 820V86" stroke="#443983" stroke-dasharray="0 529 1 900"/><path d="M0 820V86" stroke="#414487" stroke-dasharray="0 54 2 273 2 900"/><path d="M0 820V86" stroke="#355f8d" stroke-dasharray="0 43 2 900"/><path d="M0 820V86" stroke="#31688e" stroke-dasharray="0 49 2 900"/><path d="M0 820V86" stroke="#23888e" stroke-dasharray="0 47 2 900"/><path d="M0 820V86" stroke="#1f988b" stroke-dasharray="0 45 2 900"/><path d="M0 820V86" stroke="#22a884" stroke-dasharray="0 36 2 13 1 900"/><path d="M0 820V86" stroke="#35b779" stroke-dasharray="0 40 2 900"/><path d="M0 820V86" stroke="#d2e21b" stroke-dasharray="0 38 2 2 1 900"/><path d="M0 820V86" stroke="#fde725" stroke-dasharray="36 900"/></g>
<g transform="translate(610.5)" stroke-width="5"><path d="M0 820V86" stroke="#470d60" stroke-dasharray="0 34 2 2 2 3 4 9 2 11 1 2 2 2 2 5 2 9 2 2 3 82 2 16 2 5 2 33 1 62 2 12 2 9 2 13 2 23 2 5 2 4 2 1 2 9 2 4 2 30 2 6 1 9 2 7 2 27 2 24 2 1 2 11 2 9 2 29 2 10 2 20 2 24 1 2 2 5 2 22 2 7 2 7 2 9 2 3 2 900"/><path d="M0 820V86" stroke="#481a6c" stroke-dasharray="0 31 1 4 2 13 1 67 2 7 2 13 2 9 2 1 2 26 1 2 2 4 1 46 2 29 1 4 2 2 1 4 2 7 2 31 1 4 2 72 2 36 2 20 2 14 2 26 1 13 2 42 3 24 1 57 1 29 2 11 2 900"/><path d="M0 820V86" stroke="#482475" stroke-dasharray="0 29 2 29 1 53 4 45 2 52 2 42 1 8 2 16 2 9 1 4 2 4 1 38 2 38 2 40 2 20 1 4 2 9 2 9 2 30 2 15 1 6 2 40 1 4 2 38 2 1 2 4 2 21 2 73 1 900"/><path d="M0 820V86" stroke="#472f7d" stroke-dasharray="0 27 2 130 2 9 2 2 2 79 2 65 2 284 2 107 2 2 1 900"/><path d="M0 820V86" stroke="#443983" stroke-dasharray="0 42 1 11 2 139 2 346 2 9 2 7 2 900"/><path d="M0 820V86" stroke="#3d4d8a" stroke-dasharray="0 147 1 343 1 149 2 900"/><path d="M0 820V86" stroke="#39568c" stroke-dasharray="0 121 2 900"/><path d="M0 820V86" stroke="#2a788e" stroke-dasharray="0 16 4 5 2 900"/><path d="M0 820V86" stroke="#23888e" stroke-dasharray="2 18 3 900"/><path d="M0 820V86" stroke="#1f988b" stroke-dasharray="0 2 1 900"/><path d="M0 820V86" stroke="#22a884" stroke-dasharray="0 14 2 900"/><path d="M0 820V86" stroke="#7ad151" stroke-dasharray="0 23 2 900"/><path d="M0 820V86" stroke="#fde725" stroke-dasharray="0 3 11 900"/></g>
<g transform="translate(616)" stroke-width="6"><path d="M0 820V86" stroke="#470d60" stroke-dasharray="0 67 2 16 2 7 2 14 2 13 2 16 2 29 5 53 1 33 2 13 1 18 2 44 2 7 3 11 2 67 2 7 2 5 2 6 3 27 2 4 2 23 2 54 2 6 1 9 2 2 2 7 2 9 2 2 1 8 2 5 2 12 6 13 1 33 2 900"/><path d="M0 820V86" stroke="#481a6c" stroke-dasharray="0 54 6 10 2 11 2 2 2 7 2 7 2 5 2 13 3 22 2 36 2 7 2 5 2 165 2 36 2 18 2 20 1 31 4 14 2 15 3 4 2 30 2 9 4 45 2 62 1 8 1 900"/><path d="M0 820V86" stroke="#482475" stroke-dasharray="0 65 2 2 1 4 2 14 2 26 1 15 2 29 1 53 2 31 1 31 2 24 1 15 2 3 2 60 2 5 2 18 2 56 2 25 2 11 2 10 2 46 1 4 2 31 1 11 2 900"/><path d="M0 820V86" stroke="#472f7d" stroke-dasharray="0 63 2 44 1 27 2 49 2 228 2 71 1 17 2 50 2 22 2 21 2 13 2 21 2 62 2 900"/><path d="M0 820V86" stroke="#443983" stroke-dasharray="0 319 1 373 2 900"/><path d="M0 820V86" stroke="#414487" stroke-dasharray="0 52 2 62 2 900"/><path d="M0 820V86" stroke="#39568c" stroke-dasharray="0 49 2 900"/><path d="M0 820V86" stroke="#2a788e" stroke-dasharray="0 43 2 900"/><path d="M0 820V86" stroke="#23888e" stroke-dasharray="0 45 2 900"/><path d="M0 820V86" stroke="#1f988b" stroke-dasharray="0 51 1 900"/><path d="M0 820V86" stroke="#22a884" stroke-dasharray="0 47 2 900"/><path d="M0 820V86" stroke="#54c568" stroke-dasharray="0 40 2 900"/><path d="M0 820V86" stroke="#fde725" stroke-dasharray="40 2 1 900"/></g>
<g transform="translate(621.5)" stroke-width="5"><path d="M0 820V86" stroke="#470d60" stroke-dasharray="0 58 2 14 2 27 2 9 2 3 2 24 2 19 2 24 2 30 2 22 2 36 2 2 3 38 2 33 1 10 3 13 5 9 2 13 2 61 2 4 1 6 3 39 1 38 2 26 1 44 3 900"/><path d="M0 820V86" stroke="#481a6c" stroke-dasharray="0 56 2 5 2 24 1 2 2 15 1 20 2 29 2 14 2 15 1 20 2 6 1 55 2 34 2 11 1 20 4 22 2 32 2 5 2 9 2 7 2 42 2 10 2 38 2 20 2 40 1 2 2 15 1 8 3 11 2 16 2 25 2 7 2 4 2 900"/><path d="M0 820V86" stroke="#482475" stroke-dasharray="0 65 4 43 2 43 2 17 1 118 2 67 2 18 2 79 2 9 4 32 2 36 2 18 2 4 2 19 2 13 2 32 2 26 1 6 3 13 2 18 2 900"/><path d="M0 820V86" stroke="#472f7d" stroke-dasharray="0 61 2 38 2 18 2 29 2 52 2 226 2 4 2 87 1 15 2 14 2 96 2 45 2 900"/><path d="M0 820V86" stroke="#443983" stroke-dasharray="0 49 2 21 2 900"/><path d="M0 820V86" stroke="#414487" stroke-dasharray="0 85 2 900"/><path d="M0 820V86" stroke="#3d4d8a" stroke-dasharray="0 43 2 900"/><path d="M0 820V86" stroke="#31688e" stroke-dasharray="0 47 2 900"/><path d="M0 820V86" stroke="#2a788e" stroke-dasharray="0 40 2 9 1 900"/><path d="M0 820V86" stroke="#23888e" stroke-dasharray="0 45 2 900"/><path d="M0 820V86" stroke="#7ad151" stroke-dasharray="0 36 2 900"/><path d="M0 820V86" stroke="#d2e21b" stroke-dasharray="0 38 2 2 1 900"/><path d="M0 820V86" stroke="#fde725" stroke-dasharray="36 900"/></g>
<g transform="translate(626.5)" stroke-width="5"><path d="M0 820V86" stroke="#470d60" stroke-dasharray="0 81 2 6 1 11 2 22 2 65 2 14 2 29 2 12 2 26 1 20 2 42 2 27 3 9 2 9 2 22 2 36 2 3 2 9 2 5 2 26 3 15 1 10 1 2 2 43 2 20 2 11 2 5 2 9 2 14 2 5 2 22 2 14 2 13 2 900"/><path d="M0 820V86" stroke="#481a6c" stroke-dasharray="0 67 2 5 4 9 2 1 2 18 2 53 1 20 2 13 5 6 2 1 2 24 2 5 2 2 1 38 2 89 2 25 6 3 2 9 2 78 2 3 2 25 2 2 2 14 2 2 2 36 2 3 2 6 1 35 2 30 2 13 4 7 2 900"/><path d="M0 820V86" stroke="#482475" stroke-dasharray="0 52 2 11 2 13 1 15 2 1 2 8 1 49 2 13 2 1 2 56 2 13 2 12 2 31 2 7 2 54 2 14 2 11 2 61 4 63 2 44 2 10 2 6 1 66 1 42 2 16 2 900"/><path d="M0 820V86" stroke="#472f7d" stroke-dasharray="0 54 2 2 2 23 2 161 2 71 1 4 2 190 2 31 1 28 1 42 2 2 1 20 2 900"/><path d="M0 820V86" stroke="#443983" stroke-dasharray="0 61 2 6 3 111 2 164 2 330 2 900"/><path d="M0 820V86" stroke="#414487" stroke-dasharray="0 471 2 9 1 900"/><path d="M0 820V86" stroke="#39568c" stroke-dasharray="0 49 2 900"/><path d="M0 820V86" stroke="#31688e" stroke-dasharray="0 43 2 900"/><path d="M0 820V86" stroke="#2a788e" stroke-dasharray="0 51 1 900"/><path d="M0 820V86" stroke="#23888e" stroke-dasharray="0 45 2 900"/><path d="M0 820V86" stroke="#1f988b" stroke-dasharray="0 47 2 900"/><path d="M0 820V86" stroke="#7ad151" stroke-dasharray="0 36 2 900"/><path d="M0 820V86" stroke="#a5db36" stroke-dasharray="0 42 1 900"/><path d="M0 820V86" stroke="#d2e21b" stroke-dasharray="0 38 4 900"/><path d="M0 820V86" stroke="#fde725" stroke-dasharray="36 900"/></g>
<g transform="translate(632)" stroke-width="6"><path d="M0 820V86" stroke="#470d60" stroke-dasharray="0 76 2 9 2 63 2 2 1 28 1 37 1 29 2 15 2 9 3 71 2 7 2 5 2 34 4 38 2 14 2 15 1 35 2 3 6 7 2 25 2 2 2 3 2 13 1 6 3 19 1 4 2 14 2 11 2 76 2 900"/><path d="M0 820V86" stroke="#481a6c" stroke-dasharray="0 52 2 9 2 7 4 20 2 7 2 3 2 2 2 18 2 29 1 11 2 20 2 2 1 24 2 13 1 18 4 33 1 19 1 17 3 22 2 9 2 7 2 40 1 6 2 3 4 2 3 15 2 50 2 18 2 9 2 31 2 29 1 35 2 3 2 2 2 9 1 2 2 2 2 14 2 18 2 4 1 900"/><path d="M0 820V86" stroke="#482475" stroke-dasharray="0 69 1 15 2 2 1 51 2 72 2 4 2 27 2 34 2 7 2 7 2 22 1 69 2 80 2 10 2 6 1 46 2 85 2 10 2 82 1 900"/><path d="M0 820V86" stroke="#472f7d" stroke-dasharray="0 70 2 67 2 7 2 11 2 32 4 31 2 134 1 58 2 6 1 60 2 13 2 23 2 65 2 71 1 900"/><path d="M0 820V86" stroke="#443983" stroke-dasharray="0 58 2 7 2 14 2 152 2 281 1 53 2 900"/><path d="M0 820V86" stroke="#414487" stroke-dasharray="0 322 2 65 2 900"/><path d="M0 820V86" stroke="#3d4d8a" stroke-dasharray="0 43 2 4 2 900"/><path d="M0 820V86" stroke="#31688e" stroke-dasharray="0 47 2 900"/><path d="M0 820V86" stroke="#23888e" stroke-dasharray="0 45 2 4 1 900"/><path d="M0 820V86" stroke="#22a884" stroke-dasharray="0 36 2 2 2 900"/><path d="M0 820V86" stroke="#a5db36" stroke-dasharray="0 42 1 900"/><path d="M0 820V86" stroke="#fde725" stroke-dasharray="36 2 2 900"/></g>
<g transform="translate(637.5)" stroke-width="5"><path d="M0 820V86" stroke="#470d60" stroke-dasharray="0 52 2 20 2 13 1 2 2 11 2 3 2 6 1 4 2 16 4 21 2 51 2 29 2 1 2 7 4 13 2 25 2 12 2 2 2 3 2 6 2 12 4 20 5 7 2 29 2 34 2 26 3 18 2 7 2 15 3 20 2 33 1 26 2 14 2 11 2 16 2 12 2 49 2 3 2 900"/><path d="M0 820V86" stroke="#481a6c" stroke-dasharray="0 58 2 39 4 16 2 11 2 3 2 40 2 31 2 10 2 13 2 7 2 18 2 5 2 9 2 14 2 22 2 36 2 32 2 25 2 26 1 22 2 23 2 6 2 16 2 18 2 25 2 2 1 28 1 31 2 13 1 19 1 4 2 29 2 18 1 900"/><path d="M0 820V86" stroke="#482475" stroke-dasharray="0 60 1 8 1 13 2 2 2 7 3 4 2 25 2 13 2 5 2 22 1 6 2 1 2 42 2 3 2 24 1 37 1 40 2 53 3 89 2 16 2 4 1 71 2 78 1 44 2 900"/><path d="M0 820V86" stroke="#472f7d" stroke-dasharray="0 56 2 92 2 65 2 38 2 72 2 33 1 33 4 58 1 35 2 116 1 19 1 85 2 900"/><path d="M0 820V86" stroke="#443983" stroke-dasharray="0 61 2 100 2 280 2 270 2 9 2 900"/><path d="M0 820V86" stroke="#414487" stroke-dasharray="0 203 1 118 2 324 2 900"/><path d="M0 820V86" stroke="#3d4d8a" stroke-dasharray="0 43 2 900"/><path d="M0 820V86" stroke="#39568c" stroke-dasharray="0 49 2 900"/><path d="M0 820V86" stroke="#355f8d" stroke-dasharray="0 51 1 900"/><path d="M0 820V86" stroke="#2a788e" stroke-dasharray="0 47 2 900"/><path d="M0 820V86" stroke="#1f988b" stroke-dasharray="0 45 2 900"/><path d="M0 820V86" stroke="#22a884" stroke-dasharray="0 40 2 900"/><path d="M0 820V86" stroke="#54c568" stroke-dasharray="0 34 2 900"/><path d="M0 820V86" stroke="#a5db36" stroke-dasharray="0 29 2 7 2 2 1 900"/><path d="M0 820V86" stroke="#d2e21b" stroke-dasharray="0 31 1 4 2 900"/><path d="M0 820V86" stroke="#fde725" stroke-dasharray="29 3 2 900"/></g>
<g transform="translate(643)" stroke-width="6"><path d="M0 820V86" stroke="#470d60" stroke-dasharray="0 56 2 31 1 6 2 5 2 52 2 2 2 11 2 9 3 20 2 7 2 56 4 23 2 13 2 21 2 15 1 4 2 16 2 7 2 7 4 16 2 20 4 7 2 5 2 3 2 8 1 6 2 7 2 10 2 66 1 9 4 16 2 2 2 11 1 9 2 29 2 7 2 16 2 20 2 11 2 900"/><path d="M0 820V86" stroke="#481a6c" stroke-dasharray="0 58 3 9 2 42 2 3 2 15 1 10 1 15 2 25 2 14 2 4 2 23 2 4 1 2 2 2 2 12 2 33 1 10 1 95 1 13 2 3 2 26 1 22 2 13 1 6 2 18 2 5 2 31 1 15 2 36 2 41 2 31 2 3 2 18 2 900"/><path d="M0 820V86" stroke="#482475" stroke-dasharray="0 43 2 6 1 33 2 14 2 40 2 20 1 15 2 16 2 14 2 6 1 6 2 20 1 38 2 27 2 22 2 14 2 67 2 5 2 18 2 9 2 52 2 17 1 6 2 10 2 22 2 9 2 1 2 37 1 4 2 25 2 4 1 46 1 2 2 900"/><path d="M0 820V86" stroke="#472f7d" stroke-dasharray="0 148 2 18 2 96 2 54 2 42 1 2 2 13 2 74 2 20 1 28 1 55 2 61 2 40 2 29 3 900"/><path d="M0 820V86" stroke="#443983" stroke-dasharray="0 188 2 118 2 336 2 900"/><path d="M0 820V86" stroke="#414487" stroke-dasharray="0 315 2 29 2 244 2 900"/><path d="M0 820V86" stroke="#39568c" stroke-dasharray="0 47 2 900"/><path d="M0 820V86" stroke="#31688e" stroke-dasharray="0 45 2 900"/><path d="M0 820V86" stroke="#2a788e" stroke-dasharray="0 40 2 900"/><path d="M0 820V86" stroke="#35b779" stroke-dasharray="0 38 2 900"/><path d="M0 820V86" stroke="#7ad151" stroke-dasharray="0 34 2 900"/><path d="M0 820V86" stroke="#a5db36" stroke-dasharray="0 32 2 2 2 900"/><path d="M0 820V86" stroke="#d2e21b" stroke-dasharray="0 27 2 2 1 10 1 900"/><path d="M0 820V86" stroke="#fde725" stroke-dasharray="27 2 2 900"/></g>
<g transform="translate(648.5)" stroke-width="5"><path d="M0 820V86" stroke="#470d60" stroke-dasharray="0 67 2 5 2 2 2 9 1 6 2 14 2 38 2 11 1 8 2 25 2 1 2 24 2 21 2 53 2 7 2 7 2 11 3 16 4 2 2 7 2 27 4 9 1 38 2 9 2 6 1 9 2 2 2 29 2 36 2 3 4 9 2 12 2 22 2 7 2 11 2 5 2 2 3 36 2 40 2 900"/><path d="M0 820V86" stroke="#481a6c" stroke-dasharray="0 61 2 24 2 14 2 29 2 32 2 7 2 44 3 7 2 2 2 5 2 4 2 25 2 12 2 56 2 24 2 12 2 5 2 11 2 13 1 26 2 10 2 27 2 2 2 3 2 4 2 2 1 4 2 9 2 18 2 10 2 15 2 27 2 23 4 5 2 33 1 37 1 900"/><path d="M0 820V86" stroke="#482475" stroke-dasharray="0 110 2 2 2 21 2 64 1 6 2 14 2 47 2 9 2 16 2 27 2 2 2 3 2 9 2 2 1 35 2 141 4 1 2 2 2 25 2 16 2 5 2 51 2 49 2 12 2 13 1 900"/><path d="M0 820V86" stroke="#472f7d" stroke-dasharray="0 52 2 9 4 2 1 2 2 112 2 7 2 93 1 55 2 47 1 15 4 16 2 20 1 89 2 22 2 90 2 27 2 2 1 4 2 22 1 900"/><path d="M0 820V86" stroke="#443983" stroke-dasharray="0 60 1 9 2 29 2 143 2 199 2 143 2 22 1 53 2 7 2 900"/><path d="M0 820V86" stroke="#414487" stroke-dasharray="0 49 2 900"/><path d="M0 820V86" stroke="#39568c" stroke-dasharray="0 43 2 900"/><path d="M0 820V86" stroke="#22a884" stroke-dasharray="0 45 2 4 1 900"/><path d="M0 820V86" stroke="#35b779" stroke-dasharray="0 36 2 2 2 5 2 900"/><path d="M0 820V86" stroke="#d2e21b" stroke-dasharray="0 42 1 900"/><path d="M0 820V86" stroke="#fde725" stroke-dasharray="36 2 2 900"/></g>
<g transform="translate(653.5)" stroke-width="5"><path d="M0 820V86" stroke="#470d60" stroke-dasharray="0 65 4 36 2 11 1 8 1 17 2 23 2 7 4 2 1 11 2 18 2 9 2 23 2 2 2 13 1 2 2 2 2 1 2 36 2 2 2 14 2 24 1 22 4 7 4 9 2 27 2 12 2 2 2 34 2 18 2 9 3 22 2 33 1 38 2 36 2 17 1 8 1 2 2 6 1 2 2 11 2 900"/><path d="M0 820V86" stroke="#481a6c" stroke-dasharray="0 54 2 13 1 2 2 69 2 3 2 11 2 23 2 4 3 31 2 2 2 1 2 4 2 3 4 25 2 27 2 22 3 4 2 13 1 4 2 2 1 6 2 1 4 22 2 14 4 52 2 9 2 13 1 8 1 2 2 7 2 4 2 5 2 31 1 24 2 29 2 7 2 9 2 18 3 27 2 13 4 1 2 900"/><path d="M0 820V86" stroke="#482475" stroke-dasharray="0 89 1 17 2 21 2 74 2 47 2 62 1 57 1 9 2 15 2 32 2 34 2 6 1 66 1 9 2 44 2 25 2 3 2 4 2 7 2 18 2 900"/><path d="M0 820V86" stroke="#472f7d" stroke-dasharray="0 49 2 1 2 16 2 6 2 52 2 29 2 72 2 103 2 145 2 10 2 78 2 38 2 2 1 86 1 15 2 3 1 900"/><path d="M0 820V86" stroke="#443983" stroke-dasharray="0 85 2 223 1 44 2 128 2 170 2 29 2 23 2 900"/><path d="M0 820V86" stroke="#414487" stroke-dasharray="0 125 2 20 1 62 2 900"/><path d="M0 820V86" stroke="#3d4d8a" stroke-dasharray="0 514 2 96 2 900"/><path d="M0 820V86" stroke="#31688e" stroke-dasharray="0 43 4 900"/><path d="M0 820V86" stroke="#23888e" stroke-dasharray="0 51 1 900"/><path d="M0 820V86" stroke="#22a884" stroke-dasharray="0 47 2 900"/><path d="M0 820V86" stroke="#35b779" stroke-dasharray="0 40 2 900"/><path d="M0 820V86" stroke="#54c568" stroke-dasharray="0 42 1 900"/><path d="M0 820V86" stroke="#fde725" stroke-dasharray="40 900"/></g>
<g transform="translate(659)" stroke-width="6"><path d="M0 820V86" stroke="#470d60" stroke-dasharray="0 61 2 46 1 2 2 9 2 7 2 20 2 5 2 3 2 27 2 7 2 2 2 7 2 20 2 2 1 4 4 32 2 9 2 45 2 5 2 7 2 11 2 43 2 16 2 2 2 14 2 18 2 2 2 2 1 9 2 26 1 2 2 20 2 5 2 5 2 18 4 20 4 7 2 16 2 2 1 13 2 22 1 2 2 51 3 900"/><path d="M0 820V86" stroke="#481a6c" stroke-dasharray="0 60 1 2 2 9 4 2 1 13 2 7 2 2 2 5 2 5 2 13 1 10 1 2 2 24 1 9 2 18 2 13 2 32 2 11 2 2 1 9 2 6 1 17 3 20 2 11 2 11 1 24 2 12 2 17 1 31 2 2 2 9 1 24 2 11 1 29 2 29 2 2 2 34 2 14 2 2 2 3 2 20 2 49 2 11 1 900"/><path d="M0 820V86" stroke="#482475" stroke-dasharray="0 70 2 6 2 3 2 16 2 49 2 3 2 31 2 18 4 23 2 18 2 63 4 40 1 51 2 24 1 20 2 13 2 27 2 25 2 195 1 900"/><path d="M0 820V86" stroke="#472f7d" stroke-dasharray="0 49 2 1 2 51 2 85 2 197 2 31 1 31 2 74 2 73 1 116 2 900"/><path d="M0 820V86" stroke="#443983" stroke-dasharray="0 65 2 237 2 29 2 262 2 102 1 900"/><path d="M0 820V86" stroke="#414487" stroke-dasharray="0 56 2 900"/><path d="M0 820V86" stroke="#2a788e" stroke-dasharray="0 45 2 900"/><path d="M0 820V86" stroke="#23888e" stroke-dasharray="0 43 2 2 2 900"/><path d="M0 820V86" stroke="#1f988b" stroke-dasharray="0 51 1 900"/><path d="M0 820V86" stroke="#35b779" stroke-dasharray="0 40 2 900"/><path d="M0 820V86" stroke="#54c568" stroke-dasharray="0 36 2 900"/><path d="M0 820V86" stroke="#a5db36" stroke-dasharray="0 38 2 2 1 900"/><path d="M0 820V86" stroke="#fde725" stroke-dasharray="36 900"/></g>
<g transform="translate(664.5)" stroke-width="5"><path d="M0 820V86" stroke="#470d60" stroke-dasharray="0 49 2 21 2 6 1 17 1 4 2 7 2 4 1 9 2 15 3 4 2 12 2 35 1 31 2 4 7 16 2 7 2 20 2 32 2 6 3 4 2 11 1 26 2 7 2 12 2 24 1 2 2 13 2 3 2 7 2 7 2 15 1 6 3 6 2 3 2 7 2 2 2 40 2 27 1 35 2 20 1 4 2 25 2 18 2 16 2 7 1 900"/><path d="M0 820V86" stroke="#481a6c" stroke-dasharray="0 74 2 13 1 35 2 14 2 7 2 33 1 6 2 10 2 56 2 17 1 2 4 32 2 9 2 15 1 2 2 5 2 40 2 18 2 22 1 18 2 36 2 2 2 2 2 19 2 17 1 22 2 7 6 25 4 10 2 2 2 25 2 33 1 11 2 900"/><path d="M0 820V86" stroke="#482475" stroke-dasharray="0 43 2 15 1 145 2 7 2 22 2 83 2 78 2 72 2 76 2 21 2 71 2 41 2 4 2 900"/><path d="M0 820V86" stroke="#472f7d" stroke-dasharray="0 56 4 18 2 1 2 7 2 13 4 121 2 45 2 49 1 33 2 83 2 33 1 104 1 29 2 26 1 2 2 58 2 18 2 900"/><path d="M0 820V86" stroke="#443983" stroke-dasharray="0 61 2 6 1 6 2 56 2 36 2 85 2 39 2 94 2 105 2 174 2 900"/><path d="M0 820V86" stroke="#414487" stroke-dasharray="0 45 2 900"/><path d="M0 820V86" stroke="#3d4d8a" stroke-dasharray="0 52 2 900"/><path d="M0 820V86" stroke="#39568c" stroke-dasharray="0 51 1 536 2 900"/><path d="M0 820V86" stroke="#2a788e" stroke-dasharray="0 47 2 900"/><path d="M0 820V86" stroke="#23888e" stroke-dasharray="0 40 2 900"/><path d="M0 820V86" stroke="#35b779" stroke-dasharray="0 42 1 900"/><path d="M0 820V86" stroke="#7ad151" stroke-dasharray="0 31 1 2 2 900"/><path d="M0 820V86" stroke="#a5db36" stroke-dasharray="0 36 4 900"/><path d="M0 820V86" stroke="#fde725" stroke-dasharray="31 1 2 900"/></g>
<g transform="translate(670)" stroke-width="6"><path d="M0 820V86" stroke="#470d60" stroke-dasharray="0 56 2 5 2 34 2 42 2 16 2 7 2 20 2 16 2 3 2 18 4 25 4 14 2 11 2 5 2 6 1 4 2 7 2 2 1 24 2 11 1 17 3 11 4 43 2 7 4 5 2 8 1 18 2 15 3 4 2 3 2 2 2 14 2 20 2 7 2 2 2 5 2 7 2 2 1 11 2 4 2 1 2 15 2 18 1 33 2 5 2 4 2 19 2 9 1 900"/><path d="M0 820V86" stroke="#481a6c" stroke-dasharray="0 72 6 31 1 13 2 22 1 26 2 41 2 2 2 27 2 21 2 11 2 51 1 8 3 29 2 5 2 35 5 36 2 2 2 12 2 16 2 4 2 5 2 20 2 16 4 30 4 2 2 27 2 7 2 11 1 28 1 15 2 1 2 18 2 900"/><path d="M0 820V86" stroke="#482475" stroke-dasharray="0 52 2 24 2 30 4 31 2 5 2 11 1 17 2 9 1 4 9 40 2 2 1 4 2 11 2 9 1 2 2 4 5 11 2 56 2 49 1 24 2 56 2 5 2 23 2 17 1 49 2 4 3 2 2 9 2 900"/><path d="M0 820V86" stroke="#472f7d" stroke-dasharray="0 49 2 10 2 6 1 11 2 6 1 4 2 9 2 27 2 1 2 75 1 84 1 58 2 7 2 42 2 21 2 60 2 36 2 34 2 2 2 27 2 45 2 900"/><path d="M0 820V86" stroke="#443983" stroke-dasharray="0 232 1 44 2 61 2 51 2 11 3 38 4 38 2 3 2 159 2 900"/><path d="M0 820V86" stroke="#414487" stroke-dasharray="0 45 2 36 2 87 2 246 2 65 2 241 1 900"/><path d="M0 820V86" stroke="#3d4d8a" stroke-dasharray="0 43 2 58 2 9 2 900"/><path d="M0 820V86" stroke="#39568c" stroke-dasharray="0 47 2 2 1 321 2 900"/><path d="M0 820V86" stroke="#1f988b" stroke-dasharray="0 40 2 900"/><path d="M0 820V86" stroke="#35b779" stroke-dasharray="0 38 2 900"/><path d="M0 820V86" stroke="#54c568" stroke-dasharray="0 42 1 900"/><path d="M0 820V86" stroke="#7ad151" stroke-dasharray="0 34 4 900"/><path d="M0 820V86" stroke="#a5db36" stroke-dasharray="0 31 1 900"/><path d="M0 820V86" stroke="#fde725" stroke-dasharray="31 1 2 900"/></g>
<g transform="translate(675.5)" stroke-width="5"><path d="M0 820V86" stroke="#470d60" stroke-dasharray="0 56 2 2 1 9 2 6 2 9 1 31 2 4 1 13 2 23 2 4 2 7 4 5 4 10 2 20 2 9 2 4 1 4 2 2 1 6 2 29 1 19 1 4 2 18 2 67 2 16 2 1 2 7 2 31 2 9 2 7 2 12 2 17 1 6 3 4 2 7 2 14 2 2 2 9 2 25 2 33 3 49 2 14 2 18 2 5 2 900"/><path d="M0 820V86" stroke="#481a6c" stroke-dasharray="0 49 2 1 2 13 2 12 2 4 2 5 2 22 1 4 2 11 1 19 3 4 2 12 2 16 2 4 2 11 1 8 1 8 1 60 2 38 2 23 2 15 2 19 2 22 2 16 2 9 2 5 2 13 5 16 4 29 2 25 2 18 2 13 3 73 1 11 2 22 2 9 2 3 4 900"/><path d="M0 820V86" stroke="#482475" stroke-dasharray="0 65 2 5 2 25 2 33 2 25 2 52 2 27 2 7 2 42 2 9 2 9 1 17 2 5 2 2 1 6 2 50 2 33 2 36 2 85 2 28 2 65 2 15 2 20 1 9 2 6 1 4 2 900"/><path d="M0 820V86" stroke="#472f7d" stroke-dasharray="0 43 2 9 2 177 2 53 2 1 2 9 2 35 1 29 2 7 4 31 2 193 2 13 2 14 2 2 2 14 2 900"/><path d="M0 820V86" stroke="#443983" stroke-dasharray="0 125 2 41 2 203 2 183 1 900"/><path d="M0 820V86" stroke="#414487" stroke-dasharray="0 460 2 900"/><path d="M0 820V86" stroke="#355f8d" stroke-dasharray="0 51 1 900"/><path d="M0 820V86" stroke="#31688e" stroke-dasharray="0 45 2 900"/><path d="M0 820V86" stroke="#2a788e" stroke-dasharray="0 40 2 5 2 900"/><path d="M0 820V86" stroke="#54c568" stroke-dasharray="0 34 4 900"/><path d="M0 820V86" stroke="#7ad151" stroke-dasharray="0 38 2 900"/><path d="M0 820V86" stroke="#a5db36" stroke-dasharray="0 42 1 900"/><path d="M0 820V86" stroke="#d2e21b" stroke-dasharray="0 31 3 900"/><path d="M0 820V86" stroke="#fde725" stroke-dasharray="31 900"/></g>
<g transform="translate(680.5)" stroke-width="5"><path d="M0 820V86" stroke="#470d60" stroke-dasharray="0 69 1 4 2 16 2 5 2 31 2 25 2 15 1 6 2 52 2 5 2 31 2 38 2 30 2 4 2 21 2 7 4 45 2 22 2 65 2 9 2 9 1 9 2 6 2 1 4 7 2 13 1 17 2 7 2 20 1 18 2 46 1 9 2 900"/><path d="M0 820V86" stroke="#481a6c" stroke-dasharray="0 58 2 61 2 76 2 23 2 13 2 7 2 5 2 18 2 13 1 13 2 5 2 83 2 2 2 29 2 7 2 9 2 20 1 17 1 58 2 38 2 36 2 49 2 2 1 19 1 2 2 18 2 900"/><path d="M0 820V86" stroke="#482475" stroke-dasharray="0 52 2 18 2 2 2 3 2 31 2 18 2 1 2 17 1 28 1 160 2 21 2 22 3 19 1 49 2 76 2 101 2 7 2 36 2 900"/><path d="M0 820V86" stroke="#472f7d" stroke-dasharray="0 63 4 23 2 18 4 368 1 22 2 7 2 9 2 81 2 120 1 900"/><path d="M0 820V86" stroke="#443983" stroke-dasharray="0 49 2 172 1 4 2 900"/><path d="M0 820V86" stroke="#414487" stroke-dasharray="0 43 2 294 1 296 1 900"/><path d="M0 820V86" stroke="#355f8d" stroke-dasharray="0 47 2 900"/><path d="M0 820V86" stroke="#31688e" stroke-dasharray="0 36 2 13 1 900"/><path d="M0 820V86" stroke="#1f988b" stroke-dasharray="0 45 2 900"/><path d="M0 820V86" stroke="#22a884" stroke-dasharray="0 40 2 900"/><path d="M0 820V86" stroke="#fde725" stroke-dasharray="36 2 2 2 1 900"/></g>
<g transform="translate(686)" stroke-width="6"><path d="M0 820V86" stroke="#470d60" stroke-dasharray="0 60 1 28 1 8 1 26 2 16 2 20 1 2 2 2 2 18 2 1 2 2 2 9 2 5 2 4 1 2 2 13 3 40 4 18 2 2 1 13 2 13 3 58 2 4 1 20 2 25 2 2 2 22 1 6 2 29 1 13 2 29 4 3 2 23 2 11 2 22 2 10 2 2 4 9 1 20 2 35 1 900"/><path d="M0 820V86" stroke="#481a6c" stroke-dasharray="0 56 2 7 2 5 2 60 2 1 2 9 2 29 2 7 2 22 2 1 2 56 4 20 2 3 2 25 2 33 3 10 1 11 2 5 2 6 2 3 2 20 2 16 2 23 4 14 2 27 2 2 2 32 2 13 4 10 2 11 2 18 2 56 2 5 2 2 2 3 2 22 2 900"/><path d="M0 820V86" stroke="#482475" stroke-dasharray="0 96 2 5 2 47 2 16 2 14 2 6 1 13 2 14 2 24 2 47 1 22 2 2 2 23 2 18 2 7 4 69 1 58 2 15 1 2 2 22 2 34 2 45 2 13 1 9 2 46 1 900"/><path d="M0 820V86" stroke="#472f7d" stroke-dasharray="0 87 2 65 2 96 1 58 2 152 2 18 2 29 2 22 1 189 1 900"/><path d="M0 820V86" stroke="#443983" stroke-dasharray="0 58 2 179 2 79 2 51 2 76 2 16 2 43 2 14 2 111 3 900"/><path d="M0 820V86" stroke="#414487" stroke-dasharray="0 76 2 98 1 900"/><path d="M0 820V86" stroke="#3d4d8a" stroke-dasharray="0 49 2 18 1 900"/><path d="M0 820V86" stroke="#31688e" stroke-dasharray="0 43 2 900"/><path d="M0 820V86" stroke="#23888e" stroke-dasharray="0 45 4 2 1 900"/><path d="M0 820V86" stroke="#22a884" stroke-dasharray="0 40 2 900"/><path d="M0 820V86" stroke="#35b779" stroke-dasharray="0 36 2 900"/><path d="M0 820V86" stroke="#7ad151" stroke-dasharray="0 42 1 900"/><path d="M0 820V86" stroke="#fde725" stroke-dasharray="36 2 2 900"/></g>
<g transform="translate(691.5)" stroke-width="5"><path d="M0 820V86" stroke="#470d60" stroke-dasharray="0 96 2 39 2 9 8 16 2 2 1 9 4 4 1 8 1 8 2 5 2 11 1 2 2 11 2 32 2 9 2 13 2 3 2 14 2 8 1 4 2 2 1 24 2 7 2 31 3 4 2 14 2 4 1 18 2 8 1 9 2 22 2 7 4 3 2 15 1 24 2 12 2 15 1 4 2 22 3 22 4 5 2 16 2 2 2 27 3 6 2 7 2 900"/><path d="M0 820V86" stroke="#481a6c" stroke-dasharray="0 54 2 7 2 49 2 7 2 18 2 14 4 5 2 7 2 16 2 13 2 2 1 2 2 4 1 22 2 4 3 11 2 103 2 20 2 7 2 5 2 67 2 11 1 8 1 75 3 26 2 5 2 2 1 44 2 9 3 56 3 900"/><path d="M0 820V86" stroke="#482475" stroke-dasharray="0 56 2 9 2 11 3 18 2 4 2 38 1 58 2 64 1 31 2 9 4 16 2 21 2 15 2 9 1 33 2 18 2 52 4 16 2 11 2 5 2 18 2 2 1 13 2 7 2 4 1 26 2 3 2 2 2 12 4 34 2 22 2 14 2 9 2 900"/><path d="M0 820V86" stroke="#472f7d" stroke-dasharray="0 61 2 6 1 15 2 25 2 107 2 18 2 59 2 62 1 13 2 78 2 85 2 159 2 900"/><path d="M0 820V86" stroke="#443983" stroke-dasharray="0 58 2 27 2 50 2 103 2 16 2 172 2 31 2 213 2 20 2 900"/><path d="M0 820V86" stroke="#414487" stroke-dasharray="0 43 2 31 2 900"/><path d="M0 820V86" stroke="#3d4d8a" stroke-dasharray="0 51 1 303 2 900"/><path d="M0 820V86" stroke="#39568c" stroke-dasharray="0 47 4 900"/><path d="M0 820V86" stroke="#31688e" stroke-dasharray="0 45 2 900"/><path d="M0 820V86" stroke="#23888e" stroke-dasharray="0 40 2 900"/><path d="M0 820V86" stroke="#22a884" stroke-dasharray="0 36 2 900"/><path d="M0 820V86" stroke="#7ad151" stroke-dasharray="0 34 2 2 2 2 1 900"/><path d="M0 820V86" stroke="#d2e21b" stroke-dasharray="0 32 2 900"/><path d="M0 820V86" stroke="#fde725" stroke-dasharray="32 900"/></g>
<g transform="translate(697)" stroke-width="6"><path d="M0 820V86" stroke="#470d60" stroke-dasharray="0 52 6 12 2 4 2 2 3 18 4 16 2 2 2 20 1 17 1 19 1 67 2 26 1 6 2 23 4 41 2 6 1 24 2 5 2 2 2 16 2 5 2 4 3 4 2 29 2 3 2 29 4 23 2 2 3 11 2 7 2 58 2 3 2 22 2 2 1 6 2 61 2 900"/><path d="M0 820V86" stroke="#481a6c" stroke-dasharray="0 63 2 22 2 23 4 2 1 4 2 63 2 11 2 9 2 81 2 2 1 10 1 6 2 5 4 5 2 32 2 4 2 20 1 20 2 65 2 7 2 51 2 20 2 9 1 15 2 11 1 31 2 7 2 24 1 2 2 16 2 900"/><path d="M0 820V86" stroke="#482475" stroke-dasharray="0 43 2 24 1 57 1 9 4 58 2 18 2 9 2 50 2 22 2 49 1 19 1 2 2 31 2 43 2 18 2 47 2 7 2 12 2 11 2 14 2 83 2 17 1 31 2 9 2 3 2 900"/><path d="M0 820V86" stroke="#472f7d" stroke-dasharray="0 96 2 36 3 31 4 11 2 19 2 33 2 29 2 164 2 60 2 74 2 25 2 109 1 900"/><path d="M0 820V86" stroke="#443983" stroke-dasharray="0 172 2 76 2 96 1 11 2 141 2 196 2 14 2 900"/><path d="M0 820V86" stroke="#414487" stroke-dasharray="0 45 2 645 1 900"/><path d="M0 820V86" stroke="#3d4d8a" stroke-dasharray="0 51 1 900"/><path d="M0 820V86" stroke="#31688e" stroke-dasharray="0 47 2 900"/><path d="M0 820V86" stroke="#2a788e" stroke-dasharray="0 40 2 900"/><path d="M0 820V86" stroke="#1f988b" stroke-dasharray="0 42 1 900"/><path d="M0 820V86" stroke="#35b779" stroke-dasharray="0 36 4 900"/><path d="M0 820V86" stroke="#7ad151" stroke-dasharray="0 31 1 2 2 900"/><path d="M0 820V86" stroke="#a5db36" stroke-dasharray="0 32 2 900"/><path d="M0 820V86" stroke="#d2e21b" stroke-dasharray="0 27 2 900"/><path d="M0 820V86" stroke="#fde725" stroke-dasharray="27 2 2 900"/></g>
<g transform="translate(707.5)" stroke-width="5"><path d="M0 820V86" stroke="#470d60" stroke-dasharray="0 54 2 7 2 2 2 11 1 31 2 49 2 11 1 2 2 13 1 17 2 47 1 4 2 9 2 3 2 9 2 7 2 11 2 9 2 11 1 4 4 10 2 11 2 14 2 11 2 4 1 2 2 16 2 11 2 2 1 17 1 15 2 18 2 7 2 14 2 4 1 10 1 17 1 11 2 4 2 36 2 29 1 2 2 11 2 12 2 13 2 9 2 14 2 900"/><path d="M0 820V86" stroke="#481a6c" stroke-dasharray="0 49 2 9 1 11 2 13 2 12 2 24 1 44 2 18 2 1 2 22 2 16 4 31 1 8 1 13 2 9 2 12 2 18 4 4 1 20 2 6 1 18 2 13 2 3 2 7 2 2 2 18 2 25 2 34 2 22 2 29 2 23 2 5 2 6 1 2 2 4 3 7 2 6 2 18 3 76 1 900"/><path d="M0 820V86" stroke="#482475" stroke-dasharray="0 47 2 2 1 38 2 17 1 8 1 80 2 13 1 6 2 12 2 18 2 13 2 7 2 29 1 13 2 9 2 38 2 1 2 24 2 153 2 4 2 2 1 8 3 85 2 40 2 14 2 900"/><path d="M0 820V86" stroke="#472f7d" stroke-dasharray="0 43 2 13 2 1 2 40 2 52 2 67 2 20 2 79 2 18 2 11 2 110 2 38 4 175 2 900"/><path d="M0 820V86" stroke="#443983" stroke-dasharray="0 52 2 116 2 214 1 114 2 192 2 900"/><path d="M0 820V86" stroke="#39568c" stroke-dasharray="0 45 2 900"/><path d="M0 820V86" stroke="#2a788e" stroke-dasharray="0 29 2 900"/><path d="M0 820V86" stroke="#1f988b" stroke-dasharray="0 31 1 4 2 2 3 900"/><path d="M0 820V86" stroke="#22a884" stroke-dasharray="0 32 4 2 2 900"/><path d="M0 820V86" stroke="#fde725" stroke-dasharray="29 900"/></g>
<g transform="translate(718.5)" stroke-width="5"><path d="M0 820V86" stroke="#470d60" stroke-dasharray="0 42 1 26 1 19 1 8 1 2 2 44 1 11 2 7 2 7 2 16 2 4 2 1 2 40 2 2 2 10 2 102 1 33 2 13 3 2 2 7 2 23 2 22 2 9 2 12 2 44 1 13 2 9 2 49 1 13 2 51 1 10 1 900"/><path d="M0 820V86" stroke="#481a6c" stroke-dasharray="0 43 8 7 2 7 2 40 1 18 2 40 2 11 2 1 2 45 2 4 2 56 2 1 2 35 2 3 2 87 2 27 2 14 2 33 1 8 1 31 2 4 1 11 2 6 1 6 2 23 2 7 2 11 2 11 3 20 2 13 1 40 2 4 1 900"/><path d="M0 820V86" stroke="#482475" stroke-dasharray="0 52 2 7 2 11 2 89 1 71 2 40 2 114 1 11 2 29 2 7 2 43 2 31 2 34 2 24 1 19 1 96 4 900"/><path d="M0 820V86" stroke="#472f7d" stroke-dasharray="0 40 2 219 1 196 2 34 2 25 2 17 3 154 2 29 2 900"/><path d="M0 820V86" stroke="#443983" stroke-dasharray="0 51 1 339 2 900"/><path d="M0 820V86" stroke="#414487" stroke-dasharray="0 118 1 900"/><path d="M0 820V86" stroke="#39568c" stroke-dasharray="0 686 2 900"/><path d="M0 820V86" stroke="#35b779" stroke-dasharray="0 32 4 2 2 900"/><path d="M0 820V86" stroke="#54c568" stroke-dasharray="0 25 4 2 1 4 2 900"/><path d="M0 820V86" stroke="#a5db36" stroke-dasharray="0 29 2 900"/><path d="M0 820V86" stroke="#fde725" stroke-dasharray="25 900"/></g>
<g transform="translate(729.5)" stroke-width="5"><path d="M0 820V86" stroke="#470d60" stroke-dasharray="0 58 2 34 2 11 2 21 2 20 2 9 2 3 2 25 4 9 2 14 2 7 2 4 2 32 2 31 2 14 2 4 1 8 2 65 2 25 3 20 2 17 1 13 2 11 1 8 3 9 2 11 2 13 1 28 1 9 2 35 1 22 2 5 2 7 2 58 2 2 2 900"/><path d="M0 820V86" stroke="#481a6c" stroke-dasharray="0 42 1 11 2 7 4 7 2 33 1 33 2 3 2 22 2 12 2 18 2 11 2 16 2 9 2 2 1 6 2 20 1 17 1 2 2 9 2 18 4 3 2 33 2 10 2 11 4 14 2 25 2 33 2 81 4 18 2 50 2 27 4 2 2 47 1 4 2 900"/><path d="M0 820V86" stroke="#482475" stroke-dasharray="0 40 2 3 4 3 2 22 2 2 1 4 2 2 1 6 2 43 2 16 2 53 1 6 3 31 2 47 2 2 2 34 2 12 2 22 2 2 1 6 2 11 1 56 6 5 2 13 2 14 2 22 1 10 1 51 2 7 2 29 2 23 2 15 1 2 4 2 1 26 2 900"/><path d="M0 820V86" stroke="#472f7d" stroke-dasharray="0 43 2 15 1 9 2 6 2 1 2 42 2 52 2 83 2 147 2 14 2 13 1 116 2 16 2 38 2 15 1 900"/><path d="M0 820V86" stroke="#443983" stroke-dasharray="0 134 2 1 2 26 1 283 2 63 2 107 2 56 2 900"/><path d="M0 820V86" stroke="#3d4d8a" stroke-dasharray="0 501 2 900"/><path d="M0 820V86" stroke="#1f988b" stroke-dasharray="0 31 1 4 4 900"/><path d="M0 820V86" stroke="#35b779" stroke-dasharray="0 27 2 900"/><path d="M0 820V86" stroke="#54c568" stroke-dasharray="0 29 2 1 2 900"/><path d="M0 820V86" stroke="#7ad151" stroke-dasharray="0 25 2 7 2 900"/><path d="M0 820V86" stroke="#fde725" stroke-dasharray="25 900"/></g>
<g transform="translate(740)" stroke-width="6"><path d="M0 820V86" stroke="#470d60" stroke-dasharray="0 49 2 1 2 60 2 9 2 1 2 29 2 34 2 22 2 22 1 4 2 38 2 7 2 1 2 20 2 15 1 4 2 2 3 16 2 4 2 41 2 24 2 9 1 9 2 17 1 4 2 5 2 20 2 9 2 1 2 56 2 27 2 18 4 33 1 9 2 6 1 17 2 900"/><path d="M0 820V86" stroke="#481a6c" stroke-dasharray="0 42 1 11 4 3 2 4 2 5 2 7 2 51 1 2 2 38 2 13 1 51 2 18 2 23 2 6 1 28 1 31 2 22 2 12 2 6 1 55 1 8 2 45 2 12 2 2 2 20 1 40 2 7 2 4 2 34 2 2 3 18 2 26 1 22 2 900"/><path d="M0 820V86" stroke="#482475" stroke-dasharray="0 47 2 2 1 6 2 5 2 5 2 27 2 38 2 14 2 24 2 47 1 98 2 2 4 38 1 111 2 43 2 13 1 76 2 55 1 4 2 14 2 900"/><path d="M0 820V86" stroke="#472f7d" stroke-dasharray="0 45 2 52 2 73 2 16 2 41 2 2 2 31 1 44 2 228 2 25 2 83 2 9 2 18 2 900"/><path d="M0 820V86" stroke="#443983" stroke-dasharray="0 40 2 559 2 900"/><path d="M0 820V86" stroke="#414487" stroke-dasharray="0 43 2 270 2 228 2 89 1 900"/><path d="M0 820V86" stroke="#1f988b" stroke-dasharray="0 32 2 900"/><path d="M0 820V86" stroke="#35b779" stroke-dasharray="0 25 2 2 2 3 2 900"/><path d="M0 820V86" stroke="#54c568" stroke-dasharray="0 36 4 900"/><path d="M0 820V86" stroke="#7ad151" stroke-dasharray="0 31 1 900"/><path d="M0 820V86" stroke="#a5db36" stroke-dasharray="0 27 2 900"/><path d="M0 820V86" stroke="#fde725" stroke-dasharray="25 900"/></g>
<g transform="translate(751)" stroke-width="6"><path d="M0 820V86" stroke="#470d60" stroke-dasharray="0 56 2 3 2 6 1 11 2 6 1 40 2 2 3 75 3 4 2 67 2 43 6 5 2 11 1 29 2 9 2 11 4 16 2 47 2 27 2 21 4 4 1 2 2 24 1 2 2 2 2 19 2 4 2 2 1 6 2 14 2 5 2 9 2 7 2 2 2 1 2 13 2 2 1 2 2 5 2 9 2 900"/><path d="M0 820V86" stroke="#481a6c" stroke-dasharray="0 105 2 21 2 17 3 11 2 40 1 48 1 31 2 27 2 7 2 49 2 9 2 50 2 13 2 12 2 38 2 14 2 4 2 50 2 2 2 11 1 22 2 38 2 34 2 6 1 17 1 900"/><path d="M0 820V86" stroke="#482475" stroke-dasharray="0 42 1 4 2 5 2 54 2 27 4 56 2 47 2 9 2 5 2 25 2 45 4 16 2 33 1 19 1 55 2 65 2 5 2 58 2 3 2 105 2 900"/><path d="M0 820V86" stroke="#472f7d" stroke-dasharray="0 170 2 105 2 23 2 415 2 900"/><path d="M0 820V86" stroke="#443983" stroke-dasharray="0 45 2 119 2 382 2 900"/><path d="M0 820V86" stroke="#2a788e" stroke-dasharray="0 25 2 900"/><path d="M0 820V86" stroke="#23888e" stroke-dasharray="0 29 2 900"/><path d="M0 820V86" stroke="#1f988b" stroke-dasharray="0 31 1 2 4 900"/><path d="M0 820V86" stroke="#22a884" stroke-dasharray="2 30 2 4 2 900"/><path d="M0 820V86" stroke="#54c568" stroke-dasharray="0 27 2 900"/><path d="M0 820V86" stroke="#a5db36" stroke-dasharray="0 20 3 900"/><path d="M0 820V86" stroke="#fde725" stroke-dasharray="0 2 18 3 2 900"/></g>
<g transform="translate(761.5)" stroke-width="5"><path d="M0 820V86" stroke="#470d60" stroke-dasharray="0 56 2 2 1 9 2 2 2 61 4 4 2 23 2 4 1 2 2 7 2 5 2 7 2 2 4 63 2 51 1 10 1 2 2 25 2 6 1 11 2 29 2 60 1 2 2 2 2 36 2 16 2 20 2 27 1 46 2 25 2 9 2 25 2 3 2 6 1 2 4 3 2 900"/><path d="M0 820V86" stroke="#481a6c" stroke-dasharray="0 42 1 9 2 9 6 9 2 5 2 40 1 6 3 15 2 27 2 18 2 14 2 5 2 11 2 4 1 11 2 9 4 25 2 40 2 9 1 33 2 22 3 6 1 44 3 4 2 11 2 5 2 212 2 30 1 900"/><path d="M0 820V86" stroke="#482475" stroke-dasharray="0 45 4 2 1 60 2 16 2 71 1 17 2 56 3 9 2 7 2 131 3 42 2 43 4 11 2 25 2 43 2 25 2 11 2 52 2 900"/><path d="M0 820V86" stroke="#472f7d" stroke-dasharray="0 58 2 9 1 46 2 1 2 40 2 63 2 54 2 89 2 43 2 43 2 84 1 9 2 11 2 13 1 900"/><path d="M0 820V86" stroke="#443983" stroke-dasharray="0 40 2 12 2 58 2 201 2 1 2 136 2 250 2 900"/><path d="M0 820V86" stroke="#414487" stroke-dasharray="0 360 2 900"/><path d="M0 820V86" stroke="#31688e" stroke-dasharray="0 31 1 900"/><path d="M0 820V86" stroke="#23888e" stroke-dasharray="0 32 2 900"/><path d="M0 820V86" stroke="#1f988b" stroke-dasharray="0 29 2 900"/><path d="M0 820V86" stroke="#22a884" stroke-dasharray="2 25 2 5 4 900"/><path d="M0 820V86" stroke="#54c568" stroke-dasharray="0 22 1 2 2 11 2 900"/><path d="M0 820V86" stroke="#7ad151" stroke-dasharray="0 20 2 900"/><path d="M0 820V86" stroke="#fde725" stroke-dasharray="0 2 18 3 2 900"/></g>
<g transform="translate(772.5)" stroke-width="5"><path d="M0 820V86" stroke="#470d60" stroke-dasharray="0 45 2 9 2 25 2 29 2 14 2 7 2 18 2 15 1 17 1 24 2 2 1 13 7 8 1 11 2 16 4 16 4 7 4 9 2 23 2 4 1 6 2 34 2 9 2 7 2 16 2 5 2 9 2 9 6 5 2 21 2 8 1 17 1 11 2 7 2 20 2 9 2 3 2 24 2 7 2 7 2 9 2 5 2 34 2 15 3 2 2 3 2 900"/><path d="M0 820V86" stroke="#481a6c" stroke-dasharray="0 54 2 2 2 21 2 13 2 9 2 19 2 35 1 4 2 2 2 9 1 13 2 7 2 38 2 11 1 8 2 65 2 7 2 5 2 22 1 9 2 7 2 9 4 4 1 20 2 2 2 34 2 9 2 23 2 9 2 42 2 1 2 27 4 13 1 11 2 24 1 66 1 900"/><path d="M0 820V86" stroke="#482475" stroke-dasharray="0 40 3 4 7 15 1 6 2 7 2 3 2 2 2 14 2 120 1 46 2 18 1 10 1 44 2 12 2 120 1 33 2 25 2 15 1 8 1 8 1 2 2 5 2 62 2 14 2 4 1 35 2 5 2 900"/><path d="M0 820V86" stroke="#472f7d" stroke-dasharray="0 43 2 25 2 37 1 73 2 68 2 13 2 16 2 5 2 118 2 9 1 67 2 22 2 20 2 21 2 40 2 25 2 78 2 12 2 900"/><path d="M0 820V86" stroke="#443983" stroke-dasharray="0 61 2 58 2 38 4 154 1 15 2 65 2 900"/><path d="M0 820V86" stroke="#414487" stroke-dasharray="0 65 4 452 2 158 2 900"/><path d="M0 820V86" stroke="#3d4d8a" stroke-dasharray="0 206 2 900"/><path d="M0 820V86" stroke="#31688e" stroke-dasharray="0 31 1 900"/><path d="M0 820V86" stroke="#23888e" stroke-dasharray="2 25 2 900"/><path d="M0 820V86" stroke="#22a884" stroke-dasharray="0 25 2 2 2 7 2 900"/><path d="M0 820V86" stroke="#35b779" stroke-dasharray="0 22 1 9 2 2 2 900"/><path d="M0 820V86" stroke="#54c568" stroke-dasharray="0 34 2 900"/><path d="M0 820V86" stroke="#a5db36" stroke-dasharray="0 20 2 900"/><path d="M0 820V86" stroke="#fde725" stroke-dasharray="0 2 18 3 2 900"/></g>
<g transform="translate(799.5)" stroke-width="5"><path d="M0 820V86" stroke="#470d60" stroke-dasharray="0 36 2 20 2 7 2 16 2 23 2 11 2 5 2 7 2 15 1 8 1 15 2 23 2 11 2 12 2 40 2 31 2 1 4 34 4 4 1 15 2 2 1 22 2 4 1 9 2 18 2 13 2 12 2 11 4 23 2 2 2 10 2 2 2 7 2 16 2 7 2 13 2 19 2 8 1 2 2 9 2 23 2 15 1 13 2 2 2 30 2 13 2 900"/><path d="M0 820V86" stroke="#481a6c" stroke-dasharray="0 38 2 3 2 33 2 16 2 11 1 44 2 23 2 11 2 16 2 3 2 31 2 27 4 3 2 4 3 24 2 12 2 27 2 18 2 5 2 6 1 26 2 5 4 7 2 16 2 11 2 12 2 4 1 4 2 13 1 20 2 2 2 5 2 11 2 20 1 58 2 62 2 14 2 900"/><path d="M0 820V86" stroke="#482475" stroke-dasharray="0 45 2 25 6 25 4 12 2 40 2 3 2 15 2 27 2 29 1 2 2 2 2 14 2 27 2 56 4 5 2 83 2 40 2 1 2 22 4 9 1 8 2 7 2 9 1 6 2 2 1 96 2 42 2 900"/><path d="M0 820V86" stroke="#472f7d" stroke-dasharray="0 31 1 33 2 20 2 47 1 272 2 4 1 78 2 11 2 3 4 7 2 2 2 20 1 4 2 3 2 2 2 2 2 3 4 76 2 72 2 900"/><path d="M0 820V86" stroke="#443983" stroke-dasharray="0 32 4 6 1 9 2 218 1 62 2 163 3 27 2 8 3 40 2 41 2 900"/><path d="M0 820V86" stroke="#414487" stroke-dasharray="0 29 2 20 1 18 2 306 2 118 2 45 2 23 2 7 2 900"/><path d="M0 820V86" stroke="#3d4d8a" stroke-dasharray="0 520 1 29 2 900"/><path d="M0 820V86" stroke="#39568c" stroke-dasharray="0 25 2 900"/><path d="M0 820V86" stroke="#23888e" stroke-dasharray="0 20 2 900"/><path d="M0 820V86" stroke="#1f988b" stroke-dasharray="0 22 3 900"/><path d="M0 820V86" stroke="#35b779" stroke-dasharray="0 18 2 900"/><path d="M0 820V86" stroke="#7ad151" stroke-dasharray="2 14 2 900"/><path d="M0 820V86" stroke="#fde725" stroke-dasharray="0 2 14 900"/></g>
<g transform="translate(826.5)" stroke-width="5"><path d="M0 820V86" stroke="#470d60" stroke-dasharray="0 74 2 27 2 11 2 30 4 9 2 3 2 9 4 20 7 4 2 12 4 9 2 5 2 7 2 58 2 23 2 4 3 28 1 11 2 4 3 15 2 38 1 8 3 13 2 20 1 55 3 20 2 2 2 7 2 45 2 2 2 1 2 2 2 5 2 22 3 6 2 36 2 900"/><path d="M0 820V86" stroke="#481a6c" stroke-dasharray="0 25 2 2 2 9 3 13 2 12 2 9 2 29 2 11 2 20 1 33 2 14 2 25 2 9 2 24 1 11 2 42 3 9 2 49 2 4 1 20 2 33 2 3 2 38 2 14 2 7 2 26 1 26 2 30 2 29 2 42 1 4 2 41 2 2 2 5 1 900"/><path d="M0 820V86" stroke="#482475" stroke-dasharray="0 27 2 2 1 15 2 9 2 1 2 20 2 9 4 11 1 44 2 20 1 53 2 11 1 15 2 21 2 2 2 3 2 38 2 2 2 14 2 5 2 76 2 22 2 5 2 14 2 33 2 45 2 18 2 16 2 16 2 3 2 60 2 14 2 900"/><path d="M0 820V86" stroke="#472f7d" stroke-dasharray="0 32 2 2 2 14 2 15 1 19 5 5 4 27 2 85 2 2 2 161 2 38 1 2 2 25 2 15 2 88 2 44 1 17 1 29 2 53 2 900"/><path d="M0 820V86" stroke="#443983" stroke-dasharray="0 38 2 78 1 22 2 29 2 25 2 52 2 51 2 5 2 116 2 23 2 900"/><path d="M0 820V86" stroke="#414487" stroke-dasharray="0 49 2 358 2 900"/><path d="M0 820V86" stroke="#3d4d8a" stroke-dasharray="0 34 2 900"/><path d="M0 820V86" stroke="#2a788e" stroke-dasharray="0 20 2 900"/><path d="M0 820V86" stroke="#23888e" stroke-dasharray="0 23 2 900"/><path d="M0 820V86" stroke="#1f988b" stroke-dasharray="0 18 2 900"/><path d="M0 820V86" stroke="#22a884" stroke-dasharray="0 16 2 4 1 900"/><path d="M0 820V86" stroke="#54c568" stroke-dasharray="2 900"/><path d="M0 820V86" stroke="#fde725" stroke-dasharray="0 2 14 900"/></g>
<g transform="translate(853.5)" stroke-width="5"><path d="M0 820V86" stroke="#470d60" stroke-dasharray="0 54 2 2 2 21 2 7 2 26 1 9 4 13 2 1 2 9 4 11 2 9 1 6 2 12 2 2 2 7 2 7 2 54 2 16 8 1 2 16 2 49 2 2 2 10 2 4 2 20 1 2 2 20 2 14 4 14 2 67 4 2 1 10 1 2 2 4 1 2 2 18 4 11 1 8 3 9 2 2 2 23 2 6 1 29 2 11 4 3 4 900"/><path d="M0 820V86" stroke="#481a6c" stroke-dasharray="0 32 4 25 2 9 2 2 2 5 4 2 1 13 2 4 1 13 2 2 1 4 4 50 2 2 2 5 4 3 2 2 2 20 2 11 1 9 2 4 2 5 4 16 2 22 1 15 3 4 2 2 2 5 2 7 2 54 4 12 2 18 2 7 2 24 2 12 2 18 2 2 2 1 2 22 2 20 2 14 2 11 1 15 2 36 2 3 2 6 1 49 2 900"/><path d="M0 820V86" stroke="#482475" stroke-dasharray="0 38 2 23 2 15 1 11 4 70 2 53 2 23 2 9 2 22 1 9 2 62 3 8 1 20 2 2 2 40 1 26 2 67 1 19 1 71 2 34 2 13 2 9 1 4 2 5 2 11 2 12 2 900"/><path d="M0 820V86" stroke="#472f7d" stroke-dasharray="0 29 3 4 2 9 2 2 1 13 2 7 2 74 2 60 2 41 2 40 2 18 2 16 2 12 2 145 2 58 2 1 2 58 2 25 2 27 2 13 2 900"/><path d="M0 820V86" stroke="#443983" stroke-dasharray="0 40 2 7 2 47 1 82 2 58 2 57 2 142 1 24 2 69 3 91 2 45 2 900"/><path d="M0 820V86" stroke="#414487" stroke-dasharray="0 43 4 9 2 9 2 170 2 101 2 29 2 353 2 900"/><path d="M0 820V86" stroke="#3d4d8a" stroke-dasharray="0 25 2 15 1 536 2 26 1 900"/><path d="M0 820V86" stroke="#39568c" stroke-dasharray="0 27 2 900"/><path d="M0 820V86" stroke="#23888e" stroke-dasharray="0 18 5 900"/><path d="M0 820V86" stroke="#22a884" stroke-dasharray="0 16 2 900"/><path d="M0 820V86" stroke="#54c568" stroke-dasharray="0 23 2 900"/><path d="M0 820V86" stroke="#fde725" stroke-dasharray="16 900"/></g>
<g transform="translate(880.5)" stroke-width="5"><path d="M0 820V86" stroke="#470d60" stroke-dasharray="0 45 2 2 2 5 2 2 1 15 2 3 2 20 2 16 2 2 2 34 4 5 2 23 2 2 7 13 2 3 2 26 1 11 2 34 2 9 2 2 2 3 2 13 2 36 2 14 2 2 2 21 2 2 2 2 1 33 2 2 1 8 2 1 2 6 1 4 2 9 2 11 1 8 1 13 2 7 4 18 2 5 2 13 1 29 2 6 1 4 2 5 2 6 1 15 2 5 4 11 1 6 2 12 2 20 2 900"/><path d="M0 820V86" stroke="#481a6c" stroke-dasharray="0 25 4 3 2 2 2 4 1 8 1 2 2 5 2 4 2 23 2 34 2 2 4 1 2 9 2 24 2 12 2 51 2 12 2 22 2 3 2 9 2 13 1 15 2 18 2 19 2 27 4 2 4 95 2 9 4 20 2 18 2 11 1 37 1 18 2 22 2 34 2 7 2 27 2 900"/><path d="M0 820V86" stroke="#482475" stroke-dasharray="0 34 2 16 2 29 2 5 2 13 2 126 2 27 2 4 2 3 2 7 2 2 2 5 2 29 2 3 2 26 1 6 2 12 2 4 2 77 2 20 2 22 2 36 2 1 2 11 2 31 1 17 2 27 2 83 2 900"/><path d="M0 820V86" stroke="#472f7d" stroke-dasharray="0 65 2 3 2 8 1 4 4 12 2 4 2 3 2 69 2 137 2 31 2 65 2 49 1 64 2 9 1 2 2 27 2 14 2 60 2 3 2 900"/><path d="M0 820V86" stroke="#443983" stroke-dasharray="0 31 1 299 2 270 2 7 2 900"/><path d="M0 820V86" stroke="#414487" stroke-dasharray="0 29 2 12 2 71 2 1 2 900"/><path d="M0 820V86" stroke="#2a788e" stroke-dasharray="0 22 1 900"/><path d="M0 820V86" stroke="#1f988b" stroke-dasharray="0 18 4 900"/><path d="M0 820V86" stroke="#22a884" stroke-dasharray="0 23 2 900"/><path d="M0 820V86" stroke="#35b779" stroke-dasharray="0 16 2 900"/><path d="M0 820V86" stroke="#fde725" stroke-dasharray="16 900"/></g>
<g transform="translate(907.5)" stroke-width="5"><path d="M0 820V86" stroke="#470d60" stroke-dasharray="0 56 4 7 2 1 2 6 2 14 4 9 2 21 2 5 2 20 2 15 1 9 4 4 1 9 2 2 2 18 2 22 1 13 2 29 2 18 2 3 2 5 2 8 1 2 2 43 2 7 2 9 2 2 2 11 1 53 2 2 1 11 2 7 2 22 2 9 2 1 2 22 2 20 1 60 2 11 2 20 1 6 2 3 2 11 2 900"/><path d="M0 820V86" stroke="#481a6c" stroke-dasharray="0 51 1 9 2 18 4 24 1 15 2 1 2 4 2 5 2 27 2 43 2 27 2 4 2 94 2 41 4 2 1 22 4 3 2 9 2 7 4 13 1 57 1 48 3 4 2 16 2 3 2 33 2 36 2 1 2 15 1 20 2 900"/><path d="M0 820V86" stroke="#482475" stroke-dasharray="0 40 2 21 2 7 2 15 1 24 2 27 5 15 2 61 2 11 2 79 2 105 2 24 1 4 2 11 3 18 2 6 1 6 2 69 1 31 2 5 2 24 2 25 2 9 2 10 2 24 2 900"/><path d="M0 820V86" stroke="#472f7d" stroke-dasharray="0 42 1 6 2 18 1 147 2 11 2 5 2 29 2 97 2 140 2 23 2 27 2 16 2 43 2 900"/><path d="M0 820V86" stroke="#443983" stroke-dasharray="0 45 4 125 2 23 2 78 2 52 2 96 2 179 2 900"/><path d="M0 820V86" stroke="#414487" stroke-dasharray="0 43 2 7 2 236 1 19 1 900"/><path d="M0 820V86" stroke="#3d4d8a" stroke-dasharray="0 60 1 900"/><path d="M0 820V86" stroke="#31688e" stroke-dasharray="0 36 2 900"/><path d="M0 820V86" stroke="#2a788e" stroke-dasharray="0 25 2 900"/><path d="M0 820V86" stroke="#23888e" stroke-dasharray="0 29 2 3 2 900"/><path d="M0 820V86" stroke="#1f988b" stroke-dasharray="0 32 2 900"/><path d="M0 820V86" stroke="#54c568" stroke-dasharray="0 27 2 2 1 6 2 900"/><path d="M0 820V86" stroke="#fde725" stroke-dasharray="25 900"/></g>
<g transform="translate(934.5)" stroke-width="5"><path d="M0 820V86" stroke="#470d60" stroke-dasharray="0 47 2 11 1 11 2 38 2 18 2 9 4 34 2 5 2 4 1 4 2 7 2 45 4 7 2 5 6 29 2 9 1 40 4 7 2 87 2 20 1 76 2 17 1 13 2 18 2 3 2 20 2 14 2 33 2 11 3 2 2 2 3 11 2 900"/><path d="M0 820V86" stroke="#481a6c" stroke-dasharray="0 40 3 2 2 2 3 26 2 16 2 12 2 44 1 29 2 36 2 4 3 37 2 16 2 36 2 5 2 60 1 11 2 18 2 18 2 22 2 21 2 11 2 3 2 2 2 7 2 22 1 11 2 18 2 7 2 31 2 7 2 2 1 13 2 11 1 22 2 18 2 23 2 900"/><path d="M0 820V86" stroke="#482475" stroke-dasharray="0 43 2 7 4 27 2 13 1 17 2 23 2 20 2 25 2 36 2 49 2 18 1 49 2 122 1 114 2 94 2 35 1 900"/><path d="M0 820V86" stroke="#472f7d" stroke-dasharray="0 56 2 22 1 91 2 18 2 41 2 44 1 18 2 22 2 18 2 18 2 7 2 2 1 9 2 36 2 82 2 27 2 153 2 35 1 900"/><path d="M0 820V86" stroke="#443983" stroke-dasharray="0 148 2 330 2 115 2 123 2 900"/><path d="M0 820V86" stroke="#414487" stroke-dasharray="0 681 2 900"/><path d="M0 820V86" stroke="#39568c" stroke-dasharray="0 65 2 900"/><path d="M0 820V86" stroke="#23888e" stroke-dasharray="0 32 2 4 2 900"/><path d="M0 820V86" stroke="#1f988b" stroke-dasharray="0 25 2 4 1 2 4 900"/><path d="M0 820V86" stroke="#22a884" stroke-dasharray="0 27 4 900"/><path d="M0 820V86" stroke="#fde725" stroke-dasharray="25 900"/></g>
</g>
<g fill="none" stroke="#000" stroke-width="1" shape-rendering="crispEdges">
<rect x="98.5" y="85.5" width="864" height="737"/>
<path d="M179.5 823v4.86M287.5 823v4.86M395.5 823v4.86M503.5 823v4.86M611.5 823v4.86M719.5 823v4.86M827.5 823v4.86M935.5 823v4.86M98 810.5h-4.86M98 689.5h-4.86M98 569.5h-4.86M98 448.5h-4.86M98 327.5h-4.86M98 206.5h-4.86M98 85.5h-4.86M1053 822.5h4.86M1053 699.5h4.86M1053 577.5h4.86M1053 454.5h4.86M1053 331.5h4.86M1053 208.5h4.86M1053 85.5h4.86"/>
</g>
<rect x="1016.5" y="85.5" width="36" height="737" fill="url(#vg)" stroke="#000" stroke-width="1" shape-rendering="crispEdges"/>
<g class="T"><text x="529.5" y="43.56" xml:space="preserve" style="white-space:pre">IRF Kiruna Ionosonde KI167 2025-11-21 07:41:00  UT</text><text x="529.5" y="76.67">noise_floor=-121.46 (dB) peak SNR=103.05</text></g>
<g class="t" text-anchor="middle"><text x="179" y="847.95">2</text><text x="287" y="847.95">4</text><text x="395" y="847.95">6</text><text x="503" y="847.95">8</text><text x="611" y="847.95">10</text><text x="719" y="847.95">12</text><text x="827" y="847.95">14</text><text x="935" y="847.95">16</text><text x="529" y="874.27">Frequency (MHz)</text>
<text transform="translate(37.6 454.5) rotate(-90)">Virtual range (km)</text>
<text transform="translate(1109 454.2) rotate(-90)">SNR (dB)</text></g>
<g class="t" text-anchor="end"><text x="88.2" y="817.80">0</text><text x="87.3" y="696.80">100</text><text x="87.3" y="576.80">200</text><text x="87.3" y="455.80">300</text><text x="87.3" y="334.80">400</text><text x="87.3" y="213.80">500</text><text x="87.3" y="92.80">600</text></g>
<g class="t"><text x="1062" y="829.80">0</text><text x="1063" y="706.80">5</text><text x="1062" y="584.80">10</text><text x="1062" y="461.80">15</text><text x="1062" y="338.80">20</text><text x="1062" y="215.80">25</text><text x="1062" y="92.80">30</text></g>
</svg>
</body></html>
